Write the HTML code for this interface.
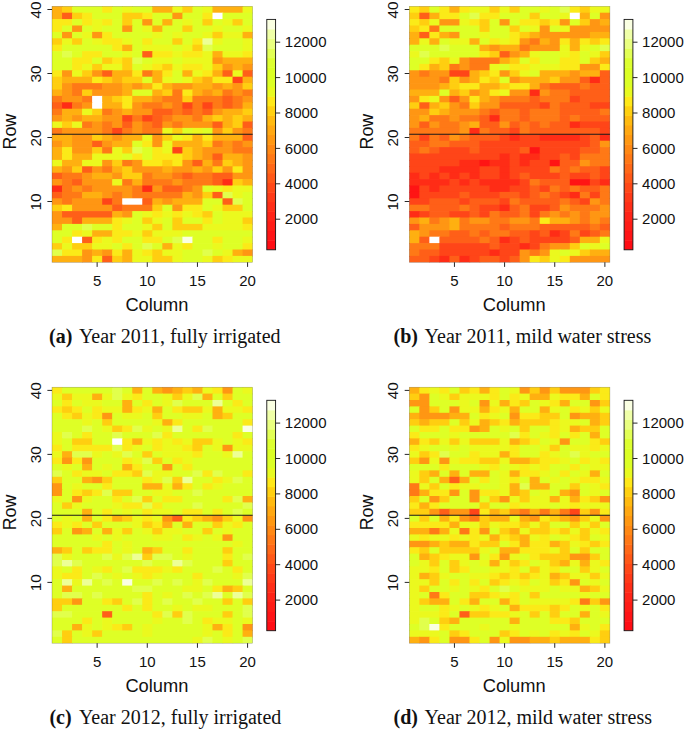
<!DOCTYPE html>
<html><head><meta charset="utf-8"><title>Heat maps</title>
<style>
html,body{margin:0;padding:0;background:#fff;}
svg{display:block;}
.s{font-family:"Liberation Sans",sans-serif;fill:#111;}
.t{font-family:"Liberation Serif",serif;fill:#111;}
</style></head><body>
<svg width="685" height="729" viewBox="0 0 685 729">
<rect x="0" y="0" width="685" height="729" fill="#fff"/>
<g>
<rect x="52" y="6.3" width="10.73" height="7.1" fill="#FFB010"/><rect x="62.03" y="6.3" width="10.73" height="7.1" fill="#FFCE10"/><rect x="72.06" y="6.3" width="30.79" height="7.1" fill="#DEFF26"/><rect x="102.15" y="6.3" width="10.73" height="7.1" fill="#FBEA18"/><rect x="112.18" y="6.3" width="10.73" height="7.1" fill="#DEFF26"/><rect x="122.21" y="6.3" width="10.73" height="7.1" fill="#EBF91E"/><rect x="132.24" y="6.3" width="20.76" height="7.1" fill="#DEFF26"/><rect x="152.3" y="6.3" width="20.76" height="7.1" fill="#FFB010"/><rect x="172.36" y="6.3" width="10.73" height="7.1" fill="#EBF91E"/><rect x="182.39" y="6.3" width="10.73" height="7.1" fill="#FFCE10"/><rect x="192.42" y="6.3" width="10.73" height="7.1" fill="#DEFF26"/><rect x="202.45" y="6.3" width="10.73" height="7.1" fill="#EBF91E"/><rect x="212.48" y="6.3" width="30.79" height="7.1" fill="#FFB010"/><rect x="242.57" y="6.3" width="10.03" height="7.1" fill="#EBF91E"/>
<rect x="52" y="12.7" width="10.73" height="7.1" fill="#FFB010"/><rect x="62.03" y="12.7" width="10.73" height="7.1" fill="#FF5F18"/><rect x="72.06" y="12.7" width="10.73" height="7.1" fill="#FFCE10"/><rect x="82.09" y="12.7" width="10.73" height="7.1" fill="#FBEA18"/><rect x="92.12" y="12.7" width="30.79" height="7.1" fill="#DEFF26"/><rect x="122.21" y="12.7" width="20.76" height="7.1" fill="#FFCE10"/><rect x="142.27" y="12.7" width="10.73" height="7.1" fill="#FBEA18"/><rect x="152.3" y="12.7" width="20.76" height="7.1" fill="#DEFF26"/><rect x="172.36" y="12.7" width="10.73" height="7.1" fill="#FF9613"/><rect x="182.39" y="12.7" width="20.76" height="7.1" fill="#DEFF26"/><rect x="202.45" y="12.7" width="10.73" height="7.1" fill="#FBEA18"/><rect x="212.48" y="12.7" width="10.73" height="7.1" fill="#FFFFFF"/><rect x="222.51" y="12.7" width="30.09" height="7.1" fill="#DEFF26"/>
<rect x="52" y="19.1" width="20.76" height="7.1" fill="#FBEA18"/><rect x="72.06" y="19.1" width="10.73" height="7.1" fill="#DEFF26"/><rect x="82.09" y="19.1" width="10.73" height="7.1" fill="#FBEA18"/><rect x="92.12" y="19.1" width="10.73" height="7.1" fill="#EBF91E"/><rect x="102.15" y="19.1" width="10.73" height="7.1" fill="#FBEA18"/><rect x="112.18" y="19.1" width="10.73" height="7.1" fill="#DEFF26"/><rect x="122.21" y="19.1" width="10.73" height="7.1" fill="#FFCE10"/><rect x="132.24" y="19.1" width="10.73" height="7.1" fill="#DEFF26"/><rect x="142.27" y="19.1" width="10.73" height="7.1" fill="#FF9613"/><rect x="152.3" y="19.1" width="10.73" height="7.1" fill="#DEFF26"/><rect x="162.33" y="19.1" width="10.73" height="7.1" fill="#FFB010"/><rect x="172.36" y="19.1" width="10.73" height="7.1" fill="#DEFF26"/><rect x="182.39" y="19.1" width="10.73" height="7.1" fill="#EBF91E"/><rect x="192.42" y="19.1" width="10.73" height="7.1" fill="#DEFF26"/><rect x="202.45" y="19.1" width="10.73" height="7.1" fill="#FFCE10"/><rect x="212.48" y="19.1" width="10.73" height="7.1" fill="#DEFF26"/><rect x="222.51" y="19.1" width="10.73" height="7.1" fill="#EBF91E"/><rect x="232.54" y="19.1" width="10.73" height="7.1" fill="#FFCE10"/><rect x="242.57" y="19.1" width="10.03" height="7.1" fill="#DEFF26"/>
<rect x="52" y="25.5" width="10.73" height="7.1" fill="#FBEA18"/><rect x="62.03" y="25.5" width="10.73" height="7.1" fill="#DEFF26"/><rect x="72.06" y="25.5" width="10.73" height="7.1" fill="#FF9613"/><rect x="82.09" y="25.5" width="10.73" height="7.1" fill="#DEFF26"/><rect x="92.12" y="25.5" width="10.73" height="7.1" fill="#EBF91E"/><rect x="102.15" y="25.5" width="20.76" height="7.1" fill="#DEFF26"/><rect x="122.21" y="25.5" width="10.73" height="7.1" fill="#FF9613"/><rect x="132.24" y="25.5" width="10.73" height="7.1" fill="#DEFF26"/><rect x="142.27" y="25.5" width="10.73" height="7.1" fill="#EBF91E"/><rect x="152.3" y="25.5" width="10.73" height="7.1" fill="#FFB010"/><rect x="162.33" y="25.5" width="20.76" height="7.1" fill="#DEFF26"/><rect x="182.39" y="25.5" width="10.73" height="7.1" fill="#FFCE10"/><rect x="192.42" y="25.5" width="20.76" height="7.1" fill="#DEFF26"/><rect x="212.48" y="25.5" width="10.73" height="7.1" fill="#EBF91E"/><rect x="222.51" y="25.5" width="20.76" height="7.1" fill="#DEFF26"/><rect x="242.57" y="25.5" width="10.03" height="7.1" fill="#EBF91E"/>
<rect x="52" y="31.9" width="10.73" height="7.1" fill="#DEFF26"/><rect x="62.03" y="31.9" width="10.73" height="7.1" fill="#FF9613"/><rect x="72.06" y="31.9" width="10.73" height="7.1" fill="#DEFF26"/><rect x="82.09" y="31.9" width="10.73" height="7.1" fill="#EBF91E"/><rect x="92.12" y="31.9" width="10.73" height="7.1" fill="#FF9613"/><rect x="102.15" y="31.9" width="10.73" height="7.1" fill="#FBEA18"/><rect x="112.18" y="31.9" width="40.82" height="7.1" fill="#DEFF26"/><rect x="152.3" y="31.9" width="10.73" height="7.1" fill="#EBF91E"/><rect x="162.33" y="31.9" width="10.73" height="7.1" fill="#DEFF26"/><rect x="172.36" y="31.9" width="10.73" height="7.1" fill="#EBF91E"/><rect x="182.39" y="31.9" width="20.76" height="7.1" fill="#DEFF26"/><rect x="202.45" y="31.9" width="10.73" height="7.1" fill="#EBF91E"/><rect x="212.48" y="31.9" width="10.73" height="7.1" fill="#FFCE10"/><rect x="222.51" y="31.9" width="20.76" height="7.1" fill="#EBF91E"/><rect x="242.57" y="31.9" width="10.03" height="7.1" fill="#FFB010"/>
<rect x="52" y="38.3" width="10.73" height="7.1" fill="#FFCE10"/><rect x="62.03" y="38.3" width="10.73" height="7.1" fill="#EBF91E"/><rect x="72.06" y="38.3" width="10.73" height="7.1" fill="#FFCE10"/><rect x="82.09" y="38.3" width="10.73" height="7.1" fill="#DEFF26"/><rect x="92.12" y="38.3" width="10.73" height="7.1" fill="#EBF91E"/><rect x="102.15" y="38.3" width="20.76" height="7.1" fill="#FBEA18"/><rect x="122.21" y="38.3" width="10.73" height="7.1" fill="#EBF91E"/><rect x="132.24" y="38.3" width="10.73" height="7.1" fill="#DEFF26"/><rect x="142.27" y="38.3" width="10.73" height="7.1" fill="#FBEA18"/><rect x="152.3" y="38.3" width="20.76" height="7.1" fill="#DEFF26"/><rect x="172.36" y="38.3" width="10.73" height="7.1" fill="#FFCE10"/><rect x="182.39" y="38.3" width="10.73" height="7.1" fill="#DEFF26"/><rect x="192.42" y="38.3" width="10.73" height="7.1" fill="#FBEA18"/><rect x="202.45" y="38.3" width="10.73" height="7.1" fill="#EDFF96"/><rect x="212.48" y="38.3" width="10.73" height="7.1" fill="#EBF91E"/><rect x="222.51" y="38.3" width="20.76" height="7.1" fill="#DEFF26"/><rect x="242.57" y="38.3" width="10.03" height="7.1" fill="#EBF91E"/>
<rect x="52" y="44.7" width="10.73" height="7.1" fill="#FBEA18"/><rect x="62.03" y="44.7" width="50.85" height="7.1" fill="#DEFF26"/><rect x="112.18" y="44.7" width="10.73" height="7.1" fill="#FBEA18"/><rect x="122.21" y="44.7" width="10.73" height="7.1" fill="#FFB010"/><rect x="132.24" y="44.7" width="10.73" height="7.1" fill="#DEFF26"/><rect x="142.27" y="44.7" width="30.79" height="7.1" fill="#EBF91E"/><rect x="172.36" y="44.7" width="10.73" height="7.1" fill="#DEFF26"/><rect x="182.39" y="44.7" width="10.73" height="7.1" fill="#EBF91E"/><rect x="192.42" y="44.7" width="10.73" height="7.1" fill="#FFCE10"/><rect x="202.45" y="44.7" width="10.73" height="7.1" fill="#E1FF4C"/><rect x="212.48" y="44.7" width="30.79" height="7.1" fill="#DEFF26"/><rect x="242.57" y="44.7" width="10.03" height="7.1" fill="#EBF91E"/>
<rect x="52" y="51.1" width="10.73" height="7.1" fill="#DEFF26"/><rect x="62.03" y="51.1" width="10.73" height="7.1" fill="#E1FF4C"/><rect x="72.06" y="51.1" width="10.73" height="7.1" fill="#DEFF26"/><rect x="82.09" y="51.1" width="20.76" height="7.1" fill="#FBEA18"/><rect x="102.15" y="51.1" width="20.76" height="7.1" fill="#DEFF26"/><rect x="122.21" y="51.1" width="10.73" height="7.1" fill="#EBF91E"/><rect x="132.24" y="51.1" width="10.73" height="7.1" fill="#DEFF26"/><rect x="142.27" y="51.1" width="10.73" height="7.1" fill="#FF5F18"/><rect x="152.3" y="51.1" width="20.76" height="7.1" fill="#FBEA18"/><rect x="172.36" y="51.1" width="10.73" height="7.1" fill="#EBF91E"/><rect x="182.39" y="51.1" width="20.76" height="7.1" fill="#FBEA18"/><rect x="202.45" y="51.1" width="10.73" height="7.1" fill="#EBF91E"/><rect x="212.48" y="51.1" width="10.73" height="7.1" fill="#FFB010"/><rect x="222.51" y="51.1" width="20.76" height="7.1" fill="#EBF91E"/><rect x="242.57" y="51.1" width="10.03" height="7.1" fill="#FBEA18"/>
<rect x="52" y="57.5" width="20.76" height="7.1" fill="#DEFF26"/><rect x="72.06" y="57.5" width="20.76" height="7.1" fill="#FBEA18"/><rect x="92.12" y="57.5" width="10.73" height="7.1" fill="#DEFF26"/><rect x="102.15" y="57.5" width="10.73" height="7.1" fill="#FFCE10"/><rect x="112.18" y="57.5" width="10.73" height="7.1" fill="#FBEA18"/><rect x="122.21" y="57.5" width="10.73" height="7.1" fill="#FFCE10"/><rect x="132.24" y="57.5" width="10.73" height="7.1" fill="#E1FF4C"/><rect x="142.27" y="57.5" width="10.73" height="7.1" fill="#DEFF26"/><rect x="152.3" y="57.5" width="20.76" height="7.1" fill="#EBF91E"/><rect x="172.36" y="57.5" width="10.73" height="7.1" fill="#DEFF26"/><rect x="182.39" y="57.5" width="30.79" height="7.1" fill="#EBF91E"/><rect x="212.48" y="57.5" width="10.73" height="7.1" fill="#FF9613"/><rect x="222.51" y="57.5" width="30.09" height="7.1" fill="#FFB010"/>
<rect x="52" y="63.9" width="20.76" height="7.1" fill="#DEFF26"/><rect x="72.06" y="63.9" width="10.73" height="7.1" fill="#FBEA18"/><rect x="82.09" y="63.9" width="10.73" height="7.1" fill="#EBF91E"/><rect x="92.12" y="63.9" width="10.73" height="7.1" fill="#FFCE10"/><rect x="102.15" y="63.9" width="20.76" height="7.1" fill="#EBF91E"/><rect x="122.21" y="63.9" width="10.73" height="7.1" fill="#FFCE10"/><rect x="132.24" y="63.9" width="10.73" height="7.1" fill="#DEFF26"/><rect x="142.27" y="63.9" width="10.73" height="7.1" fill="#EBF91E"/><rect x="152.3" y="63.9" width="10.73" height="7.1" fill="#FBEA18"/><rect x="162.33" y="63.9" width="10.73" height="7.1" fill="#FFCE10"/><rect x="172.36" y="63.9" width="10.73" height="7.1" fill="#EBF91E"/><rect x="182.39" y="63.9" width="20.76" height="7.1" fill="#FBEA18"/><rect x="202.45" y="63.9" width="10.73" height="7.1" fill="#EBF91E"/><rect x="212.48" y="63.9" width="10.73" height="7.1" fill="#FFCE10"/><rect x="222.51" y="63.9" width="10.73" height="7.1" fill="#FF9613"/><rect x="232.54" y="63.9" width="10.73" height="7.1" fill="#FFB010"/><rect x="242.57" y="63.9" width="10.03" height="7.1" fill="#FF9613"/>
<rect x="52" y="70.3" width="10.73" height="7.1" fill="#FBEA18"/><rect x="62.03" y="70.3" width="10.73" height="7.1" fill="#FF9613"/><rect x="72.06" y="70.3" width="10.73" height="7.1" fill="#EBF91E"/><rect x="82.09" y="70.3" width="10.73" height="7.1" fill="#FFCE10"/><rect x="92.12" y="70.3" width="10.73" height="7.1" fill="#FF9613"/><rect x="102.15" y="70.3" width="10.73" height="7.1" fill="#FF5F18"/><rect x="112.18" y="70.3" width="20.76" height="7.1" fill="#FFB010"/><rect x="132.24" y="70.3" width="10.73" height="7.1" fill="#FBEA18"/><rect x="142.27" y="70.3" width="10.73" height="7.1" fill="#FF7916"/><rect x="152.3" y="70.3" width="10.73" height="7.1" fill="#FFB010"/><rect x="162.33" y="70.3" width="10.73" height="7.1" fill="#FBEA18"/><rect x="172.36" y="70.3" width="10.73" height="7.1" fill="#DEFF26"/><rect x="182.39" y="70.3" width="10.73" height="7.1" fill="#FFB010"/><rect x="192.42" y="70.3" width="10.73" height="7.1" fill="#EBF91E"/><rect x="202.45" y="70.3" width="10.73" height="7.1" fill="#FBEA18"/><rect x="212.48" y="70.3" width="10.73" height="7.1" fill="#FFB010"/><rect x="222.51" y="70.3" width="10.73" height="7.1" fill="#FF5F18"/><rect x="232.54" y="70.3" width="10.73" height="7.1" fill="#EBF91E"/><rect x="242.57" y="70.3" width="10.03" height="7.1" fill="#FF5F18"/>
<rect x="52" y="76.7" width="10.73" height="7.1" fill="#FFCE10"/><rect x="62.03" y="76.7" width="30.79" height="7.1" fill="#FFB010"/><rect x="92.12" y="76.7" width="10.73" height="7.1" fill="#FBEA18"/><rect x="102.15" y="76.7" width="10.73" height="7.1" fill="#FFCE10"/><rect x="112.18" y="76.7" width="10.73" height="7.1" fill="#FFB010"/><rect x="122.21" y="76.7" width="20.76" height="7.1" fill="#FFCE10"/><rect x="142.27" y="76.7" width="10.73" height="7.1" fill="#DEFF26"/><rect x="152.3" y="76.7" width="10.73" height="7.1" fill="#FFB010"/><rect x="162.33" y="76.7" width="10.73" height="7.1" fill="#EBF91E"/><rect x="172.36" y="76.7" width="10.73" height="7.1" fill="#DEFF26"/><rect x="182.39" y="76.7" width="10.73" height="7.1" fill="#EBF91E"/><rect x="192.42" y="76.7" width="10.73" height="7.1" fill="#FFCE10"/><rect x="202.45" y="76.7" width="10.73" height="7.1" fill="#FFB010"/><rect x="212.48" y="76.7" width="20.76" height="7.1" fill="#FBEA18"/><rect x="232.54" y="76.7" width="10.73" height="7.1" fill="#FF4518"/><rect x="242.57" y="76.7" width="10.03" height="7.1" fill="#FFB010"/>
<rect x="52" y="83.1" width="10.73" height="7.1" fill="#FFCE10"/><rect x="62.03" y="83.1" width="10.73" height="7.1" fill="#FF9613"/><rect x="72.06" y="83.1" width="30.79" height="7.1" fill="#FF7916"/><rect x="102.15" y="83.1" width="20.76" height="7.1" fill="#FF9613"/><rect x="122.21" y="83.1" width="10.73" height="7.1" fill="#FFB010"/><rect x="132.24" y="83.1" width="10.73" height="7.1" fill="#FF9613"/><rect x="142.27" y="83.1" width="10.73" height="7.1" fill="#FFB010"/><rect x="152.3" y="83.1" width="10.73" height="7.1" fill="#FBEA18"/><rect x="162.33" y="83.1" width="10.73" height="7.1" fill="#FFB010"/><rect x="172.36" y="83.1" width="20.76" height="7.1" fill="#FF9613"/><rect x="192.42" y="83.1" width="20.76" height="7.1" fill="#FFB010"/><rect x="212.48" y="83.1" width="10.73" height="7.1" fill="#FF9613"/><rect x="222.51" y="83.1" width="10.73" height="7.1" fill="#FFB010"/><rect x="232.54" y="83.1" width="10.73" height="7.1" fill="#FF9613"/><rect x="242.57" y="83.1" width="10.03" height="7.1" fill="#FFCE10"/>
<rect x="52" y="89.5" width="10.73" height="7.1" fill="#FFB010"/><rect x="62.03" y="89.5" width="10.73" height="7.1" fill="#FF9613"/><rect x="72.06" y="89.5" width="10.73" height="7.1" fill="#FF7916"/><rect x="82.09" y="89.5" width="10.73" height="7.1" fill="#FFCE10"/><rect x="92.12" y="89.5" width="30.79" height="7.1" fill="#FF9613"/><rect x="122.21" y="89.5" width="10.73" height="7.1" fill="#FFB010"/><rect x="132.24" y="89.5" width="20.76" height="7.1" fill="#DEFF26"/><rect x="152.3" y="89.5" width="10.73" height="7.1" fill="#FFB010"/><rect x="162.33" y="89.5" width="10.73" height="7.1" fill="#FFCE10"/><rect x="172.36" y="89.5" width="10.73" height="7.1" fill="#FF7916"/><rect x="182.39" y="89.5" width="10.73" height="7.1" fill="#FBEA18"/><rect x="192.42" y="89.5" width="10.73" height="7.1" fill="#FFB010"/><rect x="202.45" y="89.5" width="10.73" height="7.1" fill="#FF9613"/><rect x="212.48" y="89.5" width="10.73" height="7.1" fill="#FFB010"/><rect x="222.51" y="89.5" width="10.73" height="7.1" fill="#FF7916"/><rect x="232.54" y="89.5" width="10.73" height="7.1" fill="#FF9613"/><rect x="242.57" y="89.5" width="10.03" height="7.1" fill="#FF7916"/>
<rect x="52" y="95.9" width="10.73" height="7.1" fill="#FF7916"/><rect x="62.03" y="95.9" width="20.76" height="7.1" fill="#FF9613"/><rect x="82.09" y="95.9" width="10.73" height="7.1" fill="#FF7916"/><rect x="92.12" y="95.9" width="10.73" height="7.1" fill="#FFFFFF"/><rect x="102.15" y="95.9" width="10.73" height="7.1" fill="#FFB010"/><rect x="112.18" y="95.9" width="10.73" height="7.1" fill="#FFCE10"/><rect x="122.21" y="95.9" width="10.73" height="7.1" fill="#FBEA18"/><rect x="132.24" y="95.9" width="20.76" height="7.1" fill="#FFB010"/><rect x="152.3" y="95.9" width="10.73" height="7.1" fill="#FF9613"/><rect x="162.33" y="95.9" width="20.76" height="7.1" fill="#FF7916"/><rect x="182.39" y="95.9" width="10.73" height="7.1" fill="#FFCE10"/><rect x="192.42" y="95.9" width="30.79" height="7.1" fill="#FF7916"/><rect x="222.51" y="95.9" width="10.73" height="7.1" fill="#FF5F18"/><rect x="232.54" y="95.9" width="10.73" height="7.1" fill="#FF7916"/><rect x="242.57" y="95.9" width="10.03" height="7.1" fill="#FF9613"/>
<rect x="52" y="102.3" width="10.73" height="7.1" fill="#FF5F18"/><rect x="62.03" y="102.3" width="10.73" height="7.1" fill="#FF2C16"/><rect x="72.06" y="102.3" width="10.73" height="7.1" fill="#FF7916"/><rect x="82.09" y="102.3" width="10.73" height="7.1" fill="#FF9613"/><rect x="92.12" y="102.3" width="10.73" height="7.1" fill="#FFFFFF"/><rect x="102.15" y="102.3" width="20.76" height="7.1" fill="#FFB010"/><rect x="122.21" y="102.3" width="10.73" height="7.1" fill="#FBEA18"/><rect x="132.24" y="102.3" width="10.73" height="7.1" fill="#FF9613"/><rect x="142.27" y="102.3" width="20.76" height="7.1" fill="#FF7916"/><rect x="162.33" y="102.3" width="10.73" height="7.1" fill="#FF9613"/><rect x="172.36" y="102.3" width="10.73" height="7.1" fill="#FF7916"/><rect x="182.39" y="102.3" width="10.73" height="7.1" fill="#FF4518"/><rect x="192.42" y="102.3" width="10.73" height="7.1" fill="#FF7916"/><rect x="202.45" y="102.3" width="10.73" height="7.1" fill="#FF4518"/><rect x="212.48" y="102.3" width="10.73" height="7.1" fill="#FF7916"/><rect x="222.51" y="102.3" width="10.73" height="7.1" fill="#FF5F18"/><rect x="232.54" y="102.3" width="10.73" height="7.1" fill="#FF7916"/><rect x="242.57" y="102.3" width="10.03" height="7.1" fill="#FFB010"/>
<rect x="52" y="108.7" width="10.73" height="7.1" fill="#FF7916"/><rect x="62.03" y="108.7" width="20.76" height="7.1" fill="#FFB010"/><rect x="82.09" y="108.7" width="10.73" height="7.1" fill="#EBF91E"/><rect x="92.12" y="108.7" width="10.73" height="7.1" fill="#FFCE10"/><rect x="102.15" y="108.7" width="10.73" height="7.1" fill="#FF7916"/><rect x="112.18" y="108.7" width="10.73" height="7.1" fill="#FF9613"/><rect x="122.21" y="108.7" width="10.73" height="7.1" fill="#FFB010"/><rect x="132.24" y="108.7" width="20.76" height="7.1" fill="#FF9613"/><rect x="152.3" y="108.7" width="20.76" height="7.1" fill="#FF5F18"/><rect x="172.36" y="108.7" width="10.73" height="7.1" fill="#FF7916"/><rect x="182.39" y="108.7" width="10.73" height="7.1" fill="#FF5F18"/><rect x="192.42" y="108.7" width="10.73" height="7.1" fill="#FF7916"/><rect x="202.45" y="108.7" width="10.73" height="7.1" fill="#FF5F18"/><rect x="212.48" y="108.7" width="10.73" height="7.1" fill="#FF9613"/><rect x="222.51" y="108.7" width="20.76" height="7.1" fill="#FFB010"/><rect x="242.57" y="108.7" width="10.03" height="7.1" fill="#FFCE10"/>
<rect x="52" y="115.1" width="10.73" height="7.1" fill="#FF9613"/><rect x="62.03" y="115.1" width="10.73" height="7.1" fill="#FFB010"/><rect x="72.06" y="115.1" width="10.73" height="7.1" fill="#FF9613"/><rect x="82.09" y="115.1" width="20.76" height="7.1" fill="#FFB010"/><rect x="102.15" y="115.1" width="20.76" height="7.1" fill="#FF9613"/><rect x="122.21" y="115.1" width="10.73" height="7.1" fill="#FF4518"/><rect x="132.24" y="115.1" width="10.73" height="7.1" fill="#FF7916"/><rect x="142.27" y="115.1" width="10.73" height="7.1" fill="#FF4518"/><rect x="152.3" y="115.1" width="10.73" height="7.1" fill="#FF5F18"/><rect x="162.33" y="115.1" width="10.73" height="7.1" fill="#FF7916"/><rect x="172.36" y="115.1" width="20.76" height="7.1" fill="#FF9613"/><rect x="192.42" y="115.1" width="10.73" height="7.1" fill="#FF7916"/><rect x="202.45" y="115.1" width="10.73" height="7.1" fill="#FFB010"/><rect x="212.48" y="115.1" width="10.73" height="7.1" fill="#FFCE10"/><rect x="222.51" y="115.1" width="10.73" height="7.1" fill="#FFB010"/><rect x="232.54" y="115.1" width="10.73" height="7.1" fill="#FFCE10"/><rect x="242.57" y="115.1" width="10.03" height="7.1" fill="#FFB010"/>
<rect x="52" y="121.5" width="10.73" height="7.1" fill="#EBF91E"/><rect x="62.03" y="121.5" width="10.73" height="7.1" fill="#FFCE10"/><rect x="72.06" y="121.5" width="10.73" height="7.1" fill="#EBF91E"/><rect x="82.09" y="121.5" width="10.73" height="7.1" fill="#FF7916"/><rect x="92.12" y="121.5" width="10.73" height="7.1" fill="#FF9613"/><rect x="102.15" y="121.5" width="10.73" height="7.1" fill="#FF7916"/><rect x="112.18" y="121.5" width="10.73" height="7.1" fill="#FF9613"/><rect x="122.21" y="121.5" width="10.73" height="7.1" fill="#FF5F18"/><rect x="132.24" y="121.5" width="10.73" height="7.1" fill="#FF9613"/><rect x="142.27" y="121.5" width="10.73" height="7.1" fill="#FF7916"/><rect x="152.3" y="121.5" width="10.73" height="7.1" fill="#FF5F18"/><rect x="162.33" y="121.5" width="10.73" height="7.1" fill="#FF9613"/><rect x="172.36" y="121.5" width="10.73" height="7.1" fill="#FF7916"/><rect x="182.39" y="121.5" width="30.79" height="7.1" fill="#FF9613"/><rect x="212.48" y="121.5" width="10.73" height="7.1" fill="#FF5F18"/><rect x="222.51" y="121.5" width="10.73" height="7.1" fill="#FFB010"/><rect x="232.54" y="121.5" width="10.73" height="7.1" fill="#FFCE10"/><rect x="242.57" y="121.5" width="10.03" height="7.1" fill="#FF5F18"/>
<rect x="52" y="127.9" width="10.73" height="7.1" fill="#FF7916"/><rect x="62.03" y="127.9" width="40.82" height="7.1" fill="#FF9613"/><rect x="102.15" y="127.9" width="10.73" height="7.1" fill="#FF7916"/><rect x="112.18" y="127.9" width="10.73" height="7.1" fill="#FF4518"/><rect x="122.21" y="127.9" width="10.73" height="7.1" fill="#FF7916"/><rect x="132.24" y="127.9" width="10.73" height="7.1" fill="#FF9613"/><rect x="142.27" y="127.9" width="20.76" height="7.1" fill="#FF7916"/><rect x="162.33" y="127.9" width="10.73" height="7.1" fill="#EBF91E"/><rect x="172.36" y="127.9" width="10.73" height="7.1" fill="#FFCE10"/><rect x="182.39" y="127.9" width="10.73" height="7.1" fill="#DEFF26"/><rect x="192.42" y="127.9" width="10.73" height="7.1" fill="#EBF91E"/><rect x="202.45" y="127.9" width="10.73" height="7.1" fill="#DEFF26"/><rect x="212.48" y="127.9" width="10.73" height="7.1" fill="#FF9613"/><rect x="222.51" y="127.9" width="10.73" height="7.1" fill="#FFCE10"/><rect x="232.54" y="127.9" width="10.73" height="7.1" fill="#FF9613"/><rect x="242.57" y="127.9" width="10.03" height="7.1" fill="#FF7916"/>
<rect x="52" y="134.3" width="20.76" height="7.1" fill="#FFB010"/><rect x="72.06" y="134.3" width="20.76" height="7.1" fill="#FF9613"/><rect x="92.12" y="134.3" width="10.73" height="7.1" fill="#FFCE10"/><rect x="102.15" y="134.3" width="10.73" height="7.1" fill="#FFB010"/><rect x="112.18" y="134.3" width="10.73" height="7.1" fill="#FF9613"/><rect x="122.21" y="134.3" width="20.76" height="7.1" fill="#FFB010"/><rect x="142.27" y="134.3" width="10.73" height="7.1" fill="#EBF91E"/><rect x="152.3" y="134.3" width="10.73" height="7.1" fill="#FF9613"/><rect x="162.33" y="134.3" width="10.73" height="7.1" fill="#FFCE10"/><rect x="172.36" y="134.3" width="10.73" height="7.1" fill="#EBF91E"/><rect x="182.39" y="134.3" width="10.73" height="7.1" fill="#FBEA18"/><rect x="192.42" y="134.3" width="10.73" height="7.1" fill="#FFB010"/><rect x="202.45" y="134.3" width="10.73" height="7.1" fill="#FBEA18"/><rect x="212.48" y="134.3" width="30.79" height="7.1" fill="#FFB010"/><rect x="242.57" y="134.3" width="10.03" height="7.1" fill="#FF5F18"/>
<rect x="52" y="140.7" width="10.73" height="7.1" fill="#FF9613"/><rect x="62.03" y="140.7" width="10.73" height="7.1" fill="#FFB010"/><rect x="72.06" y="140.7" width="20.76" height="7.1" fill="#FF9613"/><rect x="92.12" y="140.7" width="10.73" height="7.1" fill="#FF5F18"/><rect x="102.15" y="140.7" width="10.73" height="7.1" fill="#FF9613"/><rect x="112.18" y="140.7" width="20.76" height="7.1" fill="#FFB010"/><rect x="132.24" y="140.7" width="10.73" height="7.1" fill="#DEFF26"/><rect x="142.27" y="140.7" width="10.73" height="7.1" fill="#FBEA18"/><rect x="152.3" y="140.7" width="10.73" height="7.1" fill="#FF9613"/><rect x="162.33" y="140.7" width="10.73" height="7.1" fill="#EBF91E"/><rect x="172.36" y="140.7" width="30.79" height="7.1" fill="#FFB010"/><rect x="202.45" y="140.7" width="10.73" height="7.1" fill="#FFCE10"/><rect x="212.48" y="140.7" width="10.73" height="7.1" fill="#FF7916"/><rect x="222.51" y="140.7" width="10.73" height="7.1" fill="#FF9613"/><rect x="232.54" y="140.7" width="10.73" height="7.1" fill="#FF7916"/><rect x="242.57" y="140.7" width="10.03" height="7.1" fill="#FF9613"/>
<rect x="52" y="147.1" width="10.73" height="7.1" fill="#FFB010"/><rect x="62.03" y="147.1" width="10.73" height="7.1" fill="#FBEA18"/><rect x="72.06" y="147.1" width="20.76" height="7.1" fill="#FF9613"/><rect x="92.12" y="147.1" width="10.73" height="7.1" fill="#FFCE10"/><rect x="102.15" y="147.1" width="10.73" height="7.1" fill="#FF7916"/><rect x="112.18" y="147.1" width="10.73" height="7.1" fill="#EBF91E"/><rect x="122.21" y="147.1" width="10.73" height="7.1" fill="#FFCE10"/><rect x="132.24" y="147.1" width="10.73" height="7.1" fill="#E1FF4C"/><rect x="142.27" y="147.1" width="10.73" height="7.1" fill="#DEFF26"/><rect x="152.3" y="147.1" width="10.73" height="7.1" fill="#FBEA18"/><rect x="162.33" y="147.1" width="10.73" height="7.1" fill="#EBF91E"/><rect x="172.36" y="147.1" width="10.73" height="7.1" fill="#FF4518"/><rect x="182.39" y="147.1" width="10.73" height="7.1" fill="#FFCE10"/><rect x="192.42" y="147.1" width="10.73" height="7.1" fill="#FFB010"/><rect x="202.45" y="147.1" width="30.79" height="7.1" fill="#FF9613"/><rect x="232.54" y="147.1" width="20.06" height="7.1" fill="#FF7916"/>
<rect x="52" y="153.5" width="10.73" height="7.1" fill="#FFB010"/><rect x="62.03" y="153.5" width="10.73" height="7.1" fill="#FBEA18"/><rect x="72.06" y="153.5" width="20.76" height="7.1" fill="#FFB010"/><rect x="92.12" y="153.5" width="30.79" height="7.1" fill="#EBF91E"/><rect x="122.21" y="153.5" width="10.73" height="7.1" fill="#DEFF26"/><rect x="132.24" y="153.5" width="10.73" height="7.1" fill="#FBEA18"/><rect x="142.27" y="153.5" width="10.73" height="7.1" fill="#DEFF26"/><rect x="152.3" y="153.5" width="30.79" height="7.1" fill="#FBEA18"/><rect x="182.39" y="153.5" width="10.73" height="7.1" fill="#FFCE10"/><rect x="192.42" y="153.5" width="10.73" height="7.1" fill="#FFB010"/><rect x="202.45" y="153.5" width="10.73" height="7.1" fill="#FF9613"/><rect x="212.48" y="153.5" width="10.73" height="7.1" fill="#FF5F18"/><rect x="222.51" y="153.5" width="20.76" height="7.1" fill="#FFB010"/><rect x="242.57" y="153.5" width="10.03" height="7.1" fill="#FF9613"/>
<rect x="52" y="159.9" width="10.73" height="7.1" fill="#EBF91E"/><rect x="62.03" y="159.9" width="20.76" height="7.1" fill="#FFB010"/><rect x="82.09" y="159.9" width="20.76" height="7.1" fill="#EBF91E"/><rect x="102.15" y="159.9" width="10.73" height="7.1" fill="#FF9613"/><rect x="112.18" y="159.9" width="10.73" height="7.1" fill="#FFCE10"/><rect x="122.21" y="159.9" width="10.73" height="7.1" fill="#FF7916"/><rect x="132.24" y="159.9" width="10.73" height="7.1" fill="#FF9613"/><rect x="142.27" y="159.9" width="20.76" height="7.1" fill="#FBEA18"/><rect x="162.33" y="159.9" width="10.73" height="7.1" fill="#FFCE10"/><rect x="172.36" y="159.9" width="10.73" height="7.1" fill="#FBEA18"/><rect x="182.39" y="159.9" width="10.73" height="7.1" fill="#FF9613"/><rect x="192.42" y="159.9" width="10.73" height="7.1" fill="#FF5F18"/><rect x="202.45" y="159.9" width="10.73" height="7.1" fill="#FFB010"/><rect x="212.48" y="159.9" width="10.73" height="7.1" fill="#FF7916"/><rect x="222.51" y="159.9" width="10.73" height="7.1" fill="#FFCE10"/><rect x="232.54" y="159.9" width="10.73" height="7.1" fill="#FFB010"/><rect x="242.57" y="159.9" width="10.03" height="7.1" fill="#FF9613"/>
<rect x="52" y="166.3" width="10.73" height="7.1" fill="#FFB010"/><rect x="62.03" y="166.3" width="10.73" height="7.1" fill="#FF9613"/><rect x="72.06" y="166.3" width="10.73" height="7.1" fill="#FFCE10"/><rect x="82.09" y="166.3" width="10.73" height="7.1" fill="#FF5F18"/><rect x="92.12" y="166.3" width="10.73" height="7.1" fill="#FF9613"/><rect x="102.15" y="166.3" width="10.73" height="7.1" fill="#FF7916"/><rect x="112.18" y="166.3" width="10.73" height="7.1" fill="#FFB010"/><rect x="122.21" y="166.3" width="10.73" height="7.1" fill="#FFCE10"/><rect x="132.24" y="166.3" width="30.79" height="7.1" fill="#FF9613"/><rect x="162.33" y="166.3" width="10.73" height="7.1" fill="#FFB010"/><rect x="172.36" y="166.3" width="20.76" height="7.1" fill="#FF9613"/><rect x="192.42" y="166.3" width="10.73" height="7.1" fill="#FFB010"/><rect x="202.45" y="166.3" width="10.73" height="7.1" fill="#FF9613"/><rect x="212.48" y="166.3" width="10.73" height="7.1" fill="#FFCE10"/><rect x="222.51" y="166.3" width="10.73" height="7.1" fill="#FF9613"/><rect x="232.54" y="166.3" width="10.73" height="7.1" fill="#FBEA18"/><rect x="242.57" y="166.3" width="10.03" height="7.1" fill="#FF9613"/>
<rect x="52" y="172.7" width="10.73" height="7.1" fill="#FF5F18"/><rect x="62.03" y="172.7" width="20.76" height="7.1" fill="#FF7916"/><rect x="82.09" y="172.7" width="10.73" height="7.1" fill="#FF9613"/><rect x="92.12" y="172.7" width="20.76" height="7.1" fill="#FFB010"/><rect x="112.18" y="172.7" width="10.73" height="7.1" fill="#FF9613"/><rect x="122.21" y="172.7" width="20.76" height="7.1" fill="#FFCE10"/><rect x="142.27" y="172.7" width="10.73" height="7.1" fill="#FF7916"/><rect x="152.3" y="172.7" width="20.76" height="7.1" fill="#FF9613"/><rect x="172.36" y="172.7" width="10.73" height="7.1" fill="#FF7916"/><rect x="182.39" y="172.7" width="10.73" height="7.1" fill="#FF5F18"/><rect x="192.42" y="172.7" width="20.76" height="7.1" fill="#FF7916"/><rect x="212.48" y="172.7" width="20.76" height="7.1" fill="#FF5F18"/><rect x="232.54" y="172.7" width="20.06" height="7.1" fill="#FF9613"/>
<rect x="52" y="179.1" width="10.73" height="7.1" fill="#FF9613"/><rect x="62.03" y="179.1" width="10.73" height="7.1" fill="#FF7916"/><rect x="72.06" y="179.1" width="10.73" height="7.1" fill="#FF5F18"/><rect x="82.09" y="179.1" width="30.79" height="7.1" fill="#FF9613"/><rect x="112.18" y="179.1" width="10.73" height="7.1" fill="#EBF91E"/><rect x="122.21" y="179.1" width="10.73" height="7.1" fill="#FF7916"/><rect x="132.24" y="179.1" width="10.73" height="7.1" fill="#FFB010"/><rect x="142.27" y="179.1" width="30.79" height="7.1" fill="#FF7916"/><rect x="172.36" y="179.1" width="10.73" height="7.1" fill="#FF9613"/><rect x="182.39" y="179.1" width="30.79" height="7.1" fill="#FF7916"/><rect x="212.48" y="179.1" width="10.73" height="7.1" fill="#FF5F18"/><rect x="222.51" y="179.1" width="10.73" height="7.1" fill="#FF2C16"/><rect x="232.54" y="179.1" width="10.73" height="7.1" fill="#FFCE10"/><rect x="242.57" y="179.1" width="10.03" height="7.1" fill="#FFB010"/>
<rect x="52" y="185.5" width="10.73" height="7.1" fill="#FF2C16"/><rect x="62.03" y="185.5" width="10.73" height="7.1" fill="#FF7916"/><rect x="72.06" y="185.5" width="10.73" height="7.1" fill="#FF9613"/><rect x="82.09" y="185.5" width="10.73" height="7.1" fill="#FF7916"/><rect x="92.12" y="185.5" width="40.82" height="7.1" fill="#FF9613"/><rect x="132.24" y="185.5" width="10.73" height="7.1" fill="#FF7916"/><rect x="142.27" y="185.5" width="10.73" height="7.1" fill="#FF2C16"/><rect x="152.3" y="185.5" width="10.73" height="7.1" fill="#FF9613"/><rect x="162.33" y="185.5" width="20.76" height="7.1" fill="#FF5F18"/><rect x="182.39" y="185.5" width="10.73" height="7.1" fill="#FF7916"/><rect x="192.42" y="185.5" width="10.73" height="7.1" fill="#FF9613"/><rect x="202.45" y="185.5" width="10.73" height="7.1" fill="#DEFF26"/><rect x="212.48" y="185.5" width="10.73" height="7.1" fill="#EBF91E"/><rect x="222.51" y="185.5" width="10.73" height="7.1" fill="#FBEA18"/><rect x="232.54" y="185.5" width="20.06" height="7.1" fill="#EBF91E"/>
<rect x="52" y="191.9" width="10.73" height="7.1" fill="#FF5F18"/><rect x="62.03" y="191.9" width="20.76" height="7.1" fill="#FF7916"/><rect x="82.09" y="191.9" width="20.76" height="7.1" fill="#FFB010"/><rect x="102.15" y="191.9" width="10.73" height="7.1" fill="#FF9613"/><rect x="112.18" y="191.9" width="10.73" height="7.1" fill="#FF7916"/><rect x="122.21" y="191.9" width="10.73" height="7.1" fill="#FF9613"/><rect x="132.24" y="191.9" width="50.85" height="7.1" fill="#FF7916"/><rect x="182.39" y="191.9" width="10.73" height="7.1" fill="#FFB010"/><rect x="192.42" y="191.9" width="10.73" height="7.1" fill="#FF9613"/><rect x="202.45" y="191.9" width="10.73" height="7.1" fill="#FFCE10"/><rect x="212.48" y="191.9" width="10.73" height="7.1" fill="#FF5F18"/><rect x="222.51" y="191.9" width="10.73" height="7.1" fill="#E1FF4C"/><rect x="232.54" y="191.9" width="10.73" height="7.1" fill="#EBF91E"/><rect x="242.57" y="191.9" width="10.03" height="7.1" fill="#DEFF26"/>
<rect x="52" y="198.3" width="10.73" height="7.1" fill="#FF9613"/><rect x="62.03" y="198.3" width="10.73" height="7.1" fill="#FF7916"/><rect x="72.06" y="198.3" width="30.79" height="7.1" fill="#FF9613"/><rect x="102.15" y="198.3" width="10.73" height="7.1" fill="#FF4518"/><rect x="112.18" y="198.3" width="10.73" height="7.1" fill="#FF7916"/><rect x="122.21" y="198.3" width="20.76" height="7.1" fill="#FFFFFF"/><rect x="142.27" y="198.3" width="10.73" height="7.1" fill="#FF5F18"/><rect x="152.3" y="198.3" width="10.73" height="7.1" fill="#FFB010"/><rect x="162.33" y="198.3" width="10.73" height="7.1" fill="#FF9613"/><rect x="172.36" y="198.3" width="30.79" height="7.1" fill="#FFB010"/><rect x="202.45" y="198.3" width="20.76" height="7.1" fill="#DEFF26"/><rect x="222.51" y="198.3" width="10.73" height="7.1" fill="#FF5F18"/><rect x="232.54" y="198.3" width="10.73" height="7.1" fill="#E1FF4C"/><rect x="242.57" y="198.3" width="10.03" height="7.1" fill="#DEFF26"/>
<rect x="52" y="204.7" width="10.73" height="7.1" fill="#FFCE10"/><rect x="62.03" y="204.7" width="10.73" height="7.1" fill="#FBEA18"/><rect x="72.06" y="204.7" width="40.82" height="7.1" fill="#FF9613"/><rect x="112.18" y="204.7" width="10.73" height="7.1" fill="#FF5F18"/><rect x="122.21" y="204.7" width="30.79" height="7.1" fill="#FF7916"/><rect x="152.3" y="204.7" width="10.73" height="7.1" fill="#FFCE10"/><rect x="162.33" y="204.7" width="10.73" height="7.1" fill="#DEFF26"/><rect x="172.36" y="204.7" width="10.73" height="7.1" fill="#FF9613"/><rect x="182.39" y="204.7" width="20.76" height="7.1" fill="#FBEA18"/><rect x="202.45" y="204.7" width="10.73" height="7.1" fill="#DEFF26"/><rect x="212.48" y="204.7" width="10.73" height="7.1" fill="#EBF91E"/><rect x="222.51" y="204.7" width="20.76" height="7.1" fill="#FFCE10"/><rect x="242.57" y="204.7" width="10.03" height="7.1" fill="#DEFF26"/>
<rect x="52" y="211.1" width="10.73" height="7.1" fill="#FF9613"/><rect x="62.03" y="211.1" width="50.85" height="7.1" fill="#FF5F18"/><rect x="112.18" y="211.1" width="10.73" height="7.1" fill="#FFB010"/><rect x="122.21" y="211.1" width="10.73" height="7.1" fill="#FF9613"/><rect x="132.24" y="211.1" width="10.73" height="7.1" fill="#DEFF26"/><rect x="142.27" y="211.1" width="10.73" height="7.1" fill="#EBF91E"/><rect x="152.3" y="211.1" width="10.73" height="7.1" fill="#FBEA18"/><rect x="162.33" y="211.1" width="10.73" height="7.1" fill="#EBF91E"/><rect x="172.36" y="211.1" width="10.73" height="7.1" fill="#FBEA18"/><rect x="182.39" y="211.1" width="10.73" height="7.1" fill="#EBF91E"/><rect x="192.42" y="211.1" width="10.73" height="7.1" fill="#FBEA18"/><rect x="202.45" y="211.1" width="10.73" height="7.1" fill="#FFCE10"/><rect x="212.48" y="211.1" width="10.73" height="7.1" fill="#DEFF26"/><rect x="222.51" y="211.1" width="30.09" height="7.1" fill="#EBF91E"/>
<rect x="52" y="217.5" width="20.76" height="7.1" fill="#FF9613"/><rect x="72.06" y="217.5" width="10.73" height="7.1" fill="#FF5F18"/><rect x="82.09" y="217.5" width="30.79" height="7.1" fill="#FFB010"/><rect x="112.18" y="217.5" width="10.73" height="7.1" fill="#FBEA18"/><rect x="122.21" y="217.5" width="10.73" height="7.1" fill="#EBF91E"/><rect x="132.24" y="217.5" width="10.73" height="7.1" fill="#DEFF26"/><rect x="142.27" y="217.5" width="10.73" height="7.1" fill="#FFCE10"/><rect x="152.3" y="217.5" width="10.73" height="7.1" fill="#EBF91E"/><rect x="162.33" y="217.5" width="10.73" height="7.1" fill="#DEFF26"/><rect x="172.36" y="217.5" width="10.73" height="7.1" fill="#FFCE10"/><rect x="182.39" y="217.5" width="20.76" height="7.1" fill="#DEFF26"/><rect x="202.45" y="217.5" width="10.73" height="7.1" fill="#FBEA18"/><rect x="212.48" y="217.5" width="10.73" height="7.1" fill="#DEFF26"/><rect x="222.51" y="217.5" width="20.76" height="7.1" fill="#EBF91E"/><rect x="242.57" y="217.5" width="10.03" height="7.1" fill="#FFCE10"/>
<rect x="52" y="223.9" width="10.73" height="7.1" fill="#FFB010"/><rect x="62.03" y="223.9" width="20.76" height="7.1" fill="#DEFF26"/><rect x="82.09" y="223.9" width="10.73" height="7.1" fill="#E1FF4C"/><rect x="92.12" y="223.9" width="20.76" height="7.1" fill="#DEFF26"/><rect x="112.18" y="223.9" width="10.73" height="7.1" fill="#FBEA18"/><rect x="122.21" y="223.9" width="20.76" height="7.1" fill="#DEFF26"/><rect x="142.27" y="223.9" width="10.73" height="7.1" fill="#EBF91E"/><rect x="152.3" y="223.9" width="10.73" height="7.1" fill="#FFCE10"/><rect x="162.33" y="223.9" width="10.73" height="7.1" fill="#DEFF26"/><rect x="172.36" y="223.9" width="30.79" height="7.1" fill="#FFCE10"/><rect x="202.45" y="223.9" width="40.82" height="7.1" fill="#EBF91E"/><rect x="242.57" y="223.9" width="10.03" height="7.1" fill="#FBEA18"/>
<rect x="52" y="230.3" width="20.76" height="7.1" fill="#DEFF26"/><rect x="72.06" y="230.3" width="10.73" height="7.1" fill="#FBEA18"/><rect x="82.09" y="230.3" width="10.73" height="7.1" fill="#EBF91E"/><rect x="92.12" y="230.3" width="20.76" height="7.1" fill="#FFB010"/><rect x="112.18" y="230.3" width="20.76" height="7.1" fill="#FBEA18"/><rect x="132.24" y="230.3" width="10.73" height="7.1" fill="#EBF91E"/><rect x="142.27" y="230.3" width="10.73" height="7.1" fill="#FFCE10"/><rect x="152.3" y="230.3" width="30.79" height="7.1" fill="#EBF91E"/><rect x="182.39" y="230.3" width="70.21" height="7.1" fill="#DEFF26"/>
<rect x="52" y="236.7" width="10.73" height="7.1" fill="#DEFF26"/><rect x="62.03" y="236.7" width="10.73" height="7.1" fill="#FBEA18"/><rect x="72.06" y="236.7" width="10.73" height="7.1" fill="#FFFFFF"/><rect x="82.09" y="236.7" width="10.73" height="7.1" fill="#FF5F18"/><rect x="92.12" y="236.7" width="10.73" height="7.1" fill="#FBEA18"/><rect x="102.15" y="236.7" width="10.73" height="7.1" fill="#EBF91E"/><rect x="112.18" y="236.7" width="10.73" height="7.1" fill="#FBEA18"/><rect x="122.21" y="236.7" width="20.76" height="7.1" fill="#DEFF26"/><rect x="142.27" y="236.7" width="20.76" height="7.1" fill="#FBEA18"/><rect x="162.33" y="236.7" width="10.73" height="7.1" fill="#DEFF26"/><rect x="172.36" y="236.7" width="10.73" height="7.1" fill="#E1FF4C"/><rect x="182.39" y="236.7" width="10.73" height="7.1" fill="#FAFFE2"/><rect x="192.42" y="236.7" width="20.76" height="7.1" fill="#DEFF26"/><rect x="212.48" y="236.7" width="10.73" height="7.1" fill="#FBEA18"/><rect x="222.51" y="236.7" width="20.76" height="7.1" fill="#DEFF26"/><rect x="242.57" y="236.7" width="10.03" height="7.1" fill="#EBF91E"/>
<rect x="52" y="243.1" width="10.73" height="7.1" fill="#FFCE10"/><rect x="62.03" y="243.1" width="10.73" height="7.1" fill="#EBF91E"/><rect x="72.06" y="243.1" width="20.76" height="7.1" fill="#FFCE10"/><rect x="92.12" y="243.1" width="20.76" height="7.1" fill="#EBF91E"/><rect x="112.18" y="243.1" width="10.73" height="7.1" fill="#DEFF26"/><rect x="122.21" y="243.1" width="10.73" height="7.1" fill="#FBEA18"/><rect x="132.24" y="243.1" width="10.73" height="7.1" fill="#DEFF26"/><rect x="142.27" y="243.1" width="10.73" height="7.1" fill="#E1FF4C"/><rect x="152.3" y="243.1" width="10.73" height="7.1" fill="#DEFF26"/><rect x="162.33" y="243.1" width="10.73" height="7.1" fill="#FFB010"/><rect x="172.36" y="243.1" width="10.73" height="7.1" fill="#EBF91E"/><rect x="182.39" y="243.1" width="10.73" height="7.1" fill="#FBEA18"/><rect x="192.42" y="243.1" width="20.76" height="7.1" fill="#DEFF26"/><rect x="212.48" y="243.1" width="10.73" height="7.1" fill="#EBF91E"/><rect x="222.51" y="243.1" width="20.76" height="7.1" fill="#DEFF26"/><rect x="242.57" y="243.1" width="10.03" height="7.1" fill="#FBEA18"/>
<rect x="52" y="249.5" width="10.73" height="7.1" fill="#E1FF4C"/><rect x="62.03" y="249.5" width="20.76" height="7.1" fill="#FBEA18"/><rect x="82.09" y="249.5" width="10.73" height="7.1" fill="#FF9613"/><rect x="92.12" y="249.5" width="10.73" height="7.1" fill="#FFB010"/><rect x="102.15" y="249.5" width="10.73" height="7.1" fill="#FF9613"/><rect x="112.18" y="249.5" width="10.73" height="7.1" fill="#FBEA18"/><rect x="122.21" y="249.5" width="10.73" height="7.1" fill="#FFB010"/><rect x="132.24" y="249.5" width="10.73" height="7.1" fill="#EBF91E"/><rect x="142.27" y="249.5" width="10.73" height="7.1" fill="#FBEA18"/><rect x="152.3" y="249.5" width="10.73" height="7.1" fill="#FFCE10"/><rect x="162.33" y="249.5" width="20.76" height="7.1" fill="#EBF91E"/><rect x="182.39" y="249.5" width="20.76" height="7.1" fill="#DEFF26"/><rect x="202.45" y="249.5" width="10.73" height="7.1" fill="#E1FF4C"/><rect x="212.48" y="249.5" width="10.73" height="7.1" fill="#DEFF26"/><rect x="222.51" y="249.5" width="10.73" height="7.1" fill="#EBF91E"/><rect x="232.54" y="249.5" width="10.73" height="7.1" fill="#FFB010"/><rect x="242.57" y="249.5" width="10.03" height="7.1" fill="#FF9613"/>
<rect x="52" y="255.9" width="30.79" height="6.4" fill="#FFB010"/><rect x="82.09" y="255.9" width="10.73" height="6.4" fill="#FF9613"/><rect x="92.12" y="255.9" width="10.73" height="6.4" fill="#FBEA18"/><rect x="102.15" y="255.9" width="10.73" height="6.4" fill="#FF5F18"/><rect x="112.18" y="255.9" width="10.73" height="6.4" fill="#FFCE10"/><rect x="122.21" y="255.9" width="10.73" height="6.4" fill="#FFB010"/><rect x="132.24" y="255.9" width="20.76" height="6.4" fill="#EBF91E"/><rect x="152.3" y="255.9" width="20.76" height="6.4" fill="#FFCE10"/><rect x="172.36" y="255.9" width="10.73" height="6.4" fill="#EBF91E"/><rect x="182.39" y="255.9" width="20.76" height="6.4" fill="#DEFF26"/><rect x="202.45" y="255.9" width="10.73" height="6.4" fill="#EBF91E"/><rect x="212.48" y="255.9" width="10.73" height="6.4" fill="#FFCE10"/><rect x="222.51" y="255.9" width="10.73" height="6.4" fill="#FBEA18"/><rect x="232.54" y="255.9" width="20.06" height="6.4" fill="#EBF91E"/>
<rect x="52" y="6.3" width="200.6" height="256" fill="none" stroke="#333" stroke-opacity="0.45" stroke-width="0.5"/>
<line x1="52" y1="134.3" x2="252.6" y2="134.3" stroke="#1a1a1a" stroke-width="1.1"/>
<line x1="97.13" y1="262.3" x2="97.13" y2="266.9" stroke="#111" stroke-width="0.9"/><text class="s" x="97.13" y="285.6" font-size="15" text-anchor="middle">5</text>
<line x1="147.28" y1="262.3" x2="147.28" y2="266.9" stroke="#111" stroke-width="0.9"/><text class="s" x="147.28" y="285.6" font-size="15" text-anchor="middle">10</text>
<line x1="197.44" y1="262.3" x2="197.44" y2="266.9" stroke="#111" stroke-width="0.9"/><text class="s" x="197.44" y="285.6" font-size="15" text-anchor="middle">15</text>
<line x1="247.58" y1="262.3" x2="247.58" y2="266.9" stroke="#111" stroke-width="0.9"/><text class="s" x="247.58" y="285.6" font-size="15" text-anchor="middle">20</text>
<line x1="47.4" y1="201.5" x2="52" y2="201.5" stroke="#111" stroke-width="0.9"/><text class="s" font-size="15.4" text-anchor="middle" transform="translate(40.7,201.9) rotate(-90)">10</text>
<line x1="47.4" y1="137.5" x2="52" y2="137.5" stroke="#111" stroke-width="0.9"/><text class="s" font-size="15.4" text-anchor="middle" transform="translate(40.7,137.9) rotate(-90)">20</text>
<line x1="47.4" y1="73.5" x2="52" y2="73.5" stroke="#111" stroke-width="0.9"/><text class="s" font-size="15.4" text-anchor="middle" transform="translate(40.7,73.9) rotate(-90)">30</text>
<line x1="47.4" y1="9.5" x2="52" y2="9.5" stroke="#111" stroke-width="0.9"/><text class="s" font-size="15.4" text-anchor="middle" transform="translate(40.7,9.9) rotate(-90)">40</text>
<text class="s" x="156.9" y="311" font-size="18.3" text-anchor="middle">Column</text>
<text class="s" font-size="17.8" text-anchor="middle" transform="translate(16,131.6) rotate(-90)">Row</text>
<rect x="266.8" y="240.2" width="8.8" height="9.6" fill="#FF0D14"/><rect x="266.8" y="230.6" width="8.8" height="10.1" fill="#FF1416"/><rect x="266.8" y="221" width="8.8" height="10.1" fill="#FF1C16"/><rect x="266.8" y="211.4" width="8.8" height="10.1" fill="#FF2418"/><rect x="266.8" y="201.8" width="8.8" height="10.1" fill="#FF2E18"/><rect x="266.8" y="192.2" width="8.8" height="10.1" fill="#FF3A18"/><rect x="266.8" y="182.6" width="8.8" height="10.1" fill="#FF4818"/><rect x="266.8" y="173" width="8.8" height="10.1" fill="#FF5818"/><rect x="266.8" y="163.4" width="8.8" height="10.1" fill="#FF6818"/><rect x="266.8" y="153.8" width="8.8" height="10.1" fill="#FF7816"/><rect x="266.8" y="144.2" width="8.8" height="10.1" fill="#FF8814"/><rect x="266.8" y="134.6" width="8.8" height="10.1" fill="#FF9812"/><rect x="266.8" y="125" width="8.8" height="10.1" fill="#FFA812"/><rect x="266.8" y="115.4" width="8.8" height="10.1" fill="#FFBA10"/><rect x="266.8" y="105.8" width="8.8" height="10.1" fill="#FFD010"/><rect x="266.8" y="96.2" width="8.8" height="10.1" fill="#FFE818"/><rect x="266.8" y="86.6" width="8.8" height="10.1" fill="#E8FA20"/><rect x="266.8" y="77" width="8.8" height="10.1" fill="#DCFF25"/><rect x="266.8" y="67.4" width="8.8" height="10.1" fill="#DBFF25"/><rect x="266.8" y="57.8" width="8.8" height="10.1" fill="#DDFF30"/><rect x="266.8" y="48.2" width="8.8" height="10.1" fill="#E2FF55"/><rect x="266.8" y="38.6" width="8.8" height="10.1" fill="#E9FF80"/><rect x="266.8" y="29" width="8.8" height="10.1" fill="#EFFFA8"/><rect x="266.8" y="19.4" width="8.8" height="10.1" fill="#FAFFE2"/>
<rect x="266.8" y="19.4" width="8.8" height="230.4" fill="none" stroke="#151515" stroke-width="0.9"/>
<line x1="275.6" y1="219.2" x2="280.2" y2="219.2" stroke="#111" stroke-width="0.9"/><text class="s" x="284.8" y="224.3" font-size="15">2000</text>
<line x1="275.6" y1="183.8" x2="280.2" y2="183.8" stroke="#111" stroke-width="0.9"/><text class="s" x="284.8" y="188.9" font-size="15">4000</text>
<line x1="275.6" y1="148.4" x2="280.2" y2="148.4" stroke="#111" stroke-width="0.9"/><text class="s" x="284.8" y="153.5" font-size="15">6000</text>
<line x1="275.6" y1="113" x2="280.2" y2="113" stroke="#111" stroke-width="0.9"/><text class="s" x="284.8" y="118.1" font-size="15">8000</text>
<line x1="275.6" y1="77.6" x2="280.2" y2="77.6" stroke="#111" stroke-width="0.9"/><text class="s" x="284.8" y="82.7" font-size="15">10000</text>
<line x1="275.6" y1="42.2" x2="280.2" y2="42.2" stroke="#111" stroke-width="0.9"/><text class="s" x="284.8" y="47.3" font-size="15">12000</text>
<text class="t" x="49" y="342.6" font-size="20"><tspan font-weight="bold">(a)</tspan></text>
<text class="t" x="78.9" y="342.6" font-size="20">Year 2011, fully irrigated</text>
</g>
<g>
<rect x="409.3" y="6.3" width="10.73" height="7.1" fill="#FBEA18"/><rect x="419.33" y="6.3" width="10.73" height="7.1" fill="#FFCE10"/><rect x="429.36" y="6.3" width="10.73" height="7.1" fill="#DEFF26"/><rect x="439.39" y="6.3" width="10.73" height="7.1" fill="#FBEA18"/><rect x="449.42" y="6.3" width="10.73" height="7.1" fill="#FFB010"/><rect x="459.45" y="6.3" width="10.73" height="7.1" fill="#FBEA18"/><rect x="469.48" y="6.3" width="20.76" height="7.1" fill="#EBF91E"/><rect x="489.54" y="6.3" width="10.73" height="7.1" fill="#FFCE10"/><rect x="499.57" y="6.3" width="10.73" height="7.1" fill="#EBF91E"/><rect x="509.6" y="6.3" width="10.73" height="7.1" fill="#FFCE10"/><rect x="519.63" y="6.3" width="20.76" height="7.1" fill="#DEFF26"/><rect x="539.69" y="6.3" width="10.73" height="7.1" fill="#EBF91E"/><rect x="549.72" y="6.3" width="10.73" height="7.1" fill="#DEFF26"/><rect x="559.75" y="6.3" width="10.73" height="7.1" fill="#E1FF4C"/><rect x="569.78" y="6.3" width="10.73" height="7.1" fill="#FBEA18"/><rect x="579.81" y="6.3" width="10.73" height="7.1" fill="#FFCE10"/><rect x="589.84" y="6.3" width="20.06" height="7.1" fill="#EBF91E"/>
<rect x="409.3" y="12.7" width="10.73" height="7.1" fill="#FFCE10"/><rect x="419.33" y="12.7" width="10.73" height="7.1" fill="#FF5F18"/><rect x="429.36" y="12.7" width="10.73" height="7.1" fill="#FFB010"/><rect x="439.39" y="12.7" width="20.76" height="7.1" fill="#FBEA18"/><rect x="459.45" y="12.7" width="10.73" height="7.1" fill="#DEFF26"/><rect x="469.48" y="12.7" width="10.73" height="7.1" fill="#E1FF4C"/><rect x="479.51" y="12.7" width="20.76" height="7.1" fill="#FBEA18"/><rect x="499.57" y="12.7" width="30.79" height="7.1" fill="#DEFF26"/><rect x="529.66" y="12.7" width="10.73" height="7.1" fill="#FFCE10"/><rect x="539.69" y="12.7" width="20.76" height="7.1" fill="#DEFF26"/><rect x="559.75" y="12.7" width="10.73" height="7.1" fill="#EBF91E"/><rect x="569.78" y="12.7" width="10.73" height="7.1" fill="#FFFFFF"/><rect x="579.81" y="12.7" width="10.73" height="7.1" fill="#FFB010"/><rect x="589.84" y="12.7" width="10.73" height="7.1" fill="#DEFF26"/><rect x="599.87" y="12.7" width="10.03" height="7.1" fill="#FF9613"/>
<rect x="409.3" y="19.1" width="10.73" height="7.1" fill="#FBEA18"/><rect x="419.33" y="19.1" width="10.73" height="7.1" fill="#FFCE10"/><rect x="429.36" y="19.1" width="10.73" height="7.1" fill="#EBF91E"/><rect x="439.39" y="19.1" width="20.76" height="7.1" fill="#FF9613"/><rect x="459.45" y="19.1" width="10.73" height="7.1" fill="#EBF91E"/><rect x="469.48" y="19.1" width="10.73" height="7.1" fill="#FBEA18"/><rect x="479.51" y="19.1" width="10.73" height="7.1" fill="#FFCE10"/><rect x="489.54" y="19.1" width="10.73" height="7.1" fill="#DEFF26"/><rect x="499.57" y="19.1" width="10.73" height="7.1" fill="#FF9613"/><rect x="509.6" y="19.1" width="10.73" height="7.1" fill="#DEFF26"/><rect x="519.63" y="19.1" width="20.76" height="7.1" fill="#FBEA18"/><rect x="539.69" y="19.1" width="10.73" height="7.1" fill="#FFCE10"/><rect x="549.72" y="19.1" width="10.73" height="7.1" fill="#FBEA18"/><rect x="559.75" y="19.1" width="10.73" height="7.1" fill="#FF9613"/><rect x="569.78" y="19.1" width="10.73" height="7.1" fill="#DEFF26"/><rect x="579.81" y="19.1" width="10.73" height="7.1" fill="#FFCE10"/><rect x="589.84" y="19.1" width="10.73" height="7.1" fill="#FF9613"/><rect x="599.87" y="19.1" width="10.03" height="7.1" fill="#FFB010"/>
<rect x="409.3" y="25.5" width="10.73" height="7.1" fill="#FFCE10"/><rect x="419.33" y="25.5" width="10.73" height="7.1" fill="#FBEA18"/><rect x="429.36" y="25.5" width="10.73" height="7.1" fill="#FF7916"/><rect x="439.39" y="25.5" width="40.82" height="7.1" fill="#DEFF26"/><rect x="479.51" y="25.5" width="10.73" height="7.1" fill="#FFCE10"/><rect x="489.54" y="25.5" width="20.76" height="7.1" fill="#DEFF26"/><rect x="509.6" y="25.5" width="10.73" height="7.1" fill="#FFCE10"/><rect x="519.63" y="25.5" width="10.73" height="7.1" fill="#DEFF26"/><rect x="529.66" y="25.5" width="10.73" height="7.1" fill="#EBF91E"/><rect x="539.69" y="25.5" width="10.73" height="7.1" fill="#FF9613"/><rect x="549.72" y="25.5" width="10.73" height="7.1" fill="#DEFF26"/><rect x="559.75" y="25.5" width="10.73" height="7.1" fill="#EBF91E"/><rect x="569.78" y="25.5" width="40.12" height="7.1" fill="#FF9613"/>
<rect x="409.3" y="31.9" width="10.73" height="7.1" fill="#FFB010"/><rect x="419.33" y="31.9" width="10.73" height="7.1" fill="#FF5F18"/><rect x="429.36" y="31.9" width="10.73" height="7.1" fill="#FBEA18"/><rect x="439.39" y="31.9" width="10.73" height="7.1" fill="#FFB010"/><rect x="449.42" y="31.9" width="10.73" height="7.1" fill="#FF9613"/><rect x="459.45" y="31.9" width="20.76" height="7.1" fill="#DEFF26"/><rect x="479.51" y="31.9" width="10.73" height="7.1" fill="#EBF91E"/><rect x="489.54" y="31.9" width="20.76" height="7.1" fill="#DEFF26"/><rect x="509.6" y="31.9" width="10.73" height="7.1" fill="#FBEA18"/><rect x="519.63" y="31.9" width="10.73" height="7.1" fill="#FFCE10"/><rect x="529.66" y="31.9" width="10.73" height="7.1" fill="#FFB010"/><rect x="539.69" y="31.9" width="50.85" height="7.1" fill="#FF9613"/><rect x="589.84" y="31.9" width="20.06" height="7.1" fill="#FFB010"/>
<rect x="409.3" y="38.3" width="10.73" height="7.1" fill="#FFB010"/><rect x="419.33" y="38.3" width="10.73" height="7.1" fill="#EBF91E"/><rect x="429.36" y="38.3" width="10.73" height="7.1" fill="#FFB010"/><rect x="439.39" y="38.3" width="10.73" height="7.1" fill="#DEFF26"/><rect x="449.42" y="38.3" width="20.76" height="7.1" fill="#EBF91E"/><rect x="469.48" y="38.3" width="10.73" height="7.1" fill="#FFB010"/><rect x="479.51" y="38.3" width="10.73" height="7.1" fill="#DEFF26"/><rect x="489.54" y="38.3" width="10.73" height="7.1" fill="#FBEA18"/><rect x="499.57" y="38.3" width="10.73" height="7.1" fill="#EBF91E"/><rect x="509.6" y="38.3" width="10.73" height="7.1" fill="#FBEA18"/><rect x="519.63" y="38.3" width="10.73" height="7.1" fill="#FF9613"/><rect x="529.66" y="38.3" width="10.73" height="7.1" fill="#FF7916"/><rect x="539.69" y="38.3" width="10.73" height="7.1" fill="#FFB010"/><rect x="549.72" y="38.3" width="10.73" height="7.1" fill="#FF9613"/><rect x="559.75" y="38.3" width="10.73" height="7.1" fill="#FBEA18"/><rect x="569.78" y="38.3" width="10.73" height="7.1" fill="#FFB010"/><rect x="579.81" y="38.3" width="10.73" height="7.1" fill="#FBEA18"/><rect x="589.84" y="38.3" width="10.73" height="7.1" fill="#FFCE10"/><rect x="599.87" y="38.3" width="10.03" height="7.1" fill="#FBEA18"/>
<rect x="409.3" y="44.7" width="30.79" height="7.1" fill="#DEFF26"/><rect x="439.39" y="44.7" width="10.73" height="7.1" fill="#E1FF4C"/><rect x="449.42" y="44.7" width="30.79" height="7.1" fill="#DEFF26"/><rect x="479.51" y="44.7" width="10.73" height="7.1" fill="#FFB010"/><rect x="489.54" y="44.7" width="10.73" height="7.1" fill="#FF9613"/><rect x="499.57" y="44.7" width="20.76" height="7.1" fill="#FFB010"/><rect x="519.63" y="44.7" width="10.73" height="7.1" fill="#FF7916"/><rect x="529.66" y="44.7" width="30.79" height="7.1" fill="#FF9613"/><rect x="559.75" y="44.7" width="10.73" height="7.1" fill="#EBF91E"/><rect x="569.78" y="44.7" width="10.73" height="7.1" fill="#FFB010"/><rect x="579.81" y="44.7" width="10.73" height="7.1" fill="#EBF91E"/><rect x="589.84" y="44.7" width="10.73" height="7.1" fill="#DEFF26"/><rect x="599.87" y="44.7" width="10.03" height="7.1" fill="#E1FF4C"/>
<rect x="409.3" y="51.1" width="10.73" height="7.1" fill="#EBF91E"/><rect x="419.33" y="51.1" width="10.73" height="7.1" fill="#E1FF4C"/><rect x="429.36" y="51.1" width="50.85" height="7.1" fill="#DEFF26"/><rect x="479.51" y="51.1" width="10.73" height="7.1" fill="#FBEA18"/><rect x="489.54" y="51.1" width="10.73" height="7.1" fill="#FFCE10"/><rect x="499.57" y="51.1" width="10.73" height="7.1" fill="#FF5F18"/><rect x="509.6" y="51.1" width="10.73" height="7.1" fill="#FF9613"/><rect x="519.63" y="51.1" width="10.73" height="7.1" fill="#FFB010"/><rect x="529.66" y="51.1" width="10.73" height="7.1" fill="#EBF91E"/><rect x="539.69" y="51.1" width="20.76" height="7.1" fill="#DEFF26"/><rect x="559.75" y="51.1" width="10.73" height="7.1" fill="#EBF91E"/><rect x="569.78" y="51.1" width="10.73" height="7.1" fill="#FBEA18"/><rect x="579.81" y="51.1" width="10.73" height="7.1" fill="#DEFF26"/><rect x="589.84" y="51.1" width="10.73" height="7.1" fill="#EBF91E"/><rect x="599.87" y="51.1" width="10.03" height="7.1" fill="#FFCE10"/>
<rect x="409.3" y="57.5" width="20.76" height="7.1" fill="#DEFF26"/><rect x="429.36" y="57.5" width="10.73" height="7.1" fill="#FBEA18"/><rect x="439.39" y="57.5" width="10.73" height="7.1" fill="#FFCE10"/><rect x="449.42" y="57.5" width="10.73" height="7.1" fill="#EBF91E"/><rect x="459.45" y="57.5" width="10.73" height="7.1" fill="#FF9613"/><rect x="469.48" y="57.5" width="30.79" height="7.1" fill="#FF7916"/><rect x="499.57" y="57.5" width="10.73" height="7.1" fill="#FFB010"/><rect x="509.6" y="57.5" width="10.73" height="7.1" fill="#FFCE10"/><rect x="519.63" y="57.5" width="10.73" height="7.1" fill="#DEFF26"/><rect x="529.66" y="57.5" width="10.73" height="7.1" fill="#FBEA18"/><rect x="539.69" y="57.5" width="20.76" height="7.1" fill="#DEFF26"/><rect x="559.75" y="57.5" width="20.76" height="7.1" fill="#FBEA18"/><rect x="579.81" y="57.5" width="10.73" height="7.1" fill="#DEFF26"/><rect x="589.84" y="57.5" width="10.73" height="7.1" fill="#FFCE10"/><rect x="599.87" y="57.5" width="10.03" height="7.1" fill="#FFB010"/>
<rect x="409.3" y="63.9" width="10.73" height="7.1" fill="#DEFF26"/><rect x="419.33" y="63.9" width="10.73" height="7.1" fill="#FBEA18"/><rect x="429.36" y="63.9" width="10.73" height="7.1" fill="#FFB010"/><rect x="439.39" y="63.9" width="10.73" height="7.1" fill="#FFCE10"/><rect x="449.42" y="63.9" width="10.73" height="7.1" fill="#FF7916"/><rect x="459.45" y="63.9" width="10.73" height="7.1" fill="#FF9613"/><rect x="469.48" y="63.9" width="20.76" height="7.1" fill="#FF7916"/><rect x="489.54" y="63.9" width="10.73" height="7.1" fill="#EBF91E"/><rect x="499.57" y="63.9" width="10.73" height="7.1" fill="#DEFF26"/><rect x="509.6" y="63.9" width="20.76" height="7.1" fill="#FBEA18"/><rect x="529.66" y="63.9" width="30.79" height="7.1" fill="#EBF91E"/><rect x="559.75" y="63.9" width="20.76" height="7.1" fill="#FBEA18"/><rect x="579.81" y="63.9" width="20.76" height="7.1" fill="#FF9613"/><rect x="599.87" y="63.9" width="10.03" height="7.1" fill="#FBEA18"/>
<rect x="409.3" y="70.3" width="10.73" height="7.1" fill="#FF9613"/><rect x="419.33" y="70.3" width="10.73" height="7.1" fill="#FF7916"/><rect x="429.36" y="70.3" width="20.76" height="7.1" fill="#FF9613"/><rect x="449.42" y="70.3" width="20.76" height="7.1" fill="#FF4518"/><rect x="469.48" y="70.3" width="10.73" height="7.1" fill="#FFB010"/><rect x="479.51" y="70.3" width="10.73" height="7.1" fill="#FFCE10"/><rect x="489.54" y="70.3" width="10.73" height="7.1" fill="#FBEA18"/><rect x="499.57" y="70.3" width="10.73" height="7.1" fill="#FF9613"/><rect x="509.6" y="70.3" width="10.73" height="7.1" fill="#FFCE10"/><rect x="519.63" y="70.3" width="10.73" height="7.1" fill="#EBF91E"/><rect x="529.66" y="70.3" width="10.73" height="7.1" fill="#DEFF26"/><rect x="539.69" y="70.3" width="30.79" height="7.1" fill="#FFB010"/><rect x="569.78" y="70.3" width="10.73" height="7.1" fill="#FF9613"/><rect x="579.81" y="70.3" width="20.76" height="7.1" fill="#FFB010"/><rect x="599.87" y="70.3" width="10.03" height="7.1" fill="#FF5F18"/>
<rect x="409.3" y="76.7" width="30.79" height="7.1" fill="#FF9613"/><rect x="439.39" y="76.7" width="10.73" height="7.1" fill="#FF7916"/><rect x="449.42" y="76.7" width="10.73" height="7.1" fill="#FFCE10"/><rect x="459.45" y="76.7" width="10.73" height="7.1" fill="#FF9613"/><rect x="469.48" y="76.7" width="10.73" height="7.1" fill="#FFB010"/><rect x="479.51" y="76.7" width="10.73" height="7.1" fill="#FBEA18"/><rect x="489.54" y="76.7" width="10.73" height="7.1" fill="#FFCE10"/><rect x="499.57" y="76.7" width="10.73" height="7.1" fill="#DEFF26"/><rect x="509.6" y="76.7" width="10.73" height="7.1" fill="#FF9613"/><rect x="519.63" y="76.7" width="30.79" height="7.1" fill="#FFB010"/><rect x="549.72" y="76.7" width="10.73" height="7.1" fill="#FFCE10"/><rect x="559.75" y="76.7" width="20.76" height="7.1" fill="#FF9613"/><rect x="579.81" y="76.7" width="10.73" height="7.1" fill="#FF5F18"/><rect x="589.84" y="76.7" width="10.73" height="7.1" fill="#FF2C16"/><rect x="599.87" y="76.7" width="10.03" height="7.1" fill="#FF5F18"/>
<rect x="409.3" y="83.1" width="30.79" height="7.1" fill="#FF9613"/><rect x="439.39" y="83.1" width="10.73" height="7.1" fill="#FFB010"/><rect x="449.42" y="83.1" width="10.73" height="7.1" fill="#FFCE10"/><rect x="459.45" y="83.1" width="20.76" height="7.1" fill="#FBEA18"/><rect x="479.51" y="83.1" width="20.76" height="7.1" fill="#FFB010"/><rect x="499.57" y="83.1" width="10.73" height="7.1" fill="#FFCE10"/><rect x="509.6" y="83.1" width="20.76" height="7.1" fill="#FBEA18"/><rect x="529.66" y="83.1" width="10.73" height="7.1" fill="#FFB010"/><rect x="539.69" y="83.1" width="10.73" height="7.1" fill="#FF7916"/><rect x="549.72" y="83.1" width="30.79" height="7.1" fill="#FF5F18"/><rect x="579.81" y="83.1" width="10.73" height="7.1" fill="#FF7916"/><rect x="589.84" y="83.1" width="20.06" height="7.1" fill="#FF5F18"/>
<rect x="409.3" y="89.5" width="30.79" height="7.1" fill="#FFB010"/><rect x="439.39" y="89.5" width="10.73" height="7.1" fill="#DEFF26"/><rect x="449.42" y="89.5" width="10.73" height="7.1" fill="#FFB010"/><rect x="459.45" y="89.5" width="10.73" height="7.1" fill="#FFCE10"/><rect x="469.48" y="89.5" width="10.73" height="7.1" fill="#FF9613"/><rect x="479.51" y="89.5" width="10.73" height="7.1" fill="#FFB010"/><rect x="489.54" y="89.5" width="10.73" height="7.1" fill="#FBEA18"/><rect x="499.57" y="89.5" width="10.73" height="7.1" fill="#EBF91E"/><rect x="509.6" y="89.5" width="20.76" height="7.1" fill="#FF9613"/><rect x="529.66" y="89.5" width="10.73" height="7.1" fill="#FF2C16"/><rect x="539.69" y="89.5" width="10.73" height="7.1" fill="#FF9613"/><rect x="549.72" y="89.5" width="20.76" height="7.1" fill="#FF7916"/><rect x="569.78" y="89.5" width="40.12" height="7.1" fill="#FF5F18"/>
<rect x="409.3" y="95.9" width="10.73" height="7.1" fill="#FF9613"/><rect x="419.33" y="95.9" width="10.73" height="7.1" fill="#FBEA18"/><rect x="429.36" y="95.9" width="10.73" height="7.1" fill="#EBF91E"/><rect x="439.39" y="95.9" width="10.73" height="7.1" fill="#FF9613"/><rect x="449.42" y="95.9" width="10.73" height="7.1" fill="#FF5F18"/><rect x="459.45" y="95.9" width="10.73" height="7.1" fill="#FF9613"/><rect x="469.48" y="95.9" width="10.73" height="7.1" fill="#FBEA18"/><rect x="479.51" y="95.9" width="10.73" height="7.1" fill="#FFB010"/><rect x="489.54" y="95.9" width="10.73" height="7.1" fill="#FF9613"/><rect x="499.57" y="95.9" width="30.79" height="7.1" fill="#FF7916"/><rect x="529.66" y="95.9" width="10.73" height="7.1" fill="#FF5F18"/><rect x="539.69" y="95.9" width="30.79" height="7.1" fill="#FF7916"/><rect x="569.78" y="95.9" width="10.73" height="7.1" fill="#FF4518"/><rect x="579.81" y="95.9" width="30.09" height="7.1" fill="#FF5F18"/>
<rect x="409.3" y="102.3" width="10.73" height="7.1" fill="#FFCE10"/><rect x="419.33" y="102.3" width="10.73" height="7.1" fill="#FF5F18"/><rect x="429.36" y="102.3" width="10.73" height="7.1" fill="#FFB010"/><rect x="439.39" y="102.3" width="10.73" height="7.1" fill="#FFCE10"/><rect x="449.42" y="102.3" width="10.73" height="7.1" fill="#FF9613"/><rect x="459.45" y="102.3" width="10.73" height="7.1" fill="#FF7916"/><rect x="469.48" y="102.3" width="10.73" height="7.1" fill="#FFCE10"/><rect x="479.51" y="102.3" width="20.76" height="7.1" fill="#FF9613"/><rect x="499.57" y="102.3" width="40.82" height="7.1" fill="#FF5F18"/><rect x="539.69" y="102.3" width="10.73" height="7.1" fill="#FF4518"/><rect x="549.72" y="102.3" width="10.73" height="7.1" fill="#FF7916"/><rect x="559.75" y="102.3" width="30.79" height="7.1" fill="#FF5F18"/><rect x="589.84" y="102.3" width="20.06" height="7.1" fill="#FF4518"/>
<rect x="409.3" y="108.7" width="20.76" height="7.1" fill="#FF9613"/><rect x="429.36" y="108.7" width="10.73" height="7.1" fill="#FFCE10"/><rect x="439.39" y="108.7" width="10.73" height="7.1" fill="#FFB010"/><rect x="449.42" y="108.7" width="30.79" height="7.1" fill="#FF9613"/><rect x="479.51" y="108.7" width="10.73" height="7.1" fill="#FF7916"/><rect x="489.54" y="108.7" width="10.73" height="7.1" fill="#FF5F18"/><rect x="499.57" y="108.7" width="20.76" height="7.1" fill="#FF7916"/><rect x="519.63" y="108.7" width="10.73" height="7.1" fill="#FF5F18"/><rect x="529.66" y="108.7" width="30.79" height="7.1" fill="#FF7916"/><rect x="559.75" y="108.7" width="40.82" height="7.1" fill="#FF5F18"/><rect x="599.87" y="108.7" width="10.03" height="7.1" fill="#FF7916"/>
<rect x="409.3" y="115.1" width="10.73" height="7.1" fill="#FF9613"/><rect x="419.33" y="115.1" width="10.73" height="7.1" fill="#FFB010"/><rect x="429.36" y="115.1" width="20.76" height="7.1" fill="#FF7916"/><rect x="449.42" y="115.1" width="10.73" height="7.1" fill="#FF9613"/><rect x="459.45" y="115.1" width="20.76" height="7.1" fill="#FF7916"/><rect x="479.51" y="115.1" width="10.73" height="7.1" fill="#FF5F18"/><rect x="489.54" y="115.1" width="10.73" height="7.1" fill="#FF2C16"/><rect x="499.57" y="115.1" width="20.76" height="7.1" fill="#FF7916"/><rect x="519.63" y="115.1" width="10.73" height="7.1" fill="#FF5F18"/><rect x="529.66" y="115.1" width="30.79" height="7.1" fill="#FF7916"/><rect x="559.75" y="115.1" width="10.73" height="7.1" fill="#FF5F18"/><rect x="569.78" y="115.1" width="10.73" height="7.1" fill="#FF7916"/><rect x="579.81" y="115.1" width="30.09" height="7.1" fill="#FF5F18"/>
<rect x="409.3" y="121.5" width="10.73" height="7.1" fill="#FF9613"/><rect x="419.33" y="121.5" width="10.73" height="7.1" fill="#FF5F18"/><rect x="429.36" y="121.5" width="10.73" height="7.1" fill="#FF9613"/><rect x="439.39" y="121.5" width="20.76" height="7.1" fill="#FF7916"/><rect x="459.45" y="121.5" width="10.73" height="7.1" fill="#FF9613"/><rect x="469.48" y="121.5" width="10.73" height="7.1" fill="#FFB010"/><rect x="479.51" y="121.5" width="20.76" height="7.1" fill="#FF5F18"/><rect x="499.57" y="121.5" width="10.73" height="7.1" fill="#FF9613"/><rect x="509.6" y="121.5" width="10.73" height="7.1" fill="#FF5F18"/><rect x="519.63" y="121.5" width="10.73" height="7.1" fill="#FF7916"/><rect x="529.66" y="121.5" width="10.73" height="7.1" fill="#FF5F18"/><rect x="539.69" y="121.5" width="10.73" height="7.1" fill="#FF7916"/><rect x="549.72" y="121.5" width="20.76" height="7.1" fill="#FF5F18"/><rect x="569.78" y="121.5" width="10.73" height="7.1" fill="#FF2C16"/><rect x="579.81" y="121.5" width="30.09" height="7.1" fill="#FF4518"/>
<rect x="409.3" y="127.9" width="50.85" height="7.1" fill="#FF7916"/><rect x="459.45" y="127.9" width="10.73" height="7.1" fill="#FF9613"/><rect x="469.48" y="127.9" width="10.73" height="7.1" fill="#FF2C16"/><rect x="479.51" y="127.9" width="10.73" height="7.1" fill="#FF7916"/><rect x="489.54" y="127.9" width="20.76" height="7.1" fill="#FF5F18"/><rect x="509.6" y="127.9" width="10.73" height="7.1" fill="#FF4518"/><rect x="519.63" y="127.9" width="10.73" height="7.1" fill="#FF7916"/><rect x="529.66" y="127.9" width="70.91" height="7.1" fill="#FF5F18"/><rect x="599.87" y="127.9" width="10.03" height="7.1" fill="#FF4518"/>
<rect x="409.3" y="134.3" width="10.73" height="7.1" fill="#FF7916"/><rect x="419.33" y="134.3" width="10.73" height="7.1" fill="#FF4518"/><rect x="429.36" y="134.3" width="10.73" height="7.1" fill="#FF7916"/><rect x="439.39" y="134.3" width="10.73" height="7.1" fill="#FF5F18"/><rect x="449.42" y="134.3" width="10.73" height="7.1" fill="#FF9613"/><rect x="459.45" y="134.3" width="10.73" height="7.1" fill="#FF7916"/><rect x="469.48" y="134.3" width="30.79" height="7.1" fill="#FF5F18"/><rect x="499.57" y="134.3" width="10.73" height="7.1" fill="#FF4518"/><rect x="509.6" y="134.3" width="10.73" height="7.1" fill="#FF2C16"/><rect x="519.63" y="134.3" width="20.76" height="7.1" fill="#FF4518"/><rect x="539.69" y="134.3" width="40.82" height="7.1" fill="#FF2C16"/><rect x="579.81" y="134.3" width="10.73" height="7.1" fill="#FF4518"/><rect x="589.84" y="134.3" width="10.73" height="7.1" fill="#FF5F18"/><rect x="599.87" y="134.3" width="10.03" height="7.1" fill="#FF2C16"/>
<rect x="409.3" y="140.7" width="20.76" height="7.1" fill="#FF5F18"/><rect x="429.36" y="140.7" width="20.76" height="7.1" fill="#FF7916"/><rect x="449.42" y="140.7" width="30.79" height="7.1" fill="#FF5F18"/><rect x="479.51" y="140.7" width="111.03" height="7.1" fill="#FF4518"/><rect x="589.84" y="140.7" width="10.73" height="7.1" fill="#FF5F18"/><rect x="599.87" y="140.7" width="10.03" height="7.1" fill="#FF9613"/>
<rect x="409.3" y="147.1" width="10.73" height="7.1" fill="#FF5F18"/><rect x="419.33" y="147.1" width="10.73" height="7.1" fill="#FF7916"/><rect x="429.36" y="147.1" width="10.73" height="7.1" fill="#FF5F18"/><rect x="439.39" y="147.1" width="30.79" height="7.1" fill="#FF4518"/><rect x="469.48" y="147.1" width="10.73" height="7.1" fill="#FF5F18"/><rect x="479.51" y="147.1" width="40.82" height="7.1" fill="#FF4518"/><rect x="519.63" y="147.1" width="10.73" height="7.1" fill="#FF5F18"/><rect x="529.66" y="147.1" width="10.73" height="7.1" fill="#FF1414"/><rect x="539.69" y="147.1" width="40.82" height="7.1" fill="#FF4518"/><rect x="579.81" y="147.1" width="20.76" height="7.1" fill="#FF5F18"/><rect x="599.87" y="147.1" width="10.03" height="7.1" fill="#FF7916"/>
<rect x="409.3" y="153.5" width="90.97" height="7.1" fill="#FF4518"/><rect x="499.57" y="153.5" width="10.73" height="7.1" fill="#FF2C16"/><rect x="509.6" y="153.5" width="10.73" height="7.1" fill="#FF4518"/><rect x="519.63" y="153.5" width="20.76" height="7.1" fill="#FF2C16"/><rect x="539.69" y="153.5" width="20.76" height="7.1" fill="#FF4518"/><rect x="559.75" y="153.5" width="10.73" height="7.1" fill="#FF5F18"/><rect x="569.78" y="153.5" width="10.73" height="7.1" fill="#FF4518"/><rect x="579.81" y="153.5" width="30.09" height="7.1" fill="#FF7916"/>
<rect x="409.3" y="159.9" width="50.85" height="7.1" fill="#FF4518"/><rect x="459.45" y="159.9" width="20.76" height="7.1" fill="#FF2C16"/><rect x="479.51" y="159.9" width="10.73" height="7.1" fill="#FF1414"/><rect x="489.54" y="159.9" width="20.76" height="7.1" fill="#FF2C16"/><rect x="509.6" y="159.9" width="10.73" height="7.1" fill="#FF4518"/><rect x="519.63" y="159.9" width="10.73" height="7.1" fill="#FF2C16"/><rect x="529.66" y="159.9" width="20.76" height="7.1" fill="#FF4518"/><rect x="549.72" y="159.9" width="10.73" height="7.1" fill="#FF1414"/><rect x="559.75" y="159.9" width="20.76" height="7.1" fill="#FF5F18"/><rect x="579.81" y="159.9" width="10.73" height="7.1" fill="#FF9613"/><rect x="589.84" y="159.9" width="20.06" height="7.1" fill="#FF7916"/>
<rect x="409.3" y="166.3" width="30.79" height="7.1" fill="#FF4518"/><rect x="439.39" y="166.3" width="40.82" height="7.1" fill="#FF2C16"/><rect x="479.51" y="166.3" width="20.76" height="7.1" fill="#FF4518"/><rect x="499.57" y="166.3" width="10.73" height="7.1" fill="#FF2C16"/><rect x="509.6" y="166.3" width="40.82" height="7.1" fill="#FF4518"/><rect x="549.72" y="166.3" width="10.73" height="7.1" fill="#FF7916"/><rect x="559.75" y="166.3" width="10.73" height="7.1" fill="#FF5F18"/><rect x="569.78" y="166.3" width="10.73" height="7.1" fill="#FF7916"/><rect x="579.81" y="166.3" width="20.76" height="7.1" fill="#FF5F18"/><rect x="599.87" y="166.3" width="10.03" height="7.1" fill="#FF4518"/>
<rect x="409.3" y="172.7" width="10.73" height="7.1" fill="#FF2C16"/><rect x="419.33" y="172.7" width="10.73" height="7.1" fill="#FF4518"/><rect x="429.36" y="172.7" width="10.73" height="7.1" fill="#FF2C16"/><rect x="439.39" y="172.7" width="10.73" height="7.1" fill="#FF4518"/><rect x="449.42" y="172.7" width="10.73" height="7.1" fill="#FF2C16"/><rect x="459.45" y="172.7" width="10.73" height="7.1" fill="#FF4518"/><rect x="469.48" y="172.7" width="10.73" height="7.1" fill="#FF2C16"/><rect x="479.51" y="172.7" width="20.76" height="7.1" fill="#FF4518"/><rect x="499.57" y="172.7" width="10.73" height="7.1" fill="#FF2C16"/><rect x="509.6" y="172.7" width="10.73" height="7.1" fill="#FF4518"/><rect x="519.63" y="172.7" width="10.73" height="7.1" fill="#FF5F18"/><rect x="529.66" y="172.7" width="30.79" height="7.1" fill="#FF4518"/><rect x="559.75" y="172.7" width="10.73" height="7.1" fill="#FF5F18"/><rect x="569.78" y="172.7" width="20.76" height="7.1" fill="#FF4518"/><rect x="589.84" y="172.7" width="10.73" height="7.1" fill="#FF5F18"/><rect x="599.87" y="172.7" width="10.03" height="7.1" fill="#FF4518"/>
<rect x="409.3" y="179.1" width="40.82" height="7.1" fill="#FF2C16"/><rect x="449.42" y="179.1" width="10.73" height="7.1" fill="#FF4518"/><rect x="459.45" y="179.1" width="10.73" height="7.1" fill="#FF2C16"/><rect x="469.48" y="179.1" width="10.73" height="7.1" fill="#FF4518"/><rect x="479.51" y="179.1" width="40.82" height="7.1" fill="#FF2C16"/><rect x="519.63" y="179.1" width="10.73" height="7.1" fill="#FF4518"/><rect x="529.66" y="179.1" width="10.73" height="7.1" fill="#FF7916"/><rect x="539.69" y="179.1" width="30.79" height="7.1" fill="#FF5F18"/><rect x="569.78" y="179.1" width="20.76" height="7.1" fill="#FF1414"/><rect x="589.84" y="179.1" width="10.73" height="7.1" fill="#FF4518"/><rect x="599.87" y="179.1" width="10.03" height="7.1" fill="#FF2C16"/>
<rect x="409.3" y="185.5" width="10.73" height="7.1" fill="#FF1414"/><rect x="419.33" y="185.5" width="10.73" height="7.1" fill="#FF4518"/><rect x="429.36" y="185.5" width="10.73" height="7.1" fill="#FF2C16"/><rect x="439.39" y="185.5" width="50.85" height="7.1" fill="#FF4518"/><rect x="489.54" y="185.5" width="20.76" height="7.1" fill="#FF2C16"/><rect x="509.6" y="185.5" width="20.76" height="7.1" fill="#FF4518"/><rect x="529.66" y="185.5" width="10.73" height="7.1" fill="#FF5F18"/><rect x="539.69" y="185.5" width="10.73" height="7.1" fill="#FF4518"/><rect x="549.72" y="185.5" width="10.73" height="7.1" fill="#FF7916"/><rect x="559.75" y="185.5" width="10.73" height="7.1" fill="#FF5F18"/><rect x="569.78" y="185.5" width="10.73" height="7.1" fill="#FF7916"/><rect x="579.81" y="185.5" width="20.76" height="7.1" fill="#FF5F18"/><rect x="599.87" y="185.5" width="10.03" height="7.1" fill="#FF7916"/>
<rect x="409.3" y="191.9" width="10.73" height="7.1" fill="#FF1414"/><rect x="419.33" y="191.9" width="40.82" height="7.1" fill="#FF4518"/><rect x="459.45" y="191.9" width="10.73" height="7.1" fill="#FF5F18"/><rect x="469.48" y="191.9" width="30.79" height="7.1" fill="#FF4518"/><rect x="499.57" y="191.9" width="20.76" height="7.1" fill="#FF5F18"/><rect x="519.63" y="191.9" width="10.73" height="7.1" fill="#FF4518"/><rect x="529.66" y="191.9" width="10.73" height="7.1" fill="#FF5F18"/><rect x="539.69" y="191.9" width="10.73" height="7.1" fill="#FF7916"/><rect x="549.72" y="191.9" width="10.73" height="7.1" fill="#FF5F18"/><rect x="559.75" y="191.9" width="10.73" height="7.1" fill="#FF4518"/><rect x="569.78" y="191.9" width="10.73" height="7.1" fill="#FF2C16"/><rect x="579.81" y="191.9" width="10.73" height="7.1" fill="#FF7916"/><rect x="589.84" y="191.9" width="10.73" height="7.1" fill="#FF4518"/><rect x="599.87" y="191.9" width="10.03" height="7.1" fill="#FF7916"/>
<rect x="409.3" y="198.3" width="20.76" height="7.1" fill="#FF4518"/><rect x="429.36" y="198.3" width="30.79" height="7.1" fill="#FF5F18"/><rect x="459.45" y="198.3" width="10.73" height="7.1" fill="#FF4518"/><rect x="469.48" y="198.3" width="30.79" height="7.1" fill="#FF5F18"/><rect x="499.57" y="198.3" width="10.73" height="7.1" fill="#FF4518"/><rect x="509.6" y="198.3" width="10.73" height="7.1" fill="#FF7916"/><rect x="519.63" y="198.3" width="40.82" height="7.1" fill="#FF5F18"/><rect x="559.75" y="198.3" width="10.73" height="7.1" fill="#FF7916"/><rect x="569.78" y="198.3" width="10.73" height="7.1" fill="#FF5F18"/><rect x="579.81" y="198.3" width="10.73" height="7.1" fill="#FF4518"/><rect x="589.84" y="198.3" width="10.73" height="7.1" fill="#FF9613"/><rect x="599.87" y="198.3" width="10.03" height="7.1" fill="#FF7916"/>
<rect x="409.3" y="204.7" width="20.76" height="7.1" fill="#FF7916"/><rect x="429.36" y="204.7" width="30.79" height="7.1" fill="#FF5F18"/><rect x="459.45" y="204.7" width="10.73" height="7.1" fill="#FF7916"/><rect x="469.48" y="204.7" width="10.73" height="7.1" fill="#FF5F18"/><rect x="479.51" y="204.7" width="20.76" height="7.1" fill="#FF4518"/><rect x="499.57" y="204.7" width="10.73" height="7.1" fill="#FF2C16"/><rect x="509.6" y="204.7" width="10.73" height="7.1" fill="#FF5F18"/><rect x="519.63" y="204.7" width="10.73" height="7.1" fill="#FF7916"/><rect x="529.66" y="204.7" width="20.76" height="7.1" fill="#FF4518"/><rect x="549.72" y="204.7" width="10.73" height="7.1" fill="#FF5F18"/><rect x="559.75" y="204.7" width="10.73" height="7.1" fill="#FF9613"/><rect x="569.78" y="204.7" width="30.79" height="7.1" fill="#FF7916"/><rect x="599.87" y="204.7" width="10.03" height="7.1" fill="#FF9613"/>
<rect x="409.3" y="211.1" width="10.73" height="7.1" fill="#FF2C16"/><rect x="419.33" y="211.1" width="10.73" height="7.1" fill="#FF4518"/><rect x="429.36" y="211.1" width="20.76" height="7.1" fill="#FF5F18"/><rect x="449.42" y="211.1" width="20.76" height="7.1" fill="#FF4518"/><rect x="469.48" y="211.1" width="10.73" height="7.1" fill="#FF5F18"/><rect x="479.51" y="211.1" width="10.73" height="7.1" fill="#FF4518"/><rect x="489.54" y="211.1" width="10.73" height="7.1" fill="#FF7916"/><rect x="499.57" y="211.1" width="20.76" height="7.1" fill="#FF5F18"/><rect x="519.63" y="211.1" width="10.73" height="7.1" fill="#FF7916"/><rect x="529.66" y="211.1" width="10.73" height="7.1" fill="#FF4518"/><rect x="539.69" y="211.1" width="10.73" height="7.1" fill="#FF7916"/><rect x="549.72" y="211.1" width="10.73" height="7.1" fill="#FF9613"/><rect x="559.75" y="211.1" width="10.73" height="7.1" fill="#FF7916"/><rect x="569.78" y="211.1" width="10.73" height="7.1" fill="#FF9613"/><rect x="579.81" y="211.1" width="10.73" height="7.1" fill="#FF7916"/><rect x="589.84" y="211.1" width="20.06" height="7.1" fill="#FF9613"/>
<rect x="409.3" y="217.5" width="10.73" height="7.1" fill="#FF9613"/><rect x="419.33" y="217.5" width="10.73" height="7.1" fill="#FFB010"/><rect x="429.36" y="217.5" width="10.73" height="7.1" fill="#FF7916"/><rect x="439.39" y="217.5" width="10.73" height="7.1" fill="#FF9613"/><rect x="449.42" y="217.5" width="10.73" height="7.1" fill="#FFB010"/><rect x="459.45" y="217.5" width="10.73" height="7.1" fill="#FF7916"/><rect x="469.48" y="217.5" width="20.76" height="7.1" fill="#FF9613"/><rect x="489.54" y="217.5" width="20.76" height="7.1" fill="#FF7916"/><rect x="509.6" y="217.5" width="20.76" height="7.1" fill="#FF9613"/><rect x="529.66" y="217.5" width="10.73" height="7.1" fill="#FF7916"/><rect x="539.69" y="217.5" width="10.73" height="7.1" fill="#FBEA18"/><rect x="549.72" y="217.5" width="20.76" height="7.1" fill="#FFB010"/><rect x="569.78" y="217.5" width="10.73" height="7.1" fill="#FF9613"/><rect x="579.81" y="217.5" width="10.73" height="7.1" fill="#FF7916"/><rect x="589.84" y="217.5" width="10.73" height="7.1" fill="#FF9613"/><rect x="599.87" y="217.5" width="10.03" height="7.1" fill="#FF7916"/>
<rect x="409.3" y="223.9" width="10.73" height="7.1" fill="#FF5F18"/><rect x="419.33" y="223.9" width="30.79" height="7.1" fill="#FF9613"/><rect x="449.42" y="223.9" width="10.73" height="7.1" fill="#FFB010"/><rect x="459.45" y="223.9" width="40.82" height="7.1" fill="#FF7916"/><rect x="499.57" y="223.9" width="10.73" height="7.1" fill="#FF5F18"/><rect x="509.6" y="223.9" width="30.79" height="7.1" fill="#FF7916"/><rect x="539.69" y="223.9" width="50.85" height="7.1" fill="#FF5F18"/><rect x="589.84" y="223.9" width="10.73" height="7.1" fill="#FF7916"/><rect x="599.87" y="223.9" width="10.03" height="7.1" fill="#FF5F18"/>
<rect x="409.3" y="230.3" width="10.73" height="7.1" fill="#FFB010"/><rect x="419.33" y="230.3" width="10.73" height="7.1" fill="#FF9613"/><rect x="429.36" y="230.3" width="20.76" height="7.1" fill="#FF7916"/><rect x="449.42" y="230.3" width="20.76" height="7.1" fill="#FF5F18"/><rect x="469.48" y="230.3" width="10.73" height="7.1" fill="#FF7916"/><rect x="479.51" y="230.3" width="10.73" height="7.1" fill="#FF5F18"/><rect x="489.54" y="230.3" width="20.76" height="7.1" fill="#FF7916"/><rect x="509.6" y="230.3" width="20.76" height="7.1" fill="#FF5F18"/><rect x="529.66" y="230.3" width="10.73" height="7.1" fill="#FF4518"/><rect x="539.69" y="230.3" width="10.73" height="7.1" fill="#FF5F18"/><rect x="549.72" y="230.3" width="10.73" height="7.1" fill="#FF2C16"/><rect x="559.75" y="230.3" width="10.73" height="7.1" fill="#FF4518"/><rect x="569.78" y="230.3" width="10.73" height="7.1" fill="#FF7916"/><rect x="579.81" y="230.3" width="10.73" height="7.1" fill="#FF4518"/><rect x="589.84" y="230.3" width="10.73" height="7.1" fill="#FF5F18"/><rect x="599.87" y="230.3" width="10.03" height="7.1" fill="#FF7916"/>
<rect x="409.3" y="236.7" width="10.73" height="7.1" fill="#FFB010"/><rect x="419.33" y="236.7" width="10.73" height="7.1" fill="#FF5F18"/><rect x="429.36" y="236.7" width="10.73" height="7.1" fill="#FFFFFF"/><rect x="439.39" y="236.7" width="40.82" height="7.1" fill="#FF5F18"/><rect x="479.51" y="236.7" width="10.73" height="7.1" fill="#FF7916"/><rect x="489.54" y="236.7" width="10.73" height="7.1" fill="#FF5F18"/><rect x="499.57" y="236.7" width="10.73" height="7.1" fill="#FF2C16"/><rect x="509.6" y="236.7" width="10.73" height="7.1" fill="#FF4518"/><rect x="519.63" y="236.7" width="10.73" height="7.1" fill="#FF5F18"/><rect x="529.66" y="236.7" width="40.82" height="7.1" fill="#FF4518"/><rect x="569.78" y="236.7" width="10.73" height="7.1" fill="#FF5F18"/><rect x="579.81" y="236.7" width="20.76" height="7.1" fill="#FFB010"/><rect x="599.87" y="236.7" width="10.03" height="7.1" fill="#EBF91E"/>
<rect x="409.3" y="243.1" width="30.79" height="7.1" fill="#FF7916"/><rect x="439.39" y="243.1" width="50.85" height="7.1" fill="#FF4518"/><rect x="489.54" y="243.1" width="10.73" height="7.1" fill="#FF5F18"/><rect x="499.57" y="243.1" width="20.76" height="7.1" fill="#FF4518"/><rect x="519.63" y="243.1" width="10.73" height="7.1" fill="#FF2C16"/><rect x="529.66" y="243.1" width="10.73" height="7.1" fill="#FF4518"/><rect x="539.69" y="243.1" width="10.73" height="7.1" fill="#FF7916"/><rect x="549.72" y="243.1" width="20.76" height="7.1" fill="#FF9613"/><rect x="569.78" y="243.1" width="10.73" height="7.1" fill="#FFCE10"/><rect x="579.81" y="243.1" width="10.73" height="7.1" fill="#DEFF26"/><rect x="589.84" y="243.1" width="10.73" height="7.1" fill="#EBF91E"/><rect x="599.87" y="243.1" width="10.03" height="7.1" fill="#DEFF26"/>
<rect x="409.3" y="249.5" width="10.73" height="7.1" fill="#FF7916"/><rect x="419.33" y="249.5" width="20.76" height="7.1" fill="#FF5F18"/><rect x="439.39" y="249.5" width="50.85" height="7.1" fill="#FF4518"/><rect x="489.54" y="249.5" width="10.73" height="7.1" fill="#FF2C16"/><rect x="499.57" y="249.5" width="20.76" height="7.1" fill="#FF4518"/><rect x="519.63" y="249.5" width="10.73" height="7.1" fill="#FF9613"/><rect x="529.66" y="249.5" width="10.73" height="7.1" fill="#FF7916"/><rect x="539.69" y="249.5" width="10.73" height="7.1" fill="#FF9613"/><rect x="549.72" y="249.5" width="10.73" height="7.1" fill="#EBF91E"/><rect x="559.75" y="249.5" width="10.73" height="7.1" fill="#DEFF26"/><rect x="569.78" y="249.5" width="10.73" height="7.1" fill="#EBF91E"/><rect x="579.81" y="249.5" width="10.73" height="7.1" fill="#FFCE10"/><rect x="589.84" y="249.5" width="20.06" height="7.1" fill="#FFB010"/>
<rect x="409.3" y="255.9" width="20.76" height="6.4" fill="#FF5F18"/><rect x="429.36" y="255.9" width="10.73" height="6.4" fill="#FF4518"/><rect x="439.39" y="255.9" width="10.73" height="6.4" fill="#FF2C16"/><rect x="449.42" y="255.9" width="10.73" height="6.4" fill="#FF5F18"/><rect x="459.45" y="255.9" width="10.73" height="6.4" fill="#FF2C16"/><rect x="469.48" y="255.9" width="10.73" height="6.4" fill="#FF4518"/><rect x="479.51" y="255.9" width="20.76" height="6.4" fill="#FF5F18"/><rect x="499.57" y="255.9" width="10.73" height="6.4" fill="#FF4518"/><rect x="509.6" y="255.9" width="10.73" height="6.4" fill="#FF5F18"/><rect x="519.63" y="255.9" width="10.73" height="6.4" fill="#FF9613"/><rect x="529.66" y="255.9" width="10.73" height="6.4" fill="#FBEA18"/><rect x="539.69" y="255.9" width="10.73" height="6.4" fill="#FFCE10"/><rect x="549.72" y="255.9" width="10.73" height="6.4" fill="#EBF91E"/><rect x="559.75" y="255.9" width="10.73" height="6.4" fill="#FBEA18"/><rect x="569.78" y="255.9" width="40.12" height="6.4" fill="#FF9613"/>
<rect x="409.3" y="6.3" width="200.6" height="256" fill="none" stroke="#333" stroke-opacity="0.45" stroke-width="0.5"/>
<line x1="409.3" y1="134.3" x2="609.9" y2="134.3" stroke="#1a1a1a" stroke-width="1.1"/>
<line x1="454.44" y1="262.3" x2="454.44" y2="266.9" stroke="#111" stroke-width="0.9"/><text class="s" x="454.44" y="285.6" font-size="15" text-anchor="middle">5</text>
<line x1="504.59" y1="262.3" x2="504.59" y2="266.9" stroke="#111" stroke-width="0.9"/><text class="s" x="504.59" y="285.6" font-size="15" text-anchor="middle">10</text>
<line x1="554.74" y1="262.3" x2="554.74" y2="266.9" stroke="#111" stroke-width="0.9"/><text class="s" x="554.74" y="285.6" font-size="15" text-anchor="middle">15</text>
<line x1="604.88" y1="262.3" x2="604.88" y2="266.9" stroke="#111" stroke-width="0.9"/><text class="s" x="604.88" y="285.6" font-size="15" text-anchor="middle">20</text>
<line x1="404.7" y1="201.5" x2="409.3" y2="201.5" stroke="#111" stroke-width="0.9"/><text class="s" font-size="15.4" text-anchor="middle" transform="translate(398,201.9) rotate(-90)">10</text>
<line x1="404.7" y1="137.5" x2="409.3" y2="137.5" stroke="#111" stroke-width="0.9"/><text class="s" font-size="15.4" text-anchor="middle" transform="translate(398,137.9) rotate(-90)">20</text>
<line x1="404.7" y1="73.5" x2="409.3" y2="73.5" stroke="#111" stroke-width="0.9"/><text class="s" font-size="15.4" text-anchor="middle" transform="translate(398,73.9) rotate(-90)">30</text>
<line x1="404.7" y1="9.5" x2="409.3" y2="9.5" stroke="#111" stroke-width="0.9"/><text class="s" font-size="15.4" text-anchor="middle" transform="translate(398,9.9) rotate(-90)">40</text>
<text class="s" x="514.2" y="311" font-size="18.3" text-anchor="middle">Column</text>
<text class="s" font-size="17.8" text-anchor="middle" transform="translate(373.3,131.6) rotate(-90)">Row</text>
<rect x="624.1" y="240.2" width="8.8" height="9.6" fill="#FF0D14"/><rect x="624.1" y="230.6" width="8.8" height="10.1" fill="#FF1416"/><rect x="624.1" y="221" width="8.8" height="10.1" fill="#FF1C16"/><rect x="624.1" y="211.4" width="8.8" height="10.1" fill="#FF2418"/><rect x="624.1" y="201.8" width="8.8" height="10.1" fill="#FF2E18"/><rect x="624.1" y="192.2" width="8.8" height="10.1" fill="#FF3A18"/><rect x="624.1" y="182.6" width="8.8" height="10.1" fill="#FF4818"/><rect x="624.1" y="173" width="8.8" height="10.1" fill="#FF5818"/><rect x="624.1" y="163.4" width="8.8" height="10.1" fill="#FF6818"/><rect x="624.1" y="153.8" width="8.8" height="10.1" fill="#FF7816"/><rect x="624.1" y="144.2" width="8.8" height="10.1" fill="#FF8814"/><rect x="624.1" y="134.6" width="8.8" height="10.1" fill="#FF9812"/><rect x="624.1" y="125" width="8.8" height="10.1" fill="#FFA812"/><rect x="624.1" y="115.4" width="8.8" height="10.1" fill="#FFBA10"/><rect x="624.1" y="105.8" width="8.8" height="10.1" fill="#FFD010"/><rect x="624.1" y="96.2" width="8.8" height="10.1" fill="#FFE818"/><rect x="624.1" y="86.6" width="8.8" height="10.1" fill="#E8FA20"/><rect x="624.1" y="77" width="8.8" height="10.1" fill="#DCFF25"/><rect x="624.1" y="67.4" width="8.8" height="10.1" fill="#DBFF25"/><rect x="624.1" y="57.8" width="8.8" height="10.1" fill="#DDFF30"/><rect x="624.1" y="48.2" width="8.8" height="10.1" fill="#E2FF55"/><rect x="624.1" y="38.6" width="8.8" height="10.1" fill="#E9FF80"/><rect x="624.1" y="29" width="8.8" height="10.1" fill="#EFFFA8"/><rect x="624.1" y="19.4" width="8.8" height="10.1" fill="#FAFFE2"/>
<rect x="624.1" y="19.4" width="8.8" height="230.4" fill="none" stroke="#151515" stroke-width="0.9"/>
<line x1="632.9" y1="219.2" x2="637.5" y2="219.2" stroke="#111" stroke-width="0.9"/><text class="s" x="642.1" y="224.3" font-size="15">2000</text>
<line x1="632.9" y1="183.8" x2="637.5" y2="183.8" stroke="#111" stroke-width="0.9"/><text class="s" x="642.1" y="188.9" font-size="15">4000</text>
<line x1="632.9" y1="148.4" x2="637.5" y2="148.4" stroke="#111" stroke-width="0.9"/><text class="s" x="642.1" y="153.5" font-size="15">6000</text>
<line x1="632.9" y1="113" x2="637.5" y2="113" stroke="#111" stroke-width="0.9"/><text class="s" x="642.1" y="118.1" font-size="15">8000</text>
<line x1="632.9" y1="77.6" x2="637.5" y2="77.6" stroke="#111" stroke-width="0.9"/><text class="s" x="642.1" y="82.7" font-size="15">10000</text>
<line x1="632.9" y1="42.2" x2="637.5" y2="42.2" stroke="#111" stroke-width="0.9"/><text class="s" x="642.1" y="47.3" font-size="15">12000</text>
<text class="t" x="393.5" y="342.6" font-size="20"><tspan font-weight="bold">(b)</tspan></text>
<text class="t" x="424.6" y="342.6" font-size="20">Year 2011, mild water stress</text>
</g>
<g>
<rect x="52" y="387.2" width="10.73" height="7.1" fill="#FBEA18"/><rect x="62.03" y="387.2" width="50.85" height="7.1" fill="#DEFF26"/><rect x="112.18" y="387.2" width="10.73" height="7.1" fill="#E1FF4C"/><rect x="122.21" y="387.2" width="10.73" height="7.1" fill="#DEFF26"/><rect x="132.24" y="387.2" width="10.73" height="7.1" fill="#FFB010"/><rect x="142.27" y="387.2" width="10.73" height="7.1" fill="#DEFF26"/><rect x="152.3" y="387.2" width="10.73" height="7.1" fill="#FFB010"/><rect x="162.33" y="387.2" width="10.73" height="7.1" fill="#FF9613"/><rect x="172.36" y="387.2" width="10.73" height="7.1" fill="#FFB010"/><rect x="182.39" y="387.2" width="10.73" height="7.1" fill="#FFCE10"/><rect x="192.42" y="387.2" width="10.73" height="7.1" fill="#FFB010"/><rect x="202.45" y="387.2" width="10.73" height="7.1" fill="#EBF91E"/><rect x="212.48" y="387.2" width="10.73" height="7.1" fill="#FBEA18"/><rect x="222.51" y="387.2" width="10.73" height="7.1" fill="#FF9613"/><rect x="232.54" y="387.2" width="10.73" height="7.1" fill="#DEFF26"/><rect x="242.57" y="387.2" width="10.03" height="7.1" fill="#EBF91E"/>
<rect x="52" y="393.6" width="10.73" height="7.1" fill="#EBF91E"/><rect x="62.03" y="393.6" width="10.73" height="7.1" fill="#FFCE10"/><rect x="72.06" y="393.6" width="20.76" height="7.1" fill="#EBF91E"/><rect x="92.12" y="393.6" width="10.73" height="7.1" fill="#FFB010"/><rect x="102.15" y="393.6" width="10.73" height="7.1" fill="#EBF91E"/><rect x="112.18" y="393.6" width="10.73" height="7.1" fill="#E1FF4C"/><rect x="122.21" y="393.6" width="10.73" height="7.1" fill="#EBF91E"/><rect x="132.24" y="393.6" width="10.73" height="7.1" fill="#FBEA18"/><rect x="142.27" y="393.6" width="20.76" height="7.1" fill="#DEFF26"/><rect x="162.33" y="393.6" width="10.73" height="7.1" fill="#EBF91E"/><rect x="172.36" y="393.6" width="10.73" height="7.1" fill="#FFCE10"/><rect x="182.39" y="393.6" width="10.73" height="7.1" fill="#EBF91E"/><rect x="192.42" y="393.6" width="10.73" height="7.1" fill="#E1FF4C"/><rect x="202.45" y="393.6" width="10.73" height="7.1" fill="#FFB010"/><rect x="212.48" y="393.6" width="10.73" height="7.1" fill="#DEFF26"/><rect x="222.51" y="393.6" width="10.73" height="7.1" fill="#FFCE10"/><rect x="232.54" y="393.6" width="20.06" height="7.1" fill="#DEFF26"/>
<rect x="52" y="400" width="10.73" height="7.1" fill="#DEFF26"/><rect x="62.03" y="400" width="10.73" height="7.1" fill="#FBEA18"/><rect x="72.06" y="400" width="10.73" height="7.1" fill="#DEFF26"/><rect x="82.09" y="400" width="20.76" height="7.1" fill="#EBF91E"/><rect x="102.15" y="400" width="20.76" height="7.1" fill="#DEFF26"/><rect x="122.21" y="400" width="10.73" height="7.1" fill="#FFB010"/><rect x="132.24" y="400" width="10.73" height="7.1" fill="#DEFF26"/><rect x="142.27" y="400" width="10.73" height="7.1" fill="#FBEA18"/><rect x="152.3" y="400" width="10.73" height="7.1" fill="#DEFF26"/><rect x="162.33" y="400" width="10.73" height="7.1" fill="#EBF91E"/><rect x="172.36" y="400" width="10.73" height="7.1" fill="#E1FF4C"/><rect x="182.39" y="400" width="30.79" height="7.1" fill="#DEFF26"/><rect x="212.48" y="400" width="10.73" height="7.1" fill="#EDFF96"/><rect x="222.51" y="400" width="10.73" height="7.1" fill="#DEFF26"/><rect x="232.54" y="400" width="10.73" height="7.1" fill="#FBEA18"/><rect x="242.57" y="400" width="10.03" height="7.1" fill="#DEFF26"/>
<rect x="52" y="406.4" width="10.73" height="7.1" fill="#FBEA18"/><rect x="62.03" y="406.4" width="10.73" height="7.1" fill="#FFCE10"/><rect x="72.06" y="406.4" width="10.73" height="7.1" fill="#FBEA18"/><rect x="82.09" y="406.4" width="10.73" height="7.1" fill="#DEFF26"/><rect x="92.12" y="406.4" width="10.73" height="7.1" fill="#FBEA18"/><rect x="102.15" y="406.4" width="20.76" height="7.1" fill="#EBF91E"/><rect x="122.21" y="406.4" width="10.73" height="7.1" fill="#FFB010"/><rect x="132.24" y="406.4" width="10.73" height="7.1" fill="#FBEA18"/><rect x="142.27" y="406.4" width="10.73" height="7.1" fill="#EBF91E"/><rect x="152.3" y="406.4" width="10.73" height="7.1" fill="#FFB010"/><rect x="162.33" y="406.4" width="10.73" height="7.1" fill="#DEFF26"/><rect x="172.36" y="406.4" width="10.73" height="7.1" fill="#FBEA18"/><rect x="182.39" y="406.4" width="20.76" height="7.1" fill="#FFCE10"/><rect x="202.45" y="406.4" width="10.73" height="7.1" fill="#EBF91E"/><rect x="212.48" y="406.4" width="10.73" height="7.1" fill="#FFB010"/><rect x="222.51" y="406.4" width="20.76" height="7.1" fill="#EBF91E"/><rect x="242.57" y="406.4" width="10.03" height="7.1" fill="#FBEA18"/>
<rect x="52" y="412.8" width="10.73" height="7.1" fill="#DEFF26"/><rect x="62.03" y="412.8" width="10.73" height="7.1" fill="#FBEA18"/><rect x="72.06" y="412.8" width="10.73" height="7.1" fill="#FFCE10"/><rect x="82.09" y="412.8" width="10.73" height="7.1" fill="#EBF91E"/><rect x="92.12" y="412.8" width="10.73" height="7.1" fill="#FBEA18"/><rect x="102.15" y="412.8" width="10.73" height="7.1" fill="#FF9613"/><rect x="112.18" y="412.8" width="10.73" height="7.1" fill="#DEFF26"/><rect x="122.21" y="412.8" width="20.76" height="7.1" fill="#EBF91E"/><rect x="142.27" y="412.8" width="10.73" height="7.1" fill="#DEFF26"/><rect x="152.3" y="412.8" width="10.73" height="7.1" fill="#FFCE10"/><rect x="162.33" y="412.8" width="20.76" height="7.1" fill="#DEFF26"/><rect x="182.39" y="412.8" width="20.76" height="7.1" fill="#EBF91E"/><rect x="202.45" y="412.8" width="10.73" height="7.1" fill="#DEFF26"/><rect x="212.48" y="412.8" width="10.73" height="7.1" fill="#FFB010"/><rect x="222.51" y="412.8" width="10.73" height="7.1" fill="#FFCE10"/><rect x="232.54" y="412.8" width="20.06" height="7.1" fill="#DEFF26"/>
<rect x="52" y="419.2" width="30.79" height="7.1" fill="#DEFF26"/><rect x="82.09" y="419.2" width="10.73" height="7.1" fill="#EBF91E"/><rect x="92.12" y="419.2" width="10.73" height="7.1" fill="#DEFF26"/><rect x="102.15" y="419.2" width="10.73" height="7.1" fill="#FFCE10"/><rect x="112.18" y="419.2" width="40.82" height="7.1" fill="#DEFF26"/><rect x="152.3" y="419.2" width="10.73" height="7.1" fill="#EBF91E"/><rect x="162.33" y="419.2" width="10.73" height="7.1" fill="#FFB010"/><rect x="172.36" y="419.2" width="10.73" height="7.1" fill="#FBEA18"/><rect x="182.39" y="419.2" width="60.88" height="7.1" fill="#DEFF26"/><rect x="242.57" y="419.2" width="10.03" height="7.1" fill="#FBEA18"/>
<rect x="52" y="425.6" width="30.79" height="7.1" fill="#DEFF26"/><rect x="82.09" y="425.6" width="10.73" height="7.1" fill="#E1FF4C"/><rect x="92.12" y="425.6" width="10.73" height="7.1" fill="#DEFF26"/><rect x="102.15" y="425.6" width="10.73" height="7.1" fill="#EBF91E"/><rect x="112.18" y="425.6" width="10.73" height="7.1" fill="#FFCE10"/><rect x="122.21" y="425.6" width="10.73" height="7.1" fill="#FBEA18"/><rect x="132.24" y="425.6" width="10.73" height="7.1" fill="#E1FF4C"/><rect x="142.27" y="425.6" width="10.73" height="7.1" fill="#EBF91E"/><rect x="152.3" y="425.6" width="10.73" height="7.1" fill="#DEFF26"/><rect x="162.33" y="425.6" width="10.73" height="7.1" fill="#EBF91E"/><rect x="172.36" y="425.6" width="10.73" height="7.1" fill="#EDFF96"/><rect x="182.39" y="425.6" width="10.73" height="7.1" fill="#DEFF26"/><rect x="192.42" y="425.6" width="10.73" height="7.1" fill="#FBEA18"/><rect x="202.45" y="425.6" width="10.73" height="7.1" fill="#E1FF4C"/><rect x="212.48" y="425.6" width="30.79" height="7.1" fill="#DEFF26"/><rect x="242.57" y="425.6" width="10.03" height="7.1" fill="#FAFFE2"/>
<rect x="52" y="432" width="10.73" height="7.1" fill="#EBF91E"/><rect x="62.03" y="432" width="10.73" height="7.1" fill="#E1FF4C"/><rect x="72.06" y="432" width="10.73" height="7.1" fill="#DEFF26"/><rect x="82.09" y="432" width="10.73" height="7.1" fill="#FBEA18"/><rect x="92.12" y="432" width="20.76" height="7.1" fill="#DEFF26"/><rect x="112.18" y="432" width="10.73" height="7.1" fill="#E1FF4C"/><rect x="122.21" y="432" width="30.79" height="7.1" fill="#DEFF26"/><rect x="152.3" y="432" width="10.73" height="7.1" fill="#E1FF4C"/><rect x="162.33" y="432" width="10.73" height="7.1" fill="#FBEA18"/><rect x="172.36" y="432" width="60.88" height="7.1" fill="#DEFF26"/><rect x="232.54" y="432" width="10.73" height="7.1" fill="#FBEA18"/><rect x="242.57" y="432" width="10.03" height="7.1" fill="#DEFF26"/>
<rect x="52" y="438.4" width="10.73" height="7.1" fill="#EBF91E"/><rect x="62.03" y="438.4" width="10.73" height="7.1" fill="#DEFF26"/><rect x="72.06" y="438.4" width="20.76" height="7.1" fill="#FFCE10"/><rect x="92.12" y="438.4" width="20.76" height="7.1" fill="#DEFF26"/><rect x="112.18" y="438.4" width="10.73" height="7.1" fill="#FFFFFF"/><rect x="122.21" y="438.4" width="10.73" height="7.1" fill="#FBEA18"/><rect x="132.24" y="438.4" width="10.73" height="7.1" fill="#FFB010"/><rect x="142.27" y="438.4" width="10.73" height="7.1" fill="#EBF91E"/><rect x="152.3" y="438.4" width="10.73" height="7.1" fill="#FBEA18"/><rect x="162.33" y="438.4" width="10.73" height="7.1" fill="#EBF91E"/><rect x="172.36" y="438.4" width="10.73" height="7.1" fill="#FBEA18"/><rect x="182.39" y="438.4" width="10.73" height="7.1" fill="#EBF91E"/><rect x="192.42" y="438.4" width="20.76" height="7.1" fill="#FFCE10"/><rect x="212.48" y="438.4" width="10.73" height="7.1" fill="#EBF91E"/><rect x="222.51" y="438.4" width="10.73" height="7.1" fill="#DEFF26"/><rect x="232.54" y="438.4" width="10.73" height="7.1" fill="#EBF91E"/><rect x="242.57" y="438.4" width="10.03" height="7.1" fill="#FBEA18"/>
<rect x="52" y="444.8" width="10.73" height="7.1" fill="#FBEA18"/><rect x="62.03" y="444.8" width="10.73" height="7.1" fill="#DEFF26"/><rect x="72.06" y="444.8" width="40.82" height="7.1" fill="#FBEA18"/><rect x="112.18" y="444.8" width="10.73" height="7.1" fill="#E1FF4C"/><rect x="122.21" y="444.8" width="10.73" height="7.1" fill="#FBEA18"/><rect x="132.24" y="444.8" width="10.73" height="7.1" fill="#EBF91E"/><rect x="142.27" y="444.8" width="10.73" height="7.1" fill="#DEFF26"/><rect x="152.3" y="444.8" width="10.73" height="7.1" fill="#FBEA18"/><rect x="162.33" y="444.8" width="20.76" height="7.1" fill="#EBF91E"/><rect x="182.39" y="444.8" width="10.73" height="7.1" fill="#FBEA18"/><rect x="192.42" y="444.8" width="10.73" height="7.1" fill="#FFCE10"/><rect x="202.45" y="444.8" width="10.73" height="7.1" fill="#DEFF26"/><rect x="212.48" y="444.8" width="10.73" height="7.1" fill="#EBF91E"/><rect x="222.51" y="444.8" width="10.73" height="7.1" fill="#FF9613"/><rect x="232.54" y="444.8" width="20.06" height="7.1" fill="#EBF91E"/>
<rect x="52" y="451.2" width="10.73" height="7.1" fill="#EBF91E"/><rect x="62.03" y="451.2" width="10.73" height="7.1" fill="#FFB010"/><rect x="72.06" y="451.2" width="20.76" height="7.1" fill="#E1FF4C"/><rect x="92.12" y="451.2" width="10.73" height="7.1" fill="#EBF91E"/><rect x="102.15" y="451.2" width="10.73" height="7.1" fill="#DEFF26"/><rect x="112.18" y="451.2" width="10.73" height="7.1" fill="#EBF91E"/><rect x="122.21" y="451.2" width="10.73" height="7.1" fill="#E1FF4C"/><rect x="132.24" y="451.2" width="10.73" height="7.1" fill="#DEFF26"/><rect x="142.27" y="451.2" width="10.73" height="7.1" fill="#FFCE10"/><rect x="152.3" y="451.2" width="10.73" height="7.1" fill="#DEFF26"/><rect x="162.33" y="451.2" width="30.79" height="7.1" fill="#EBF91E"/><rect x="192.42" y="451.2" width="10.73" height="7.1" fill="#FBEA18"/><rect x="202.45" y="451.2" width="20.76" height="7.1" fill="#DEFF26"/><rect x="222.51" y="451.2" width="10.73" height="7.1" fill="#EBF91E"/><rect x="232.54" y="451.2" width="10.73" height="7.1" fill="#EDFF96"/><rect x="242.57" y="451.2" width="10.03" height="7.1" fill="#DEFF26"/>
<rect x="52" y="457.6" width="10.73" height="7.1" fill="#FBEA18"/><rect x="62.03" y="457.6" width="10.73" height="7.1" fill="#FF9613"/><rect x="72.06" y="457.6" width="10.73" height="7.1" fill="#FBEA18"/><rect x="82.09" y="457.6" width="10.73" height="7.1" fill="#FF9613"/><rect x="92.12" y="457.6" width="30.79" height="7.1" fill="#DEFF26"/><rect x="122.21" y="457.6" width="10.73" height="7.1" fill="#FBEA18"/><rect x="132.24" y="457.6" width="10.73" height="7.1" fill="#EBF91E"/><rect x="142.27" y="457.6" width="10.73" height="7.1" fill="#E1FF4C"/><rect x="152.3" y="457.6" width="10.73" height="7.1" fill="#FFCE10"/><rect x="162.33" y="457.6" width="10.73" height="7.1" fill="#DEFF26"/><rect x="172.36" y="457.6" width="10.73" height="7.1" fill="#FBEA18"/><rect x="182.39" y="457.6" width="10.73" height="7.1" fill="#EBF91E"/><rect x="192.42" y="457.6" width="60.18" height="7.1" fill="#DEFF26"/>
<rect x="52" y="464" width="10.73" height="7.1" fill="#DEFF26"/><rect x="62.03" y="464" width="10.73" height="7.1" fill="#EBF91E"/><rect x="72.06" y="464" width="10.73" height="7.1" fill="#DEFF26"/><rect x="82.09" y="464" width="10.73" height="7.1" fill="#FFB010"/><rect x="92.12" y="464" width="10.73" height="7.1" fill="#DEFF26"/><rect x="102.15" y="464" width="10.73" height="7.1" fill="#EBF91E"/><rect x="112.18" y="464" width="10.73" height="7.1" fill="#DEFF26"/><rect x="122.21" y="464" width="10.73" height="7.1" fill="#FFB010"/><rect x="132.24" y="464" width="10.73" height="7.1" fill="#FBEA18"/><rect x="142.27" y="464" width="20.76" height="7.1" fill="#DEFF26"/><rect x="162.33" y="464" width="10.73" height="7.1" fill="#FF9613"/><rect x="172.36" y="464" width="10.73" height="7.1" fill="#DEFF26"/><rect x="182.39" y="464" width="10.73" height="7.1" fill="#FBEA18"/><rect x="192.42" y="464" width="60.18" height="7.1" fill="#DEFF26"/>
<rect x="52" y="470.4" width="10.73" height="7.1" fill="#E1FF4C"/><rect x="62.03" y="470.4" width="10.73" height="7.1" fill="#DEFF26"/><rect x="72.06" y="470.4" width="10.73" height="7.1" fill="#FBEA18"/><rect x="82.09" y="470.4" width="20.76" height="7.1" fill="#EBF91E"/><rect x="102.15" y="470.4" width="10.73" height="7.1" fill="#DEFF26"/><rect x="112.18" y="470.4" width="20.76" height="7.1" fill="#FBEA18"/><rect x="132.24" y="470.4" width="10.73" height="7.1" fill="#FFCE10"/><rect x="142.27" y="470.4" width="10.73" height="7.1" fill="#E1FF4C"/><rect x="152.3" y="470.4" width="20.76" height="7.1" fill="#EBF91E"/><rect x="172.36" y="470.4" width="20.76" height="7.1" fill="#DEFF26"/><rect x="192.42" y="470.4" width="10.73" height="7.1" fill="#E1FF4C"/><rect x="202.45" y="470.4" width="10.73" height="7.1" fill="#FBEA18"/><rect x="212.48" y="470.4" width="10.73" height="7.1" fill="#E1FF4C"/><rect x="222.51" y="470.4" width="20.76" height="7.1" fill="#DEFF26"/><rect x="242.57" y="470.4" width="10.03" height="7.1" fill="#FBEA18"/>
<rect x="52" y="476.8" width="10.73" height="7.1" fill="#FFCE10"/><rect x="62.03" y="476.8" width="20.76" height="7.1" fill="#DEFF26"/><rect x="82.09" y="476.8" width="10.73" height="7.1" fill="#FFB010"/><rect x="92.12" y="476.8" width="10.73" height="7.1" fill="#FF9613"/><rect x="102.15" y="476.8" width="10.73" height="7.1" fill="#FFCE10"/><rect x="112.18" y="476.8" width="30.79" height="7.1" fill="#DEFF26"/><rect x="142.27" y="476.8" width="10.73" height="7.1" fill="#FBEA18"/><rect x="152.3" y="476.8" width="10.73" height="7.1" fill="#EBF91E"/><rect x="162.33" y="476.8" width="10.73" height="7.1" fill="#E1FF4C"/><rect x="172.36" y="476.8" width="10.73" height="7.1" fill="#FFCE10"/><rect x="182.39" y="476.8" width="10.73" height="7.1" fill="#EDFF96"/><rect x="192.42" y="476.8" width="20.76" height="7.1" fill="#DEFF26"/><rect x="212.48" y="476.8" width="10.73" height="7.1" fill="#FBEA18"/><rect x="222.51" y="476.8" width="10.73" height="7.1" fill="#EBF91E"/><rect x="232.54" y="476.8" width="10.73" height="7.1" fill="#E1FF4C"/><rect x="242.57" y="476.8" width="10.03" height="7.1" fill="#DEFF26"/>
<rect x="52" y="483.2" width="10.73" height="7.1" fill="#FF9613"/><rect x="62.03" y="483.2" width="10.73" height="7.1" fill="#DEFF26"/><rect x="72.06" y="483.2" width="10.73" height="7.1" fill="#EBF91E"/><rect x="82.09" y="483.2" width="20.76" height="7.1" fill="#DEFF26"/><rect x="102.15" y="483.2" width="10.73" height="7.1" fill="#FBEA18"/><rect x="112.18" y="483.2" width="30.79" height="7.1" fill="#DEFF26"/><rect x="142.27" y="483.2" width="20.76" height="7.1" fill="#FFB010"/><rect x="162.33" y="483.2" width="10.73" height="7.1" fill="#EBF91E"/><rect x="172.36" y="483.2" width="10.73" height="7.1" fill="#FFB010"/><rect x="182.39" y="483.2" width="10.73" height="7.1" fill="#FBEA18"/><rect x="192.42" y="483.2" width="10.73" height="7.1" fill="#DEFF26"/><rect x="202.45" y="483.2" width="10.73" height="7.1" fill="#FBEA18"/><rect x="212.48" y="483.2" width="10.73" height="7.1" fill="#EBF91E"/><rect x="222.51" y="483.2" width="30.09" height="7.1" fill="#DEFF26"/>
<rect x="52" y="489.6" width="10.73" height="7.1" fill="#FF9613"/><rect x="62.03" y="489.6" width="10.73" height="7.1" fill="#DEFF26"/><rect x="72.06" y="489.6" width="10.73" height="7.1" fill="#FBEA18"/><rect x="82.09" y="489.6" width="10.73" height="7.1" fill="#FFCE10"/><rect x="92.12" y="489.6" width="10.73" height="7.1" fill="#FBEA18"/><rect x="102.15" y="489.6" width="10.73" height="7.1" fill="#E1FF4C"/><rect x="112.18" y="489.6" width="20.76" height="7.1" fill="#FFCE10"/><rect x="132.24" y="489.6" width="20.76" height="7.1" fill="#DEFF26"/><rect x="152.3" y="489.6" width="20.76" height="7.1" fill="#EBF91E"/><rect x="172.36" y="489.6" width="20.76" height="7.1" fill="#DEFF26"/><rect x="192.42" y="489.6" width="10.73" height="7.1" fill="#E1FF4C"/><rect x="202.45" y="489.6" width="50.15" height="7.1" fill="#DEFF26"/>
<rect x="52" y="496" width="10.73" height="7.1" fill="#EBF91E"/><rect x="62.03" y="496" width="10.73" height="7.1" fill="#DEFF26"/><rect x="72.06" y="496" width="10.73" height="7.1" fill="#FF9613"/><rect x="82.09" y="496" width="10.73" height="7.1" fill="#EBF91E"/><rect x="92.12" y="496" width="20.76" height="7.1" fill="#DEFF26"/><rect x="112.18" y="496" width="10.73" height="7.1" fill="#FBEA18"/><rect x="122.21" y="496" width="10.73" height="7.1" fill="#DEFF26"/><rect x="132.24" y="496" width="10.73" height="7.1" fill="#E1FF4C"/><rect x="142.27" y="496" width="10.73" height="7.1" fill="#FFCE10"/><rect x="152.3" y="496" width="10.73" height="7.1" fill="#DEFF26"/><rect x="162.33" y="496" width="20.76" height="7.1" fill="#FBEA18"/><rect x="182.39" y="496" width="40.82" height="7.1" fill="#DEFF26"/><rect x="222.51" y="496" width="10.73" height="7.1" fill="#FBEA18"/><rect x="232.54" y="496" width="10.73" height="7.1" fill="#E1FF4C"/><rect x="242.57" y="496" width="10.03" height="7.1" fill="#FFB010"/>
<rect x="52" y="502.4" width="10.73" height="7.1" fill="#DEFF26"/><rect x="62.03" y="502.4" width="10.73" height="7.1" fill="#FFCE10"/><rect x="72.06" y="502.4" width="10.73" height="7.1" fill="#EBF91E"/><rect x="82.09" y="502.4" width="30.79" height="7.1" fill="#DEFF26"/><rect x="112.18" y="502.4" width="10.73" height="7.1" fill="#EBF91E"/><rect x="122.21" y="502.4" width="20.76" height="7.1" fill="#FBEA18"/><rect x="142.27" y="502.4" width="10.73" height="7.1" fill="#E1FF4C"/><rect x="152.3" y="502.4" width="10.73" height="7.1" fill="#FBEA18"/><rect x="162.33" y="502.4" width="30.79" height="7.1" fill="#DEFF26"/><rect x="192.42" y="502.4" width="10.73" height="7.1" fill="#E1FF4C"/><rect x="202.45" y="502.4" width="40.82" height="7.1" fill="#DEFF26"/><rect x="242.57" y="502.4" width="10.03" height="7.1" fill="#E1FF4C"/>
<rect x="52" y="508.8" width="30.79" height="7.1" fill="#DEFF26"/><rect x="82.09" y="508.8" width="10.73" height="7.1" fill="#FFB010"/><rect x="92.12" y="508.8" width="10.73" height="7.1" fill="#DEFF26"/><rect x="102.15" y="508.8" width="10.73" height="7.1" fill="#FBEA18"/><rect x="112.18" y="508.8" width="10.73" height="7.1" fill="#DEFF26"/><rect x="122.21" y="508.8" width="10.73" height="7.1" fill="#EBF91E"/><rect x="132.24" y="508.8" width="10.73" height="7.1" fill="#DEFF26"/><rect x="142.27" y="508.8" width="10.73" height="7.1" fill="#FBEA18"/><rect x="152.3" y="508.8" width="20.76" height="7.1" fill="#EBF91E"/><rect x="172.36" y="508.8" width="10.73" height="7.1" fill="#DEFF26"/><rect x="182.39" y="508.8" width="20.76" height="7.1" fill="#FBEA18"/><rect x="202.45" y="508.8" width="10.73" height="7.1" fill="#DEFF26"/><rect x="212.48" y="508.8" width="10.73" height="7.1" fill="#FBEA18"/><rect x="222.51" y="508.8" width="10.73" height="7.1" fill="#DEFF26"/><rect x="232.54" y="508.8" width="10.73" height="7.1" fill="#E1FF4C"/><rect x="242.57" y="508.8" width="10.03" height="7.1" fill="#DEFF26"/>
<rect x="52" y="515.2" width="10.73" height="7.1" fill="#DEFF26"/><rect x="62.03" y="515.2" width="10.73" height="7.1" fill="#EBF91E"/><rect x="72.06" y="515.2" width="10.73" height="7.1" fill="#DEFF26"/><rect x="82.09" y="515.2" width="10.73" height="7.1" fill="#FFB010"/><rect x="92.12" y="515.2" width="10.73" height="7.1" fill="#DEFF26"/><rect x="102.15" y="515.2" width="10.73" height="7.1" fill="#FBEA18"/><rect x="112.18" y="515.2" width="10.73" height="7.1" fill="#FFB010"/><rect x="122.21" y="515.2" width="10.73" height="7.1" fill="#FFCE10"/><rect x="132.24" y="515.2" width="10.73" height="7.1" fill="#EBF91E"/><rect x="142.27" y="515.2" width="10.73" height="7.1" fill="#FBEA18"/><rect x="152.3" y="515.2" width="10.73" height="7.1" fill="#EBF91E"/><rect x="162.33" y="515.2" width="10.73" height="7.1" fill="#FF9613"/><rect x="172.36" y="515.2" width="10.73" height="7.1" fill="#FF5F18"/><rect x="182.39" y="515.2" width="10.73" height="7.1" fill="#FBEA18"/><rect x="192.42" y="515.2" width="10.73" height="7.1" fill="#FFCE10"/><rect x="202.45" y="515.2" width="10.73" height="7.1" fill="#FFB010"/><rect x="212.48" y="515.2" width="10.73" height="7.1" fill="#FF9613"/><rect x="222.51" y="515.2" width="10.73" height="7.1" fill="#FFCE10"/><rect x="232.54" y="515.2" width="10.73" height="7.1" fill="#EBF91E"/><rect x="242.57" y="515.2" width="10.03" height="7.1" fill="#FF9613"/>
<rect x="52" y="521.6" width="10.73" height="7.1" fill="#FBEA18"/><rect x="62.03" y="521.6" width="10.73" height="7.1" fill="#EBF91E"/><rect x="72.06" y="521.6" width="10.73" height="7.1" fill="#FBEA18"/><rect x="82.09" y="521.6" width="10.73" height="7.1" fill="#DEFF26"/><rect x="92.12" y="521.6" width="10.73" height="7.1" fill="#FFCE10"/><rect x="102.15" y="521.6" width="30.79" height="7.1" fill="#DEFF26"/><rect x="132.24" y="521.6" width="10.73" height="7.1" fill="#EBF91E"/><rect x="142.27" y="521.6" width="10.73" height="7.1" fill="#FFCE10"/><rect x="152.3" y="521.6" width="10.73" height="7.1" fill="#FBEA18"/><rect x="162.33" y="521.6" width="10.73" height="7.1" fill="#FFB010"/><rect x="172.36" y="521.6" width="10.73" height="7.1" fill="#DEFF26"/><rect x="182.39" y="521.6" width="10.73" height="7.1" fill="#FFB010"/><rect x="192.42" y="521.6" width="20.76" height="7.1" fill="#DEFF26"/><rect x="212.48" y="521.6" width="10.73" height="7.1" fill="#FFCE10"/><rect x="222.51" y="521.6" width="10.73" height="7.1" fill="#EBF91E"/><rect x="232.54" y="521.6" width="10.73" height="7.1" fill="#FBEA18"/><rect x="242.57" y="521.6" width="10.03" height="7.1" fill="#DEFF26"/>
<rect x="52" y="528" width="10.73" height="7.1" fill="#FFCE10"/><rect x="62.03" y="528" width="10.73" height="7.1" fill="#DEFF26"/><rect x="72.06" y="528" width="10.73" height="7.1" fill="#FF9613"/><rect x="82.09" y="528" width="10.73" height="7.1" fill="#FFB010"/><rect x="92.12" y="528" width="10.73" height="7.1" fill="#DEFF26"/><rect x="102.15" y="528" width="10.73" height="7.1" fill="#FFB010"/><rect x="112.18" y="528" width="10.73" height="7.1" fill="#EBF91E"/><rect x="122.21" y="528" width="10.73" height="7.1" fill="#FFCE10"/><rect x="132.24" y="528" width="10.73" height="7.1" fill="#DEFF26"/><rect x="142.27" y="528" width="10.73" height="7.1" fill="#EBF91E"/><rect x="152.3" y="528" width="10.73" height="7.1" fill="#FFCE10"/><rect x="162.33" y="528" width="20.76" height="7.1" fill="#EBF91E"/><rect x="182.39" y="528" width="20.76" height="7.1" fill="#DEFF26"/><rect x="202.45" y="528" width="10.73" height="7.1" fill="#FFCE10"/><rect x="212.48" y="528" width="10.73" height="7.1" fill="#DEFF26"/><rect x="222.51" y="528" width="10.73" height="7.1" fill="#EBF91E"/><rect x="232.54" y="528" width="20.06" height="7.1" fill="#DEFF26"/>
<rect x="52" y="534.4" width="40.82" height="7.1" fill="#DEFF26"/><rect x="92.12" y="534.4" width="10.73" height="7.1" fill="#EBF91E"/><rect x="102.15" y="534.4" width="10.73" height="7.1" fill="#DEFF26"/><rect x="112.18" y="534.4" width="10.73" height="7.1" fill="#EBF91E"/><rect x="122.21" y="534.4" width="30.79" height="7.1" fill="#DEFF26"/><rect x="152.3" y="534.4" width="20.76" height="7.1" fill="#EBF91E"/><rect x="172.36" y="534.4" width="10.73" height="7.1" fill="#DEFF26"/><rect x="182.39" y="534.4" width="10.73" height="7.1" fill="#FBEA18"/><rect x="192.42" y="534.4" width="10.73" height="7.1" fill="#EBF91E"/><rect x="202.45" y="534.4" width="10.73" height="7.1" fill="#DEFF26"/><rect x="212.48" y="534.4" width="10.73" height="7.1" fill="#EBF91E"/><rect x="222.51" y="534.4" width="10.73" height="7.1" fill="#FF9613"/><rect x="232.54" y="534.4" width="20.06" height="7.1" fill="#DEFF26"/>
<rect x="52" y="540.8" width="50.85" height="7.1" fill="#DEFF26"/><rect x="102.15" y="540.8" width="10.73" height="7.1" fill="#FBEA18"/><rect x="112.18" y="540.8" width="10.73" height="7.1" fill="#DEFF26"/><rect x="122.21" y="540.8" width="10.73" height="7.1" fill="#EBF91E"/><rect x="132.24" y="540.8" width="101" height="7.1" fill="#DEFF26"/><rect x="232.54" y="540.8" width="10.73" height="7.1" fill="#EBF91E"/><rect x="242.57" y="540.8" width="10.03" height="7.1" fill="#DEFF26"/>
<rect x="52" y="547.2" width="10.73" height="7.1" fill="#FFB010"/><rect x="62.03" y="547.2" width="10.73" height="7.1" fill="#FFCE10"/><rect x="72.06" y="547.2" width="10.73" height="7.1" fill="#DEFF26"/><rect x="82.09" y="547.2" width="10.73" height="7.1" fill="#FFCE10"/><rect x="92.12" y="547.2" width="20.76" height="7.1" fill="#FBEA18"/><rect x="112.18" y="547.2" width="10.73" height="7.1" fill="#DEFF26"/><rect x="122.21" y="547.2" width="10.73" height="7.1" fill="#EBF91E"/><rect x="132.24" y="547.2" width="10.73" height="7.1" fill="#DEFF26"/><rect x="142.27" y="547.2" width="10.73" height="7.1" fill="#FFB010"/><rect x="152.3" y="547.2" width="10.73" height="7.1" fill="#FFCE10"/><rect x="162.33" y="547.2" width="20.76" height="7.1" fill="#DEFF26"/><rect x="182.39" y="547.2" width="10.73" height="7.1" fill="#FBEA18"/><rect x="192.42" y="547.2" width="30.79" height="7.1" fill="#DEFF26"/><rect x="222.51" y="547.2" width="10.73" height="7.1" fill="#FFCE10"/><rect x="232.54" y="547.2" width="20.06" height="7.1" fill="#DEFF26"/>
<rect x="52" y="553.6" width="10.73" height="7.1" fill="#E1FF4C"/><rect x="62.03" y="553.6" width="10.73" height="7.1" fill="#EBF91E"/><rect x="72.06" y="553.6" width="30.79" height="7.1" fill="#DEFF26"/><rect x="102.15" y="553.6" width="10.73" height="7.1" fill="#E1FF4C"/><rect x="112.18" y="553.6" width="10.73" height="7.1" fill="#EBF91E"/><rect x="122.21" y="553.6" width="10.73" height="7.1" fill="#E1FF4C"/><rect x="132.24" y="553.6" width="10.73" height="7.1" fill="#EDFF96"/><rect x="142.27" y="553.6" width="10.73" height="7.1" fill="#FFCE10"/><rect x="152.3" y="553.6" width="20.76" height="7.1" fill="#E1FF4C"/><rect x="172.36" y="553.6" width="10.73" height="7.1" fill="#DEFF26"/><rect x="182.39" y="553.6" width="10.73" height="7.1" fill="#EBF91E"/><rect x="192.42" y="553.6" width="30.79" height="7.1" fill="#DEFF26"/><rect x="222.51" y="553.6" width="10.73" height="7.1" fill="#FBEA18"/><rect x="232.54" y="553.6" width="10.73" height="7.1" fill="#DEFF26"/><rect x="242.57" y="553.6" width="10.03" height="7.1" fill="#E1FF4C"/>
<rect x="52" y="560" width="10.73" height="7.1" fill="#E1FF4C"/><rect x="62.03" y="560" width="10.73" height="7.1" fill="#EDFF96"/><rect x="72.06" y="560" width="10.73" height="7.1" fill="#E1FF4C"/><rect x="82.09" y="560" width="60.88" height="7.1" fill="#DEFF26"/><rect x="142.27" y="560" width="10.73" height="7.1" fill="#E1FF4C"/><rect x="152.3" y="560" width="20.76" height="7.1" fill="#DEFF26"/><rect x="172.36" y="560" width="10.73" height="7.1" fill="#EDFF96"/><rect x="182.39" y="560" width="10.73" height="7.1" fill="#E1FF4C"/><rect x="192.42" y="560" width="30.79" height="7.1" fill="#DEFF26"/><rect x="222.51" y="560" width="10.73" height="7.1" fill="#FFCE10"/><rect x="232.54" y="560" width="20.06" height="7.1" fill="#DEFF26"/>
<rect x="52" y="566.4" width="10.73" height="7.1" fill="#EBF91E"/><rect x="62.03" y="566.4" width="10.73" height="7.1" fill="#DEFF26"/><rect x="72.06" y="566.4" width="10.73" height="7.1" fill="#FBEA18"/><rect x="82.09" y="566.4" width="10.73" height="7.1" fill="#DEFF26"/><rect x="92.12" y="566.4" width="10.73" height="7.1" fill="#EBF91E"/><rect x="102.15" y="566.4" width="10.73" height="7.1" fill="#FBEA18"/><rect x="112.18" y="566.4" width="10.73" height="7.1" fill="#DEFF26"/><rect x="122.21" y="566.4" width="10.73" height="7.1" fill="#E1FF4C"/><rect x="132.24" y="566.4" width="30.79" height="7.1" fill="#FBEA18"/><rect x="162.33" y="566.4" width="10.73" height="7.1" fill="#EBF91E"/><rect x="172.36" y="566.4" width="10.73" height="7.1" fill="#FBEA18"/><rect x="182.39" y="566.4" width="30.79" height="7.1" fill="#DEFF26"/><rect x="212.48" y="566.4" width="10.73" height="7.1" fill="#E1FF4C"/><rect x="222.51" y="566.4" width="10.73" height="7.1" fill="#DEFF26"/><rect x="232.54" y="566.4" width="10.73" height="7.1" fill="#FBEA18"/><rect x="242.57" y="566.4" width="10.03" height="7.1" fill="#DEFF26"/>
<rect x="52" y="572.8" width="10.73" height="7.1" fill="#EBF91E"/><rect x="62.03" y="572.8" width="20.76" height="7.1" fill="#FBEA18"/><rect x="82.09" y="572.8" width="10.73" height="7.1" fill="#DEFF26"/><rect x="92.12" y="572.8" width="10.73" height="7.1" fill="#E1FF4C"/><rect x="102.15" y="572.8" width="10.73" height="7.1" fill="#DEFF26"/><rect x="112.18" y="572.8" width="10.73" height="7.1" fill="#EBF91E"/><rect x="122.21" y="572.8" width="10.73" height="7.1" fill="#DEFF26"/><rect x="132.24" y="572.8" width="10.73" height="7.1" fill="#EBF91E"/><rect x="142.27" y="572.8" width="10.73" height="7.1" fill="#FBEA18"/><rect x="152.3" y="572.8" width="10.73" height="7.1" fill="#EBF91E"/><rect x="162.33" y="572.8" width="30.79" height="7.1" fill="#DEFF26"/><rect x="192.42" y="572.8" width="10.73" height="7.1" fill="#FBEA18"/><rect x="202.45" y="572.8" width="30.79" height="7.1" fill="#DEFF26"/><rect x="232.54" y="572.8" width="10.73" height="7.1" fill="#EBF91E"/><rect x="242.57" y="572.8" width="10.03" height="7.1" fill="#E1FF4C"/>
<rect x="52" y="579.2" width="10.73" height="7.1" fill="#DEFF26"/><rect x="62.03" y="579.2" width="10.73" height="7.1" fill="#EDFF96"/><rect x="72.06" y="579.2" width="10.73" height="7.1" fill="#EBF91E"/><rect x="82.09" y="579.2" width="10.73" height="7.1" fill="#EDFF96"/><rect x="92.12" y="579.2" width="10.73" height="7.1" fill="#DEFF26"/><rect x="102.15" y="579.2" width="10.73" height="7.1" fill="#E1FF4C"/><rect x="112.18" y="579.2" width="10.73" height="7.1" fill="#DEFF26"/><rect x="122.21" y="579.2" width="10.73" height="7.1" fill="#FAFFE2"/><rect x="132.24" y="579.2" width="20.76" height="7.1" fill="#DEFF26"/><rect x="152.3" y="579.2" width="10.73" height="7.1" fill="#E1FF4C"/><rect x="162.33" y="579.2" width="10.73" height="7.1" fill="#DEFF26"/><rect x="172.36" y="579.2" width="10.73" height="7.1" fill="#E1FF4C"/><rect x="182.39" y="579.2" width="10.73" height="7.1" fill="#DEFF26"/><rect x="192.42" y="579.2" width="10.73" height="7.1" fill="#EBF91E"/><rect x="202.45" y="579.2" width="10.73" height="7.1" fill="#E1FF4C"/><rect x="212.48" y="579.2" width="30.79" height="7.1" fill="#DEFF26"/><rect x="242.57" y="579.2" width="10.03" height="7.1" fill="#EDFF96"/>
<rect x="52" y="585.6" width="10.73" height="7.1" fill="#DEFF26"/><rect x="62.03" y="585.6" width="10.73" height="7.1" fill="#FFB010"/><rect x="72.06" y="585.6" width="60.88" height="7.1" fill="#DEFF26"/><rect x="132.24" y="585.6" width="20.76" height="7.1" fill="#E1FF4C"/><rect x="152.3" y="585.6" width="30.79" height="7.1" fill="#DEFF26"/><rect x="182.39" y="585.6" width="20.76" height="7.1" fill="#EBF91E"/><rect x="202.45" y="585.6" width="10.73" height="7.1" fill="#DEFF26"/><rect x="212.48" y="585.6" width="10.73" height="7.1" fill="#FBEA18"/><rect x="222.51" y="585.6" width="10.73" height="7.1" fill="#FFB010"/><rect x="232.54" y="585.6" width="10.73" height="7.1" fill="#FFCE10"/><rect x="242.57" y="585.6" width="10.03" height="7.1" fill="#DEFF26"/>
<rect x="52" y="592" width="10.73" height="7.1" fill="#DEFF26"/><rect x="62.03" y="592" width="20.76" height="7.1" fill="#E1FF4C"/><rect x="82.09" y="592" width="10.73" height="7.1" fill="#DEFF26"/><rect x="92.12" y="592" width="10.73" height="7.1" fill="#E1FF4C"/><rect x="102.15" y="592" width="40.82" height="7.1" fill="#DEFF26"/><rect x="142.27" y="592" width="10.73" height="7.1" fill="#FBEA18"/><rect x="152.3" y="592" width="10.73" height="7.1" fill="#DEFF26"/><rect x="162.33" y="592" width="10.73" height="7.1" fill="#EBF91E"/><rect x="172.36" y="592" width="10.73" height="7.1" fill="#DEFF26"/><rect x="182.39" y="592" width="10.73" height="7.1" fill="#E1FF4C"/><rect x="192.42" y="592" width="10.73" height="7.1" fill="#DEFF26"/><rect x="202.45" y="592" width="10.73" height="7.1" fill="#E1FF4C"/><rect x="212.48" y="592" width="10.73" height="7.1" fill="#EDFF96"/><rect x="222.51" y="592" width="10.73" height="7.1" fill="#DEFF26"/><rect x="232.54" y="592" width="10.73" height="7.1" fill="#EDFF96"/><rect x="242.57" y="592" width="10.03" height="7.1" fill="#E1FF4C"/>
<rect x="52" y="598.4" width="20.76" height="7.1" fill="#FFCE10"/><rect x="72.06" y="598.4" width="10.73" height="7.1" fill="#FF9613"/><rect x="82.09" y="598.4" width="20.76" height="7.1" fill="#DEFF26"/><rect x="102.15" y="598.4" width="10.73" height="7.1" fill="#FBEA18"/><rect x="112.18" y="598.4" width="10.73" height="7.1" fill="#FFCE10"/><rect x="122.21" y="598.4" width="10.73" height="7.1" fill="#DEFF26"/><rect x="132.24" y="598.4" width="10.73" height="7.1" fill="#E1FF4C"/><rect x="142.27" y="598.4" width="10.73" height="7.1" fill="#FBEA18"/><rect x="152.3" y="598.4" width="10.73" height="7.1" fill="#DEFF26"/><rect x="162.33" y="598.4" width="10.73" height="7.1" fill="#E1FF4C"/><rect x="172.36" y="598.4" width="20.76" height="7.1" fill="#DEFF26"/><rect x="192.42" y="598.4" width="10.73" height="7.1" fill="#E1FF4C"/><rect x="202.45" y="598.4" width="20.76" height="7.1" fill="#DEFF26"/><rect x="222.51" y="598.4" width="10.73" height="7.1" fill="#FFCE10"/><rect x="232.54" y="598.4" width="10.73" height="7.1" fill="#DEFF26"/><rect x="242.57" y="598.4" width="10.03" height="7.1" fill="#FFCE10"/>
<rect x="52" y="604.8" width="10.73" height="7.1" fill="#FFCE10"/><rect x="62.03" y="604.8" width="60.88" height="7.1" fill="#DEFF26"/><rect x="122.21" y="604.8" width="10.73" height="7.1" fill="#FBEA18"/><rect x="132.24" y="604.8" width="10.73" height="7.1" fill="#DEFF26"/><rect x="142.27" y="604.8" width="10.73" height="7.1" fill="#FBEA18"/><rect x="152.3" y="604.8" width="20.76" height="7.1" fill="#DEFF26"/><rect x="172.36" y="604.8" width="10.73" height="7.1" fill="#EBF91E"/><rect x="182.39" y="604.8" width="10.73" height="7.1" fill="#DEFF26"/><rect x="192.42" y="604.8" width="20.76" height="7.1" fill="#EBF91E"/><rect x="212.48" y="604.8" width="30.79" height="7.1" fill="#DEFF26"/><rect x="242.57" y="604.8" width="10.03" height="7.1" fill="#E1FF4C"/>
<rect x="52" y="611.2" width="20.76" height="7.1" fill="#E1FF4C"/><rect x="72.06" y="611.2" width="30.79" height="7.1" fill="#DEFF26"/><rect x="102.15" y="611.2" width="10.73" height="7.1" fill="#FF5F18"/><rect x="112.18" y="611.2" width="40.82" height="7.1" fill="#DEFF26"/><rect x="152.3" y="611.2" width="10.73" height="7.1" fill="#FBEA18"/><rect x="162.33" y="611.2" width="10.73" height="7.1" fill="#E1FF4C"/><rect x="172.36" y="611.2" width="10.73" height="7.1" fill="#FFCE10"/><rect x="182.39" y="611.2" width="10.73" height="7.1" fill="#E1FF4C"/><rect x="192.42" y="611.2" width="30.79" height="7.1" fill="#DEFF26"/><rect x="222.51" y="611.2" width="10.73" height="7.1" fill="#FFCE10"/><rect x="232.54" y="611.2" width="10.73" height="7.1" fill="#DEFF26"/><rect x="242.57" y="611.2" width="10.03" height="7.1" fill="#E1FF4C"/>
<rect x="52" y="617.6" width="30.79" height="7.1" fill="#DEFF26"/><rect x="82.09" y="617.6" width="10.73" height="7.1" fill="#FBEA18"/><rect x="92.12" y="617.6" width="10.73" height="7.1" fill="#DEFF26"/><rect x="102.15" y="617.6" width="10.73" height="7.1" fill="#EBF91E"/><rect x="112.18" y="617.6" width="40.82" height="7.1" fill="#DEFF26"/><rect x="152.3" y="617.6" width="10.73" height="7.1" fill="#EBF91E"/><rect x="162.33" y="617.6" width="20.76" height="7.1" fill="#DEFF26"/><rect x="182.39" y="617.6" width="10.73" height="7.1" fill="#E1FF4C"/><rect x="192.42" y="617.6" width="10.73" height="7.1" fill="#DEFF26"/><rect x="202.45" y="617.6" width="10.73" height="7.1" fill="#FBEA18"/><rect x="212.48" y="617.6" width="20.76" height="7.1" fill="#EBF91E"/><rect x="232.54" y="617.6" width="10.73" height="7.1" fill="#DEFF26"/><rect x="242.57" y="617.6" width="10.03" height="7.1" fill="#EBF91E"/>
<rect x="52" y="624" width="20.76" height="7.1" fill="#DEFF26"/><rect x="72.06" y="624" width="10.73" height="7.1" fill="#FFB010"/><rect x="82.09" y="624" width="10.73" height="7.1" fill="#EBF91E"/><rect x="92.12" y="624" width="10.73" height="7.1" fill="#DEFF26"/><rect x="102.15" y="624" width="10.73" height="7.1" fill="#EBF91E"/><rect x="112.18" y="624" width="10.73" height="7.1" fill="#FBEA18"/><rect x="122.21" y="624" width="10.73" height="7.1" fill="#FFCE10"/><rect x="132.24" y="624" width="10.73" height="7.1" fill="#DEFF26"/><rect x="142.27" y="624" width="10.73" height="7.1" fill="#EBF91E"/><rect x="152.3" y="624" width="50.85" height="7.1" fill="#DEFF26"/><rect x="202.45" y="624" width="10.73" height="7.1" fill="#EBF91E"/><rect x="212.48" y="624" width="10.73" height="7.1" fill="#FFB010"/><rect x="222.51" y="624" width="10.73" height="7.1" fill="#FBEA18"/><rect x="232.54" y="624" width="10.73" height="7.1" fill="#DEFF26"/><rect x="242.57" y="624" width="10.03" height="7.1" fill="#FF9613"/>
<rect x="52" y="630.4" width="10.73" height="7.1" fill="#E1FF4C"/><rect x="62.03" y="630.4" width="10.73" height="7.1" fill="#FFCE10"/><rect x="72.06" y="630.4" width="10.73" height="7.1" fill="#DEFF26"/><rect x="82.09" y="630.4" width="10.73" height="7.1" fill="#EBF91E"/><rect x="92.12" y="630.4" width="10.73" height="7.1" fill="#FFCE10"/><rect x="102.15" y="630.4" width="40.82" height="7.1" fill="#DEFF26"/><rect x="142.27" y="630.4" width="10.73" height="7.1" fill="#EBF91E"/><rect x="152.3" y="630.4" width="50.85" height="7.1" fill="#DEFF26"/><rect x="202.45" y="630.4" width="10.73" height="7.1" fill="#EBF91E"/><rect x="212.48" y="630.4" width="10.73" height="7.1" fill="#DEFF26"/><rect x="222.51" y="630.4" width="10.73" height="7.1" fill="#FBEA18"/><rect x="232.54" y="630.4" width="10.73" height="7.1" fill="#DEFF26"/><rect x="242.57" y="630.4" width="10.03" height="7.1" fill="#FFB010"/>
<rect x="52" y="636.8" width="10.73" height="6.4" fill="#DEFF26"/><rect x="62.03" y="636.8" width="10.73" height="6.4" fill="#FFCE10"/><rect x="72.06" y="636.8" width="121.06" height="6.4" fill="#DEFF26"/><rect x="192.42" y="636.8" width="10.73" height="6.4" fill="#EBF91E"/><rect x="202.45" y="636.8" width="10.73" height="6.4" fill="#E1FF4C"/><rect x="212.48" y="636.8" width="10.73" height="6.4" fill="#DEFF26"/><rect x="222.51" y="636.8" width="10.73" height="6.4" fill="#EBF91E"/><rect x="232.54" y="636.8" width="10.73" height="6.4" fill="#DEFF26"/><rect x="242.57" y="636.8" width="10.03" height="6.4" fill="#E1FF4C"/>
<rect x="52" y="387.2" width="200.6" height="256" fill="none" stroke="#333" stroke-opacity="0.45" stroke-width="0.5"/>
<line x1="52" y1="515.2" x2="252.6" y2="515.2" stroke="#1a1a1a" stroke-width="1.1"/>
<line x1="97.13" y1="643.2" x2="97.13" y2="647.8" stroke="#111" stroke-width="0.9"/><text class="s" x="97.13" y="666.5" font-size="15" text-anchor="middle">5</text>
<line x1="147.28" y1="643.2" x2="147.28" y2="647.8" stroke="#111" stroke-width="0.9"/><text class="s" x="147.28" y="666.5" font-size="15" text-anchor="middle">10</text>
<line x1="197.44" y1="643.2" x2="197.44" y2="647.8" stroke="#111" stroke-width="0.9"/><text class="s" x="197.44" y="666.5" font-size="15" text-anchor="middle">15</text>
<line x1="247.58" y1="643.2" x2="247.58" y2="647.8" stroke="#111" stroke-width="0.9"/><text class="s" x="247.58" y="666.5" font-size="15" text-anchor="middle">20</text>
<line x1="47.4" y1="582.4" x2="52" y2="582.4" stroke="#111" stroke-width="0.9"/><text class="s" font-size="15.4" text-anchor="middle" transform="translate(40.7,582.8) rotate(-90)">10</text>
<line x1="47.4" y1="518.4" x2="52" y2="518.4" stroke="#111" stroke-width="0.9"/><text class="s" font-size="15.4" text-anchor="middle" transform="translate(40.7,518.8) rotate(-90)">20</text>
<line x1="47.4" y1="454.4" x2="52" y2="454.4" stroke="#111" stroke-width="0.9"/><text class="s" font-size="15.4" text-anchor="middle" transform="translate(40.7,454.8) rotate(-90)">30</text>
<line x1="47.4" y1="390.4" x2="52" y2="390.4" stroke="#111" stroke-width="0.9"/><text class="s" font-size="15.4" text-anchor="middle" transform="translate(40.7,390.8) rotate(-90)">40</text>
<text class="s" x="156.9" y="691.9" font-size="18.3" text-anchor="middle">Column</text>
<text class="s" font-size="17.8" text-anchor="middle" transform="translate(16,512.5) rotate(-90)">Row</text>
<rect x="266.8" y="621.1" width="8.8" height="9.6" fill="#FF0D14"/><rect x="266.8" y="611.5" width="8.8" height="10.1" fill="#FF1416"/><rect x="266.8" y="601.9" width="8.8" height="10.1" fill="#FF1C16"/><rect x="266.8" y="592.3" width="8.8" height="10.1" fill="#FF2418"/><rect x="266.8" y="582.7" width="8.8" height="10.1" fill="#FF2E18"/><rect x="266.8" y="573.1" width="8.8" height="10.1" fill="#FF3A18"/><rect x="266.8" y="563.5" width="8.8" height="10.1" fill="#FF4818"/><rect x="266.8" y="553.9" width="8.8" height="10.1" fill="#FF5818"/><rect x="266.8" y="544.3" width="8.8" height="10.1" fill="#FF6818"/><rect x="266.8" y="534.7" width="8.8" height="10.1" fill="#FF7816"/><rect x="266.8" y="525.1" width="8.8" height="10.1" fill="#FF8814"/><rect x="266.8" y="515.5" width="8.8" height="10.1" fill="#FF9812"/><rect x="266.8" y="505.9" width="8.8" height="10.1" fill="#FFA812"/><rect x="266.8" y="496.3" width="8.8" height="10.1" fill="#FFBA10"/><rect x="266.8" y="486.7" width="8.8" height="10.1" fill="#FFD010"/><rect x="266.8" y="477.1" width="8.8" height="10.1" fill="#FFE818"/><rect x="266.8" y="467.5" width="8.8" height="10.1" fill="#E8FA20"/><rect x="266.8" y="457.9" width="8.8" height="10.1" fill="#DCFF25"/><rect x="266.8" y="448.3" width="8.8" height="10.1" fill="#DBFF25"/><rect x="266.8" y="438.7" width="8.8" height="10.1" fill="#DDFF30"/><rect x="266.8" y="429.1" width="8.8" height="10.1" fill="#E2FF55"/><rect x="266.8" y="419.5" width="8.8" height="10.1" fill="#E9FF80"/><rect x="266.8" y="409.9" width="8.8" height="10.1" fill="#EFFFA8"/><rect x="266.8" y="400.3" width="8.8" height="10.1" fill="#FAFFE2"/>
<rect x="266.8" y="400.3" width="8.8" height="230.4" fill="none" stroke="#151515" stroke-width="0.9"/>
<line x1="275.6" y1="600.1" x2="280.2" y2="600.1" stroke="#111" stroke-width="0.9"/><text class="s" x="284.8" y="605.2" font-size="15">2000</text>
<line x1="275.6" y1="564.7" x2="280.2" y2="564.7" stroke="#111" stroke-width="0.9"/><text class="s" x="284.8" y="569.8" font-size="15">4000</text>
<line x1="275.6" y1="529.3" x2="280.2" y2="529.3" stroke="#111" stroke-width="0.9"/><text class="s" x="284.8" y="534.4" font-size="15">6000</text>
<line x1="275.6" y1="493.9" x2="280.2" y2="493.9" stroke="#111" stroke-width="0.9"/><text class="s" x="284.8" y="499" font-size="15">8000</text>
<line x1="275.6" y1="458.5" x2="280.2" y2="458.5" stroke="#111" stroke-width="0.9"/><text class="s" x="284.8" y="463.6" font-size="15">10000</text>
<line x1="275.6" y1="423.1" x2="280.2" y2="423.1" stroke="#111" stroke-width="0.9"/><text class="s" x="284.8" y="428.2" font-size="15">12000</text>
<text class="t" x="49.4" y="723.5" font-size="20"><tspan font-weight="bold">(c)</tspan></text>
<text class="t" x="78.9" y="723.5" font-size="20">Year 2012, fully irrigated</text>
</g>
<g>
<rect x="409.3" y="387.2" width="10.73" height="7.1" fill="#FFB010"/><rect x="419.33" y="387.2" width="10.73" height="7.1" fill="#FBEA18"/><rect x="429.36" y="387.2" width="10.73" height="7.1" fill="#EBF91E"/><rect x="439.39" y="387.2" width="10.73" height="7.1" fill="#FBEA18"/><rect x="449.42" y="387.2" width="10.73" height="7.1" fill="#DEFF26"/><rect x="459.45" y="387.2" width="10.73" height="7.1" fill="#FFCE10"/><rect x="469.48" y="387.2" width="10.73" height="7.1" fill="#FBEA18"/><rect x="479.51" y="387.2" width="10.73" height="7.1" fill="#FFB010"/><rect x="489.54" y="387.2" width="10.73" height="7.1" fill="#FBEA18"/><rect x="499.57" y="387.2" width="10.73" height="7.1" fill="#DEFF26"/><rect x="509.6" y="387.2" width="10.73" height="7.1" fill="#EBF91E"/><rect x="519.63" y="387.2" width="10.73" height="7.1" fill="#FF9613"/><rect x="529.66" y="387.2" width="10.73" height="7.1" fill="#FFCE10"/><rect x="539.69" y="387.2" width="10.73" height="7.1" fill="#FF9613"/><rect x="549.72" y="387.2" width="10.73" height="7.1" fill="#FFCE10"/><rect x="559.75" y="387.2" width="30.79" height="7.1" fill="#FF9613"/><rect x="589.84" y="387.2" width="10.73" height="7.1" fill="#FFCE10"/><rect x="599.87" y="387.2" width="10.03" height="7.1" fill="#FBEA18"/>
<rect x="409.3" y="393.6" width="10.73" height="7.1" fill="#FFCE10"/><rect x="419.33" y="393.6" width="10.73" height="7.1" fill="#FF9613"/><rect x="429.36" y="393.6" width="10.73" height="7.1" fill="#DEFF26"/><rect x="439.39" y="393.6" width="10.73" height="7.1" fill="#EBF91E"/><rect x="449.42" y="393.6" width="10.73" height="7.1" fill="#FFCE10"/><rect x="459.45" y="393.6" width="30.79" height="7.1" fill="#EBF91E"/><rect x="489.54" y="393.6" width="10.73" height="7.1" fill="#FBEA18"/><rect x="499.57" y="393.6" width="10.73" height="7.1" fill="#DEFF26"/><rect x="509.6" y="393.6" width="10.73" height="7.1" fill="#FBEA18"/><rect x="519.63" y="393.6" width="10.73" height="7.1" fill="#EBF91E"/><rect x="529.66" y="393.6" width="20.76" height="7.1" fill="#FFB010"/><rect x="549.72" y="393.6" width="10.73" height="7.1" fill="#EBF91E"/><rect x="559.75" y="393.6" width="20.76" height="7.1" fill="#FBEA18"/><rect x="579.81" y="393.6" width="10.73" height="7.1" fill="#FFB010"/><rect x="589.84" y="393.6" width="10.73" height="7.1" fill="#DEFF26"/><rect x="599.87" y="393.6" width="10.03" height="7.1" fill="#FBEA18"/>
<rect x="409.3" y="400" width="20.76" height="7.1" fill="#FF9613"/><rect x="429.36" y="400" width="30.79" height="7.1" fill="#DEFF26"/><rect x="459.45" y="400" width="10.73" height="7.1" fill="#EBF91E"/><rect x="469.48" y="400" width="10.73" height="7.1" fill="#DEFF26"/><rect x="479.51" y="400" width="10.73" height="7.1" fill="#FF9613"/><rect x="489.54" y="400" width="10.73" height="7.1" fill="#EBF91E"/><rect x="499.57" y="400" width="10.73" height="7.1" fill="#FFB010"/><rect x="509.6" y="400" width="10.73" height="7.1" fill="#FBEA18"/><rect x="519.63" y="400" width="10.73" height="7.1" fill="#FFCE10"/><rect x="529.66" y="400" width="10.73" height="7.1" fill="#DEFF26"/><rect x="539.69" y="400" width="10.73" height="7.1" fill="#EBF91E"/><rect x="549.72" y="400" width="10.73" height="7.1" fill="#FBEA18"/><rect x="559.75" y="400" width="10.73" height="7.1" fill="#FFB010"/><rect x="569.78" y="400" width="20.76" height="7.1" fill="#DEFF26"/><rect x="589.84" y="400" width="10.73" height="7.1" fill="#FF9613"/><rect x="599.87" y="400" width="10.03" height="7.1" fill="#FFCE10"/>
<rect x="409.3" y="406.4" width="10.73" height="7.1" fill="#DEFF26"/><rect x="419.33" y="406.4" width="10.73" height="7.1" fill="#FF9613"/><rect x="429.36" y="406.4" width="10.73" height="7.1" fill="#FFCE10"/><rect x="439.39" y="406.4" width="10.73" height="7.1" fill="#DEFF26"/><rect x="449.42" y="406.4" width="10.73" height="7.1" fill="#FF9613"/><rect x="459.45" y="406.4" width="20.76" height="7.1" fill="#EBF91E"/><rect x="479.51" y="406.4" width="10.73" height="7.1" fill="#FFB010"/><rect x="489.54" y="406.4" width="10.73" height="7.1" fill="#FBEA18"/><rect x="499.57" y="406.4" width="10.73" height="7.1" fill="#EBF91E"/><rect x="509.6" y="406.4" width="10.73" height="7.1" fill="#FFB010"/><rect x="519.63" y="406.4" width="20.76" height="7.1" fill="#DEFF26"/><rect x="539.69" y="406.4" width="10.73" height="7.1" fill="#FFB010"/><rect x="549.72" y="406.4" width="10.73" height="7.1" fill="#EBF91E"/><rect x="559.75" y="406.4" width="10.73" height="7.1" fill="#DEFF26"/><rect x="569.78" y="406.4" width="10.73" height="7.1" fill="#FBEA18"/><rect x="579.81" y="406.4" width="10.73" height="7.1" fill="#EBF91E"/><rect x="589.84" y="406.4" width="10.73" height="7.1" fill="#FFCE10"/><rect x="599.87" y="406.4" width="10.03" height="7.1" fill="#EBF91E"/>
<rect x="409.3" y="412.8" width="10.73" height="7.1" fill="#FFB010"/><rect x="419.33" y="412.8" width="30.79" height="7.1" fill="#FF9613"/><rect x="449.42" y="412.8" width="20.76" height="7.1" fill="#FFB010"/><rect x="469.48" y="412.8" width="10.73" height="7.1" fill="#DEFF26"/><rect x="479.51" y="412.8" width="10.73" height="7.1" fill="#FBEA18"/><rect x="489.54" y="412.8" width="10.73" height="7.1" fill="#EBF91E"/><rect x="499.57" y="412.8" width="10.73" height="7.1" fill="#DEFF26"/><rect x="509.6" y="412.8" width="10.73" height="7.1" fill="#FF9613"/><rect x="519.63" y="412.8" width="20.76" height="7.1" fill="#FBEA18"/><rect x="539.69" y="412.8" width="20.76" height="7.1" fill="#FFCE10"/><rect x="559.75" y="412.8" width="10.73" height="7.1" fill="#DEFF26"/><rect x="569.78" y="412.8" width="10.73" height="7.1" fill="#FF9613"/><rect x="579.81" y="412.8" width="20.76" height="7.1" fill="#FFB010"/><rect x="599.87" y="412.8" width="10.03" height="7.1" fill="#FFCE10"/>
<rect x="409.3" y="419.2" width="10.73" height="7.1" fill="#FFCE10"/><rect x="419.33" y="419.2" width="10.73" height="7.1" fill="#FFB010"/><rect x="429.36" y="419.2" width="20.76" height="7.1" fill="#FFCE10"/><rect x="449.42" y="419.2" width="10.73" height="7.1" fill="#DEFF26"/><rect x="459.45" y="419.2" width="10.73" height="7.1" fill="#FFCE10"/><rect x="469.48" y="419.2" width="10.73" height="7.1" fill="#EBF91E"/><rect x="479.51" y="419.2" width="10.73" height="7.1" fill="#FFB010"/><rect x="489.54" y="419.2" width="10.73" height="7.1" fill="#FFCE10"/><rect x="499.57" y="419.2" width="10.73" height="7.1" fill="#FBEA18"/><rect x="509.6" y="419.2" width="10.73" height="7.1" fill="#FFB010"/><rect x="519.63" y="419.2" width="30.79" height="7.1" fill="#FFCE10"/><rect x="549.72" y="419.2" width="10.73" height="7.1" fill="#FBEA18"/><rect x="559.75" y="419.2" width="20.76" height="7.1" fill="#EBF91E"/><rect x="579.81" y="419.2" width="10.73" height="7.1" fill="#DEFF26"/><rect x="589.84" y="419.2" width="10.73" height="7.1" fill="#FFB010"/><rect x="599.87" y="419.2" width="10.03" height="7.1" fill="#FFCE10"/>
<rect x="409.3" y="425.6" width="10.73" height="7.1" fill="#DEFF26"/><rect x="419.33" y="425.6" width="20.76" height="7.1" fill="#FBEA18"/><rect x="439.39" y="425.6" width="10.73" height="7.1" fill="#DEFF26"/><rect x="449.42" y="425.6" width="20.76" height="7.1" fill="#FBEA18"/><rect x="469.48" y="425.6" width="10.73" height="7.1" fill="#FF9613"/><rect x="479.51" y="425.6" width="10.73" height="7.1" fill="#FFB010"/><rect x="489.54" y="425.6" width="10.73" height="7.1" fill="#DEFF26"/><rect x="499.57" y="425.6" width="10.73" height="7.1" fill="#EBF91E"/><rect x="509.6" y="425.6" width="10.73" height="7.1" fill="#DEFF26"/><rect x="519.63" y="425.6" width="10.73" height="7.1" fill="#FFCE10"/><rect x="529.66" y="425.6" width="20.76" height="7.1" fill="#DEFF26"/><rect x="549.72" y="425.6" width="10.73" height="7.1" fill="#FBEA18"/><rect x="559.75" y="425.6" width="10.73" height="7.1" fill="#EBF91E"/><rect x="569.78" y="425.6" width="10.73" height="7.1" fill="#FFB010"/><rect x="579.81" y="425.6" width="20.76" height="7.1" fill="#FFCE10"/><rect x="599.87" y="425.6" width="10.03" height="7.1" fill="#DEFF26"/>
<rect x="409.3" y="432" width="10.73" height="7.1" fill="#FBEA18"/><rect x="419.33" y="432" width="30.79" height="7.1" fill="#DEFF26"/><rect x="449.42" y="432" width="10.73" height="7.1" fill="#EBF91E"/><rect x="459.45" y="432" width="50.85" height="7.1" fill="#DEFF26"/><rect x="509.6" y="432" width="10.73" height="7.1" fill="#E1FF4C"/><rect x="519.63" y="432" width="10.73" height="7.1" fill="#FBEA18"/><rect x="529.66" y="432" width="10.73" height="7.1" fill="#DEFF26"/><rect x="539.69" y="432" width="10.73" height="7.1" fill="#EBF91E"/><rect x="549.72" y="432" width="10.73" height="7.1" fill="#FBEA18"/><rect x="559.75" y="432" width="10.73" height="7.1" fill="#DEFF26"/><rect x="569.78" y="432" width="10.73" height="7.1" fill="#FBEA18"/><rect x="579.81" y="432" width="10.73" height="7.1" fill="#DEFF26"/><rect x="589.84" y="432" width="10.73" height="7.1" fill="#FFB010"/><rect x="599.87" y="432" width="10.03" height="7.1" fill="#DEFF26"/>
<rect x="409.3" y="438.4" width="10.73" height="7.1" fill="#FFB010"/><rect x="419.33" y="438.4" width="10.73" height="7.1" fill="#FBEA18"/><rect x="429.36" y="438.4" width="10.73" height="7.1" fill="#FFCE10"/><rect x="439.39" y="438.4" width="10.73" height="7.1" fill="#EBF91E"/><rect x="449.42" y="438.4" width="10.73" height="7.1" fill="#FFCE10"/><rect x="459.45" y="438.4" width="10.73" height="7.1" fill="#EBF91E"/><rect x="469.48" y="438.4" width="30.79" height="7.1" fill="#FFCE10"/><rect x="499.57" y="438.4" width="10.73" height="7.1" fill="#EBF91E"/><rect x="509.6" y="438.4" width="10.73" height="7.1" fill="#FFB010"/><rect x="519.63" y="438.4" width="10.73" height="7.1" fill="#FFCE10"/><rect x="529.66" y="438.4" width="10.73" height="7.1" fill="#FBEA18"/><rect x="539.69" y="438.4" width="10.73" height="7.1" fill="#DEFF26"/><rect x="549.72" y="438.4" width="10.73" height="7.1" fill="#EBF91E"/><rect x="559.75" y="438.4" width="10.73" height="7.1" fill="#FF9613"/><rect x="569.78" y="438.4" width="20.76" height="7.1" fill="#DEFF26"/><rect x="589.84" y="438.4" width="10.73" height="7.1" fill="#FBEA18"/><rect x="599.87" y="438.4" width="10.03" height="7.1" fill="#FFCE10"/>
<rect x="409.3" y="444.8" width="10.73" height="7.1" fill="#FBEA18"/><rect x="419.33" y="444.8" width="10.73" height="7.1" fill="#EBF91E"/><rect x="429.36" y="444.8" width="20.76" height="7.1" fill="#DEFF26"/><rect x="449.42" y="444.8" width="10.73" height="7.1" fill="#EBF91E"/><rect x="459.45" y="444.8" width="10.73" height="7.1" fill="#DEFF26"/><rect x="469.48" y="444.8" width="40.82" height="7.1" fill="#EBF91E"/><rect x="509.6" y="444.8" width="10.73" height="7.1" fill="#FBEA18"/><rect x="519.63" y="444.8" width="20.76" height="7.1" fill="#DEFF26"/><rect x="539.69" y="444.8" width="10.73" height="7.1" fill="#EBF91E"/><rect x="549.72" y="444.8" width="10.73" height="7.1" fill="#FFCE10"/><rect x="559.75" y="444.8" width="10.73" height="7.1" fill="#DEFF26"/><rect x="569.78" y="444.8" width="20.76" height="7.1" fill="#EBF91E"/><rect x="589.84" y="444.8" width="10.73" height="7.1" fill="#FBEA18"/><rect x="599.87" y="444.8" width="10.03" height="7.1" fill="#EBF91E"/>
<rect x="409.3" y="451.2" width="10.73" height="7.1" fill="#EBF91E"/><rect x="419.33" y="451.2" width="10.73" height="7.1" fill="#FFCE10"/><rect x="429.36" y="451.2" width="10.73" height="7.1" fill="#FBEA18"/><rect x="439.39" y="451.2" width="10.73" height="7.1" fill="#E1FF4C"/><rect x="449.42" y="451.2" width="20.76" height="7.1" fill="#DEFF26"/><rect x="469.48" y="451.2" width="10.73" height="7.1" fill="#FBEA18"/><rect x="479.51" y="451.2" width="20.76" height="7.1" fill="#EBF91E"/><rect x="499.57" y="451.2" width="10.73" height="7.1" fill="#FFB010"/><rect x="509.6" y="451.2" width="10.73" height="7.1" fill="#FBEA18"/><rect x="519.63" y="451.2" width="20.76" height="7.1" fill="#DEFF26"/><rect x="539.69" y="451.2" width="10.73" height="7.1" fill="#FBEA18"/><rect x="549.72" y="451.2" width="10.73" height="7.1" fill="#EBF91E"/><rect x="559.75" y="451.2" width="10.73" height="7.1" fill="#DEFF26"/><rect x="569.78" y="451.2" width="10.73" height="7.1" fill="#E1FF4C"/><rect x="579.81" y="451.2" width="10.73" height="7.1" fill="#EBF91E"/><rect x="589.84" y="451.2" width="20.06" height="7.1" fill="#DEFF26"/>
<rect x="409.3" y="457.6" width="10.73" height="7.1" fill="#FFCE10"/><rect x="419.33" y="457.6" width="10.73" height="7.1" fill="#FF9613"/><rect x="429.36" y="457.6" width="10.73" height="7.1" fill="#EBF91E"/><rect x="439.39" y="457.6" width="10.73" height="7.1" fill="#FF9613"/><rect x="449.42" y="457.6" width="10.73" height="7.1" fill="#EBF91E"/><rect x="459.45" y="457.6" width="20.76" height="7.1" fill="#FBEA18"/><rect x="479.51" y="457.6" width="20.76" height="7.1" fill="#FFCE10"/><rect x="499.57" y="457.6" width="10.73" height="7.1" fill="#EBF91E"/><rect x="509.6" y="457.6" width="20.76" height="7.1" fill="#FFB010"/><rect x="529.66" y="457.6" width="10.73" height="7.1" fill="#FFCE10"/><rect x="539.69" y="457.6" width="20.76" height="7.1" fill="#FBEA18"/><rect x="559.75" y="457.6" width="10.73" height="7.1" fill="#EBF91E"/><rect x="569.78" y="457.6" width="10.73" height="7.1" fill="#DEFF26"/><rect x="579.81" y="457.6" width="10.73" height="7.1" fill="#FBEA18"/><rect x="589.84" y="457.6" width="10.73" height="7.1" fill="#EBF91E"/><rect x="599.87" y="457.6" width="10.03" height="7.1" fill="#FBEA18"/>
<rect x="409.3" y="464" width="30.79" height="7.1" fill="#DEFF26"/><rect x="439.39" y="464" width="10.73" height="7.1" fill="#FBEA18"/><rect x="449.42" y="464" width="30.79" height="7.1" fill="#DEFF26"/><rect x="479.51" y="464" width="10.73" height="7.1" fill="#EBF91E"/><rect x="489.54" y="464" width="10.73" height="7.1" fill="#FBEA18"/><rect x="499.57" y="464" width="10.73" height="7.1" fill="#DEFF26"/><rect x="509.6" y="464" width="10.73" height="7.1" fill="#EBF91E"/><rect x="519.63" y="464" width="10.73" height="7.1" fill="#FBEA18"/><rect x="529.66" y="464" width="10.73" height="7.1" fill="#EBF91E"/><rect x="539.69" y="464" width="10.73" height="7.1" fill="#FBEA18"/><rect x="549.72" y="464" width="20.76" height="7.1" fill="#DEFF26"/><rect x="569.78" y="464" width="10.73" height="7.1" fill="#FBEA18"/><rect x="579.81" y="464" width="10.73" height="7.1" fill="#DEFF26"/><rect x="589.84" y="464" width="20.06" height="7.1" fill="#EBF91E"/>
<rect x="409.3" y="470.4" width="10.73" height="7.1" fill="#EBF91E"/><rect x="419.33" y="470.4" width="10.73" height="7.1" fill="#FFCE10"/><rect x="429.36" y="470.4" width="10.73" height="7.1" fill="#FFB010"/><rect x="439.39" y="470.4" width="10.73" height="7.1" fill="#DEFF26"/><rect x="449.42" y="470.4" width="10.73" height="7.1" fill="#FFB010"/><rect x="459.45" y="470.4" width="10.73" height="7.1" fill="#DEFF26"/><rect x="469.48" y="470.4" width="20.76" height="7.1" fill="#FFB010"/><rect x="489.54" y="470.4" width="10.73" height="7.1" fill="#DEFF26"/><rect x="499.57" y="470.4" width="10.73" height="7.1" fill="#EBF91E"/><rect x="509.6" y="470.4" width="10.73" height="7.1" fill="#FFB010"/><rect x="519.63" y="470.4" width="20.76" height="7.1" fill="#FBEA18"/><rect x="539.69" y="470.4" width="10.73" height="7.1" fill="#EBF91E"/><rect x="549.72" y="470.4" width="10.73" height="7.1" fill="#DEFF26"/><rect x="559.75" y="470.4" width="10.73" height="7.1" fill="#FBEA18"/><rect x="569.78" y="470.4" width="10.73" height="7.1" fill="#DEFF26"/><rect x="579.81" y="470.4" width="10.73" height="7.1" fill="#EBF91E"/><rect x="589.84" y="470.4" width="10.73" height="7.1" fill="#FFB010"/><rect x="599.87" y="470.4" width="10.03" height="7.1" fill="#DEFF26"/>
<rect x="409.3" y="476.8" width="10.73" height="7.1" fill="#EBF91E"/><rect x="419.33" y="476.8" width="10.73" height="7.1" fill="#FFCE10"/><rect x="429.36" y="476.8" width="10.73" height="7.1" fill="#DEFF26"/><rect x="439.39" y="476.8" width="10.73" height="7.1" fill="#FFB010"/><rect x="449.42" y="476.8" width="10.73" height="7.1" fill="#FF5F18"/><rect x="459.45" y="476.8" width="10.73" height="7.1" fill="#FFB010"/><rect x="469.48" y="476.8" width="10.73" height="7.1" fill="#DEFF26"/><rect x="479.51" y="476.8" width="10.73" height="7.1" fill="#FBEA18"/><rect x="489.54" y="476.8" width="10.73" height="7.1" fill="#DEFF26"/><rect x="499.57" y="476.8" width="10.73" height="7.1" fill="#EBF91E"/><rect x="509.6" y="476.8" width="10.73" height="7.1" fill="#FBEA18"/><rect x="519.63" y="476.8" width="10.73" height="7.1" fill="#DEFF26"/><rect x="529.66" y="476.8" width="10.73" height="7.1" fill="#FFB010"/><rect x="539.69" y="476.8" width="10.73" height="7.1" fill="#DEFF26"/><rect x="549.72" y="476.8" width="10.73" height="7.1" fill="#EBF91E"/><rect x="559.75" y="476.8" width="10.73" height="7.1" fill="#DEFF26"/><rect x="569.78" y="476.8" width="10.73" height="7.1" fill="#EBF91E"/><rect x="579.81" y="476.8" width="20.76" height="7.1" fill="#FBEA18"/><rect x="599.87" y="476.8" width="10.03" height="7.1" fill="#EBF91E"/>
<rect x="409.3" y="483.2" width="10.73" height="7.1" fill="#FF7916"/><rect x="419.33" y="483.2" width="10.73" height="7.1" fill="#EBF91E"/><rect x="429.36" y="483.2" width="10.73" height="7.1" fill="#FFCE10"/><rect x="439.39" y="483.2" width="10.73" height="7.1" fill="#DEFF26"/><rect x="449.42" y="483.2" width="10.73" height="7.1" fill="#FBEA18"/><rect x="459.45" y="483.2" width="20.76" height="7.1" fill="#EBF91E"/><rect x="479.51" y="483.2" width="20.76" height="7.1" fill="#DEFF26"/><rect x="499.57" y="483.2" width="10.73" height="7.1" fill="#EBF91E"/><rect x="509.6" y="483.2" width="10.73" height="7.1" fill="#FFB010"/><rect x="519.63" y="483.2" width="10.73" height="7.1" fill="#E1FF4C"/><rect x="529.66" y="483.2" width="20.76" height="7.1" fill="#FFB010"/><rect x="549.72" y="483.2" width="20.76" height="7.1" fill="#DEFF26"/><rect x="569.78" y="483.2" width="10.73" height="7.1" fill="#FFCE10"/><rect x="579.81" y="483.2" width="10.73" height="7.1" fill="#DEFF26"/><rect x="589.84" y="483.2" width="10.73" height="7.1" fill="#EBF91E"/><rect x="599.87" y="483.2" width="10.03" height="7.1" fill="#FBEA18"/>
<rect x="409.3" y="489.6" width="10.73" height="7.1" fill="#FF7916"/><rect x="419.33" y="489.6" width="10.73" height="7.1" fill="#FFB010"/><rect x="429.36" y="489.6" width="20.76" height="7.1" fill="#FBEA18"/><rect x="449.42" y="489.6" width="10.73" height="7.1" fill="#FF9613"/><rect x="459.45" y="489.6" width="10.73" height="7.1" fill="#DEFF26"/><rect x="469.48" y="489.6" width="10.73" height="7.1" fill="#FF9613"/><rect x="479.51" y="489.6" width="20.76" height="7.1" fill="#FBEA18"/><rect x="499.57" y="489.6" width="10.73" height="7.1" fill="#EBF91E"/><rect x="509.6" y="489.6" width="10.73" height="7.1" fill="#FFB010"/><rect x="519.63" y="489.6" width="10.73" height="7.1" fill="#FFCE10"/><rect x="529.66" y="489.6" width="10.73" height="7.1" fill="#DEFF26"/><rect x="539.69" y="489.6" width="10.73" height="7.1" fill="#EBF91E"/><rect x="549.72" y="489.6" width="10.73" height="7.1" fill="#DEFF26"/><rect x="559.75" y="489.6" width="10.73" height="7.1" fill="#FFB010"/><rect x="569.78" y="489.6" width="10.73" height="7.1" fill="#FF9613"/><rect x="579.81" y="489.6" width="10.73" height="7.1" fill="#DEFF26"/><rect x="589.84" y="489.6" width="10.73" height="7.1" fill="#EBF91E"/><rect x="599.87" y="489.6" width="10.03" height="7.1" fill="#DEFF26"/>
<rect x="409.3" y="496" width="10.73" height="7.1" fill="#FFCE10"/><rect x="419.33" y="496" width="10.73" height="7.1" fill="#DEFF26"/><rect x="429.36" y="496" width="10.73" height="7.1" fill="#FF9613"/><rect x="439.39" y="496" width="10.73" height="7.1" fill="#FFCE10"/><rect x="449.42" y="496" width="20.76" height="7.1" fill="#DEFF26"/><rect x="469.48" y="496" width="10.73" height="7.1" fill="#FF9613"/><rect x="479.51" y="496" width="10.73" height="7.1" fill="#DEFF26"/><rect x="489.54" y="496" width="10.73" height="7.1" fill="#FFCE10"/><rect x="499.57" y="496" width="10.73" height="7.1" fill="#FF9613"/><rect x="509.6" y="496" width="10.73" height="7.1" fill="#EBF91E"/><rect x="519.63" y="496" width="10.73" height="7.1" fill="#FFCE10"/><rect x="529.66" y="496" width="20.76" height="7.1" fill="#EBF91E"/><rect x="549.72" y="496" width="10.73" height="7.1" fill="#FFB010"/><rect x="559.75" y="496" width="10.73" height="7.1" fill="#EBF91E"/><rect x="569.78" y="496" width="10.73" height="7.1" fill="#FFB010"/><rect x="579.81" y="496" width="10.73" height="7.1" fill="#FBEA18"/><rect x="589.84" y="496" width="10.73" height="7.1" fill="#FFCE10"/><rect x="599.87" y="496" width="10.03" height="7.1" fill="#FF9613"/>
<rect x="409.3" y="502.4" width="10.73" height="7.1" fill="#FBEA18"/><rect x="419.33" y="502.4" width="10.73" height="7.1" fill="#FFB010"/><rect x="429.36" y="502.4" width="10.73" height="7.1" fill="#FBEA18"/><rect x="439.39" y="502.4" width="40.82" height="7.1" fill="#DEFF26"/><rect x="479.51" y="502.4" width="10.73" height="7.1" fill="#FFCE10"/><rect x="489.54" y="502.4" width="20.76" height="7.1" fill="#DEFF26"/><rect x="509.6" y="502.4" width="10.73" height="7.1" fill="#FBEA18"/><rect x="519.63" y="502.4" width="30.79" height="7.1" fill="#EBF91E"/><rect x="549.72" y="502.4" width="10.73" height="7.1" fill="#DEFF26"/><rect x="559.75" y="502.4" width="10.73" height="7.1" fill="#EBF91E"/><rect x="569.78" y="502.4" width="10.73" height="7.1" fill="#FBEA18"/><rect x="579.81" y="502.4" width="30.09" height="7.1" fill="#EBF91E"/>
<rect x="409.3" y="508.8" width="20.76" height="7.1" fill="#FFCE10"/><rect x="429.36" y="508.8" width="10.73" height="7.1" fill="#FF9613"/><rect x="439.39" y="508.8" width="10.73" height="7.1" fill="#FF5F18"/><rect x="449.42" y="508.8" width="20.76" height="7.1" fill="#FF9613"/><rect x="469.48" y="508.8" width="10.73" height="7.1" fill="#FF4518"/><rect x="479.51" y="508.8" width="10.73" height="7.1" fill="#FBEA18"/><rect x="489.54" y="508.8" width="10.73" height="7.1" fill="#FFB010"/><rect x="499.57" y="508.8" width="10.73" height="7.1" fill="#FFCE10"/><rect x="509.6" y="508.8" width="10.73" height="7.1" fill="#FF9613"/><rect x="519.63" y="508.8" width="10.73" height="7.1" fill="#FF7916"/><rect x="529.66" y="508.8" width="10.73" height="7.1" fill="#FFB010"/><rect x="539.69" y="508.8" width="10.73" height="7.1" fill="#FF7916"/><rect x="549.72" y="508.8" width="10.73" height="7.1" fill="#FFB010"/><rect x="559.75" y="508.8" width="10.73" height="7.1" fill="#FF7916"/><rect x="569.78" y="508.8" width="10.73" height="7.1" fill="#FF4518"/><rect x="579.81" y="508.8" width="10.73" height="7.1" fill="#FFCE10"/><rect x="589.84" y="508.8" width="10.73" height="7.1" fill="#FF9613"/><rect x="599.87" y="508.8" width="10.03" height="7.1" fill="#FBEA18"/>
<rect x="409.3" y="515.2" width="10.73" height="7.1" fill="#DEFF26"/><rect x="419.33" y="515.2" width="10.73" height="7.1" fill="#FFCE10"/><rect x="429.36" y="515.2" width="10.73" height="7.1" fill="#DEFF26"/><rect x="439.39" y="515.2" width="10.73" height="7.1" fill="#FFB010"/><rect x="449.42" y="515.2" width="10.73" height="7.1" fill="#FBEA18"/><rect x="459.45" y="515.2" width="10.73" height="7.1" fill="#FF9613"/><rect x="469.48" y="515.2" width="10.73" height="7.1" fill="#FF7916"/><rect x="479.51" y="515.2" width="10.73" height="7.1" fill="#FFCE10"/><rect x="489.54" y="515.2" width="20.76" height="7.1" fill="#FFB010"/><rect x="509.6" y="515.2" width="10.73" height="7.1" fill="#EBF91E"/><rect x="519.63" y="515.2" width="10.73" height="7.1" fill="#FFB010"/><rect x="529.66" y="515.2" width="10.73" height="7.1" fill="#FF9613"/><rect x="539.69" y="515.2" width="10.73" height="7.1" fill="#FBEA18"/><rect x="549.72" y="515.2" width="10.73" height="7.1" fill="#FFCE10"/><rect x="559.75" y="515.2" width="10.73" height="7.1" fill="#FFB010"/><rect x="569.78" y="515.2" width="10.73" height="7.1" fill="#FF9613"/><rect x="579.81" y="515.2" width="10.73" height="7.1" fill="#FFCE10"/><rect x="589.84" y="515.2" width="10.73" height="7.1" fill="#EBF91E"/><rect x="599.87" y="515.2" width="10.03" height="7.1" fill="#FF9613"/>
<rect x="409.3" y="521.6" width="40.82" height="7.1" fill="#FBEA18"/><rect x="449.42" y="521.6" width="10.73" height="7.1" fill="#FFB010"/><rect x="459.45" y="521.6" width="20.76" height="7.1" fill="#EBF91E"/><rect x="479.51" y="521.6" width="10.73" height="7.1" fill="#FFCE10"/><rect x="489.54" y="521.6" width="10.73" height="7.1" fill="#EBF91E"/><rect x="499.57" y="521.6" width="20.76" height="7.1" fill="#FBEA18"/><rect x="519.63" y="521.6" width="10.73" height="7.1" fill="#FFCE10"/><rect x="529.66" y="521.6" width="10.73" height="7.1" fill="#EBF91E"/><rect x="539.69" y="521.6" width="10.73" height="7.1" fill="#FFCE10"/><rect x="549.72" y="521.6" width="20.76" height="7.1" fill="#DEFF26"/><rect x="569.78" y="521.6" width="10.73" height="7.1" fill="#FFCE10"/><rect x="579.81" y="521.6" width="10.73" height="7.1" fill="#EBF91E"/><rect x="589.84" y="521.6" width="10.73" height="7.1" fill="#FFCE10"/><rect x="599.87" y="521.6" width="10.03" height="7.1" fill="#DEFF26"/>
<rect x="409.3" y="528" width="20.76" height="7.1" fill="#FFB010"/><rect x="429.36" y="528" width="10.73" height="7.1" fill="#FF7916"/><rect x="439.39" y="528" width="10.73" height="7.1" fill="#FFB010"/><rect x="449.42" y="528" width="10.73" height="7.1" fill="#EBF91E"/><rect x="459.45" y="528" width="10.73" height="7.1" fill="#FF7916"/><rect x="469.48" y="528" width="10.73" height="7.1" fill="#FBEA18"/><rect x="479.51" y="528" width="10.73" height="7.1" fill="#FF9613"/><rect x="489.54" y="528" width="10.73" height="7.1" fill="#DEFF26"/><rect x="499.57" y="528" width="10.73" height="7.1" fill="#FFCE10"/><rect x="509.6" y="528" width="10.73" height="7.1" fill="#FFB010"/><rect x="519.63" y="528" width="10.73" height="7.1" fill="#EBF91E"/><rect x="529.66" y="528" width="20.76" height="7.1" fill="#FFCE10"/><rect x="549.72" y="528" width="10.73" height="7.1" fill="#FBEA18"/><rect x="559.75" y="528" width="10.73" height="7.1" fill="#FFCE10"/><rect x="569.78" y="528" width="10.73" height="7.1" fill="#EBF91E"/><rect x="579.81" y="528" width="10.73" height="7.1" fill="#FFCE10"/><rect x="589.84" y="528" width="10.73" height="7.1" fill="#EBF91E"/><rect x="599.87" y="528" width="10.03" height="7.1" fill="#FBEA18"/>
<rect x="409.3" y="534.4" width="10.73" height="7.1" fill="#EBF91E"/><rect x="419.33" y="534.4" width="10.73" height="7.1" fill="#FBEA18"/><rect x="429.36" y="534.4" width="20.76" height="7.1" fill="#EBF91E"/><rect x="449.42" y="534.4" width="10.73" height="7.1" fill="#FBEA18"/><rect x="459.45" y="534.4" width="10.73" height="7.1" fill="#EBF91E"/><rect x="469.48" y="534.4" width="10.73" height="7.1" fill="#FBEA18"/><rect x="479.51" y="534.4" width="10.73" height="7.1" fill="#EBF91E"/><rect x="489.54" y="534.4" width="10.73" height="7.1" fill="#FFB010"/><rect x="499.57" y="534.4" width="10.73" height="7.1" fill="#FBEA18"/><rect x="509.6" y="534.4" width="10.73" height="7.1" fill="#FFCE10"/><rect x="519.63" y="534.4" width="10.73" height="7.1" fill="#FFB010"/><rect x="529.66" y="534.4" width="10.73" height="7.1" fill="#EBF91E"/><rect x="539.69" y="534.4" width="10.73" height="7.1" fill="#FBEA18"/><rect x="549.72" y="534.4" width="10.73" height="7.1" fill="#DEFF26"/><rect x="559.75" y="534.4" width="10.73" height="7.1" fill="#EBF91E"/><rect x="569.78" y="534.4" width="10.73" height="7.1" fill="#FBEA18"/><rect x="579.81" y="534.4" width="10.73" height="7.1" fill="#FFCE10"/><rect x="589.84" y="534.4" width="10.73" height="7.1" fill="#DEFF26"/><rect x="599.87" y="534.4" width="10.03" height="7.1" fill="#EBF91E"/>
<rect x="409.3" y="540.8" width="20.76" height="7.1" fill="#FF9613"/><rect x="429.36" y="540.8" width="10.73" height="7.1" fill="#FFB010"/><rect x="439.39" y="540.8" width="10.73" height="7.1" fill="#FFCE10"/><rect x="449.42" y="540.8" width="20.76" height="7.1" fill="#FFB010"/><rect x="469.48" y="540.8" width="10.73" height="7.1" fill="#FBEA18"/><rect x="479.51" y="540.8" width="20.76" height="7.1" fill="#FFCE10"/><rect x="499.57" y="540.8" width="10.73" height="7.1" fill="#DEFF26"/><rect x="509.6" y="540.8" width="10.73" height="7.1" fill="#FBEA18"/><rect x="519.63" y="540.8" width="10.73" height="7.1" fill="#FFB010"/><rect x="529.66" y="540.8" width="20.76" height="7.1" fill="#FBEA18"/><rect x="549.72" y="540.8" width="10.73" height="7.1" fill="#FFB010"/><rect x="559.75" y="540.8" width="10.73" height="7.1" fill="#FFCE10"/><rect x="569.78" y="540.8" width="10.73" height="7.1" fill="#EBF91E"/><rect x="579.81" y="540.8" width="10.73" height="7.1" fill="#FBEA18"/><rect x="589.84" y="540.8" width="10.73" height="7.1" fill="#FFCE10"/><rect x="599.87" y="540.8" width="10.03" height="7.1" fill="#FBEA18"/>
<rect x="409.3" y="547.2" width="10.73" height="7.1" fill="#FBEA18"/><rect x="419.33" y="547.2" width="10.73" height="7.1" fill="#FFCE10"/><rect x="429.36" y="547.2" width="10.73" height="7.1" fill="#DEFF26"/><rect x="439.39" y="547.2" width="40.82" height="7.1" fill="#FFCE10"/><rect x="479.51" y="547.2" width="10.73" height="7.1" fill="#EBF91E"/><rect x="489.54" y="547.2" width="10.73" height="7.1" fill="#DEFF26"/><rect x="499.57" y="547.2" width="20.76" height="7.1" fill="#FFB010"/><rect x="519.63" y="547.2" width="30.79" height="7.1" fill="#FBEA18"/><rect x="549.72" y="547.2" width="10.73" height="7.1" fill="#EBF91E"/><rect x="559.75" y="547.2" width="10.73" height="7.1" fill="#FFCE10"/><rect x="569.78" y="547.2" width="10.73" height="7.1" fill="#DEFF26"/><rect x="579.81" y="547.2" width="10.73" height="7.1" fill="#FFCE10"/><rect x="589.84" y="547.2" width="20.06" height="7.1" fill="#DEFF26"/>
<rect x="409.3" y="553.6" width="10.73" height="7.1" fill="#DEFF26"/><rect x="419.33" y="553.6" width="10.73" height="7.1" fill="#FFB010"/><rect x="429.36" y="553.6" width="10.73" height="7.1" fill="#FFCE10"/><rect x="439.39" y="553.6" width="10.73" height="7.1" fill="#FBEA18"/><rect x="449.42" y="553.6" width="20.76" height="7.1" fill="#EBF91E"/><rect x="469.48" y="553.6" width="10.73" height="7.1" fill="#FF9613"/><rect x="479.51" y="553.6" width="10.73" height="7.1" fill="#DEFF26"/><rect x="489.54" y="553.6" width="10.73" height="7.1" fill="#FBEA18"/><rect x="499.57" y="553.6" width="10.73" height="7.1" fill="#FF9613"/><rect x="509.6" y="553.6" width="10.73" height="7.1" fill="#EBF91E"/><rect x="519.63" y="553.6" width="10.73" height="7.1" fill="#DEFF26"/><rect x="529.66" y="553.6" width="10.73" height="7.1" fill="#FBEA18"/><rect x="539.69" y="553.6" width="30.79" height="7.1" fill="#FFCE10"/><rect x="569.78" y="553.6" width="20.76" height="7.1" fill="#FF9613"/><rect x="589.84" y="553.6" width="10.73" height="7.1" fill="#FFCE10"/><rect x="599.87" y="553.6" width="10.03" height="7.1" fill="#DEFF26"/>
<rect x="409.3" y="560" width="10.73" height="7.1" fill="#DEFF26"/><rect x="419.33" y="560" width="10.73" height="7.1" fill="#EBF91E"/><rect x="429.36" y="560" width="10.73" height="7.1" fill="#FFCE10"/><rect x="439.39" y="560" width="10.73" height="7.1" fill="#DEFF26"/><rect x="449.42" y="560" width="10.73" height="7.1" fill="#FFCE10"/><rect x="459.45" y="560" width="10.73" height="7.1" fill="#EBF91E"/><rect x="469.48" y="560" width="10.73" height="7.1" fill="#DEFF26"/><rect x="479.51" y="560" width="10.73" height="7.1" fill="#EBF91E"/><rect x="489.54" y="560" width="10.73" height="7.1" fill="#FFB010"/><rect x="499.57" y="560" width="10.73" height="7.1" fill="#EBF91E"/><rect x="509.6" y="560" width="10.73" height="7.1" fill="#FFCE10"/><rect x="519.63" y="560" width="10.73" height="7.1" fill="#FBEA18"/><rect x="529.66" y="560" width="10.73" height="7.1" fill="#DEFF26"/><rect x="539.69" y="560" width="10.73" height="7.1" fill="#EBF91E"/><rect x="549.72" y="560" width="10.73" height="7.1" fill="#FFCE10"/><rect x="559.75" y="560" width="10.73" height="7.1" fill="#FFB010"/><rect x="569.78" y="560" width="10.73" height="7.1" fill="#EBF91E"/><rect x="579.81" y="560" width="10.73" height="7.1" fill="#FFB010"/><rect x="589.84" y="560" width="10.73" height="7.1" fill="#EBF91E"/><rect x="599.87" y="560" width="10.03" height="7.1" fill="#FBEA18"/>
<rect x="409.3" y="566.4" width="20.76" height="7.1" fill="#EBF91E"/><rect x="429.36" y="566.4" width="10.73" height="7.1" fill="#FBEA18"/><rect x="439.39" y="566.4" width="10.73" height="7.1" fill="#DEFF26"/><rect x="449.42" y="566.4" width="10.73" height="7.1" fill="#FFCE10"/><rect x="459.45" y="566.4" width="10.73" height="7.1" fill="#FBEA18"/><rect x="469.48" y="566.4" width="20.76" height="7.1" fill="#DEFF26"/><rect x="489.54" y="566.4" width="20.76" height="7.1" fill="#EBF91E"/><rect x="509.6" y="566.4" width="10.73" height="7.1" fill="#FBEA18"/><rect x="519.63" y="566.4" width="10.73" height="7.1" fill="#DEFF26"/><rect x="529.66" y="566.4" width="10.73" height="7.1" fill="#FFCE10"/><rect x="539.69" y="566.4" width="10.73" height="7.1" fill="#EBF91E"/><rect x="549.72" y="566.4" width="10.73" height="7.1" fill="#FBEA18"/><rect x="559.75" y="566.4" width="20.76" height="7.1" fill="#DEFF26"/><rect x="579.81" y="566.4" width="10.73" height="7.1" fill="#FFCE10"/><rect x="589.84" y="566.4" width="10.73" height="7.1" fill="#EBF91E"/><rect x="599.87" y="566.4" width="10.03" height="7.1" fill="#DEFF26"/>
<rect x="409.3" y="572.8" width="10.73" height="7.1" fill="#EBF91E"/><rect x="419.33" y="572.8" width="10.73" height="7.1" fill="#FFB010"/><rect x="429.36" y="572.8" width="10.73" height="7.1" fill="#FFCE10"/><rect x="439.39" y="572.8" width="10.73" height="7.1" fill="#EBF91E"/><rect x="449.42" y="572.8" width="20.76" height="7.1" fill="#DEFF26"/><rect x="469.48" y="572.8" width="20.76" height="7.1" fill="#EBF91E"/><rect x="489.54" y="572.8" width="10.73" height="7.1" fill="#FBEA18"/><rect x="499.57" y="572.8" width="10.73" height="7.1" fill="#FFCE10"/><rect x="509.6" y="572.8" width="10.73" height="7.1" fill="#FBEA18"/><rect x="519.63" y="572.8" width="10.73" height="7.1" fill="#FFCE10"/><rect x="529.66" y="572.8" width="10.73" height="7.1" fill="#FBEA18"/><rect x="539.69" y="572.8" width="10.73" height="7.1" fill="#EBF91E"/><rect x="549.72" y="572.8" width="10.73" height="7.1" fill="#FFB010"/><rect x="559.75" y="572.8" width="10.73" height="7.1" fill="#FFCE10"/><rect x="569.78" y="572.8" width="20.76" height="7.1" fill="#EBF91E"/><rect x="589.84" y="572.8" width="10.73" height="7.1" fill="#FFCE10"/><rect x="599.87" y="572.8" width="10.03" height="7.1" fill="#EBF91E"/>
<rect x="409.3" y="579.2" width="20.76" height="7.1" fill="#EBF91E"/><rect x="429.36" y="579.2" width="10.73" height="7.1" fill="#FFCE10"/><rect x="439.39" y="579.2" width="10.73" height="7.1" fill="#DEFF26"/><rect x="449.42" y="579.2" width="10.73" height="7.1" fill="#FBEA18"/><rect x="459.45" y="579.2" width="10.73" height="7.1" fill="#DEFF26"/><rect x="469.48" y="579.2" width="10.73" height="7.1" fill="#FBEA18"/><rect x="479.51" y="579.2" width="10.73" height="7.1" fill="#DEFF26"/><rect x="489.54" y="579.2" width="10.73" height="7.1" fill="#FFCE10"/><rect x="499.57" y="579.2" width="10.73" height="7.1" fill="#FBEA18"/><rect x="509.6" y="579.2" width="10.73" height="7.1" fill="#EBF91E"/><rect x="519.63" y="579.2" width="10.73" height="7.1" fill="#FBEA18"/><rect x="529.66" y="579.2" width="10.73" height="7.1" fill="#DEFF26"/><rect x="539.69" y="579.2" width="10.73" height="7.1" fill="#EBF91E"/><rect x="549.72" y="579.2" width="10.73" height="7.1" fill="#FFCE10"/><rect x="559.75" y="579.2" width="10.73" height="7.1" fill="#FBEA18"/><rect x="569.78" y="579.2" width="10.73" height="7.1" fill="#FF9613"/><rect x="579.81" y="579.2" width="10.73" height="7.1" fill="#DEFF26"/><rect x="589.84" y="579.2" width="10.73" height="7.1" fill="#EBF91E"/><rect x="599.87" y="579.2" width="10.03" height="7.1" fill="#DEFF26"/>
<rect x="409.3" y="585.6" width="10.73" height="7.1" fill="#EBF91E"/><rect x="419.33" y="585.6" width="10.73" height="7.1" fill="#FFCE10"/><rect x="429.36" y="585.6" width="20.76" height="7.1" fill="#DEFF26"/><rect x="449.42" y="585.6" width="10.73" height="7.1" fill="#EBF91E"/><rect x="459.45" y="585.6" width="10.73" height="7.1" fill="#DEFF26"/><rect x="469.48" y="585.6" width="10.73" height="7.1" fill="#EBF91E"/><rect x="479.51" y="585.6" width="10.73" height="7.1" fill="#FBEA18"/><rect x="489.54" y="585.6" width="10.73" height="7.1" fill="#DEFF26"/><rect x="499.57" y="585.6" width="10.73" height="7.1" fill="#E1FF4C"/><rect x="509.6" y="585.6" width="10.73" height="7.1" fill="#DEFF26"/><rect x="519.63" y="585.6" width="30.79" height="7.1" fill="#EBF91E"/><rect x="549.72" y="585.6" width="10.73" height="7.1" fill="#DEFF26"/><rect x="559.75" y="585.6" width="20.76" height="7.1" fill="#EBF91E"/><rect x="579.81" y="585.6" width="10.73" height="7.1" fill="#FFB010"/><rect x="589.84" y="585.6" width="10.73" height="7.1" fill="#FFCE10"/><rect x="599.87" y="585.6" width="10.03" height="7.1" fill="#EBF91E"/>
<rect x="409.3" y="592" width="10.73" height="7.1" fill="#EBF91E"/><rect x="419.33" y="592" width="10.73" height="7.1" fill="#DEFF26"/><rect x="429.36" y="592" width="10.73" height="7.1" fill="#FF7916"/><rect x="439.39" y="592" width="10.73" height="7.1" fill="#FBEA18"/><rect x="449.42" y="592" width="20.76" height="7.1" fill="#DEFF26"/><rect x="469.48" y="592" width="20.76" height="7.1" fill="#FFCE10"/><rect x="489.54" y="592" width="10.73" height="7.1" fill="#FBEA18"/><rect x="499.57" y="592" width="10.73" height="7.1" fill="#EBF91E"/><rect x="509.6" y="592" width="10.73" height="7.1" fill="#FBEA18"/><rect x="519.63" y="592" width="10.73" height="7.1" fill="#DEFF26"/><rect x="529.66" y="592" width="10.73" height="7.1" fill="#FFCE10"/><rect x="539.69" y="592" width="40.82" height="7.1" fill="#DEFF26"/><rect x="579.81" y="592" width="10.73" height="7.1" fill="#EBF91E"/><rect x="589.84" y="592" width="20.06" height="7.1" fill="#DEFF26"/>
<rect x="409.3" y="598.4" width="10.73" height="7.1" fill="#EBF91E"/><rect x="419.33" y="598.4" width="10.73" height="7.1" fill="#FFCE10"/><rect x="429.36" y="598.4" width="20.76" height="7.1" fill="#FFB010"/><rect x="449.42" y="598.4" width="10.73" height="7.1" fill="#DEFF26"/><rect x="459.45" y="598.4" width="10.73" height="7.1" fill="#FBEA18"/><rect x="469.48" y="598.4" width="10.73" height="7.1" fill="#FFB010"/><rect x="479.51" y="598.4" width="20.76" height="7.1" fill="#DEFF26"/><rect x="499.57" y="598.4" width="10.73" height="7.1" fill="#FFB010"/><rect x="509.6" y="598.4" width="10.73" height="7.1" fill="#FBEA18"/><rect x="519.63" y="598.4" width="10.73" height="7.1" fill="#DEFF26"/><rect x="529.66" y="598.4" width="40.82" height="7.1" fill="#EBF91E"/><rect x="569.78" y="598.4" width="10.73" height="7.1" fill="#FBEA18"/><rect x="579.81" y="598.4" width="10.73" height="7.1" fill="#FF7916"/><rect x="589.84" y="598.4" width="10.73" height="7.1" fill="#FFCE10"/><rect x="599.87" y="598.4" width="10.03" height="7.1" fill="#FF9613"/>
<rect x="409.3" y="604.8" width="10.73" height="7.1" fill="#EBF91E"/><rect x="419.33" y="604.8" width="20.76" height="7.1" fill="#DEFF26"/><rect x="439.39" y="604.8" width="10.73" height="7.1" fill="#FBEA18"/><rect x="449.42" y="604.8" width="10.73" height="7.1" fill="#EBF91E"/><rect x="459.45" y="604.8" width="10.73" height="7.1" fill="#DEFF26"/><rect x="469.48" y="604.8" width="10.73" height="7.1" fill="#EBF91E"/><rect x="479.51" y="604.8" width="10.73" height="7.1" fill="#FBEA18"/><rect x="489.54" y="604.8" width="10.73" height="7.1" fill="#EBF91E"/><rect x="499.57" y="604.8" width="10.73" height="7.1" fill="#DEFF26"/><rect x="509.6" y="604.8" width="10.73" height="7.1" fill="#FFB010"/><rect x="519.63" y="604.8" width="30.79" height="7.1" fill="#FBEA18"/><rect x="549.72" y="604.8" width="10.73" height="7.1" fill="#FFCE10"/><rect x="559.75" y="604.8" width="10.73" height="7.1" fill="#FBEA18"/><rect x="569.78" y="604.8" width="10.73" height="7.1" fill="#DEFF26"/><rect x="579.81" y="604.8" width="10.73" height="7.1" fill="#EBF91E"/><rect x="589.84" y="604.8" width="10.73" height="7.1" fill="#DEFF26"/><rect x="599.87" y="604.8" width="10.03" height="7.1" fill="#FBEA18"/>
<rect x="409.3" y="611.2" width="30.79" height="7.1" fill="#EBF91E"/><rect x="439.39" y="611.2" width="10.73" height="7.1" fill="#FBEA18"/><rect x="449.42" y="611.2" width="10.73" height="7.1" fill="#DEFF26"/><rect x="459.45" y="611.2" width="10.73" height="7.1" fill="#FF5F18"/><rect x="469.48" y="611.2" width="20.76" height="7.1" fill="#FFCE10"/><rect x="489.54" y="611.2" width="20.76" height="7.1" fill="#FBEA18"/><rect x="509.6" y="611.2" width="10.73" height="7.1" fill="#EBF91E"/><rect x="519.63" y="611.2" width="10.73" height="7.1" fill="#DEFF26"/><rect x="529.66" y="611.2" width="10.73" height="7.1" fill="#FFCE10"/><rect x="539.69" y="611.2" width="10.73" height="7.1" fill="#DEFF26"/><rect x="549.72" y="611.2" width="10.73" height="7.1" fill="#FFCE10"/><rect x="559.75" y="611.2" width="20.76" height="7.1" fill="#DEFF26"/><rect x="579.81" y="611.2" width="10.73" height="7.1" fill="#FFB010"/><rect x="589.84" y="611.2" width="10.73" height="7.1" fill="#DEFF26"/><rect x="599.87" y="611.2" width="10.03" height="7.1" fill="#EBF91E"/>
<rect x="409.3" y="617.6" width="10.73" height="7.1" fill="#EBF91E"/><rect x="419.33" y="617.6" width="10.73" height="7.1" fill="#E1FF4C"/><rect x="429.36" y="617.6" width="10.73" height="7.1" fill="#DEFF26"/><rect x="439.39" y="617.6" width="10.73" height="7.1" fill="#FFCE10"/><rect x="449.42" y="617.6" width="10.73" height="7.1" fill="#FFB010"/><rect x="459.45" y="617.6" width="50.85" height="7.1" fill="#DEFF26"/><rect x="509.6" y="617.6" width="10.73" height="7.1" fill="#FFB010"/><rect x="519.63" y="617.6" width="30.79" height="7.1" fill="#DEFF26"/><rect x="549.72" y="617.6" width="20.76" height="7.1" fill="#FBEA18"/><rect x="569.78" y="617.6" width="10.73" height="7.1" fill="#FFCE10"/><rect x="579.81" y="617.6" width="30.09" height="7.1" fill="#DEFF26"/>
<rect x="409.3" y="624" width="10.73" height="7.1" fill="#DEFF26"/><rect x="419.33" y="624" width="10.73" height="7.1" fill="#E1FF4C"/><rect x="429.36" y="624" width="10.73" height="7.1" fill="#FAFFE2"/><rect x="439.39" y="624" width="10.73" height="7.1" fill="#FBEA18"/><rect x="449.42" y="624" width="30.79" height="7.1" fill="#DEFF26"/><rect x="479.51" y="624" width="10.73" height="7.1" fill="#EBF91E"/><rect x="489.54" y="624" width="20.76" height="7.1" fill="#DEFF26"/><rect x="509.6" y="624" width="10.73" height="7.1" fill="#EBF91E"/><rect x="519.63" y="624" width="50.85" height="7.1" fill="#DEFF26"/><rect x="569.78" y="624" width="10.73" height="7.1" fill="#FFB010"/><rect x="579.81" y="624" width="10.73" height="7.1" fill="#EBF91E"/><rect x="589.84" y="624" width="10.73" height="7.1" fill="#DEFF26"/><rect x="599.87" y="624" width="10.03" height="7.1" fill="#FBEA18"/>
<rect x="409.3" y="630.4" width="30.79" height="7.1" fill="#EBF91E"/><rect x="439.39" y="630.4" width="10.73" height="7.1" fill="#DEFF26"/><rect x="449.42" y="630.4" width="10.73" height="7.1" fill="#FFCE10"/><rect x="459.45" y="630.4" width="10.73" height="7.1" fill="#FBEA18"/><rect x="469.48" y="630.4" width="30.79" height="7.1" fill="#DEFF26"/><rect x="499.57" y="630.4" width="10.73" height="7.1" fill="#FFCE10"/><rect x="509.6" y="630.4" width="10.73" height="7.1" fill="#FBEA18"/><rect x="519.63" y="630.4" width="10.73" height="7.1" fill="#DEFF26"/><rect x="529.66" y="630.4" width="10.73" height="7.1" fill="#EBF91E"/><rect x="539.69" y="630.4" width="10.73" height="7.1" fill="#DEFF26"/><rect x="549.72" y="630.4" width="10.73" height="7.1" fill="#FBEA18"/><rect x="559.75" y="630.4" width="10.73" height="7.1" fill="#EBF91E"/><rect x="569.78" y="630.4" width="10.73" height="7.1" fill="#FBEA18"/><rect x="579.81" y="630.4" width="10.73" height="7.1" fill="#DEFF26"/><rect x="589.84" y="630.4" width="10.73" height="7.1" fill="#EBF91E"/><rect x="599.87" y="630.4" width="10.03" height="7.1" fill="#FFCE10"/>
<rect x="409.3" y="636.8" width="10.73" height="6.4" fill="#FFB010"/><rect x="419.33" y="636.8" width="10.73" height="6.4" fill="#FF9613"/><rect x="429.36" y="636.8" width="10.73" height="6.4" fill="#FBEA18"/><rect x="439.39" y="636.8" width="10.73" height="6.4" fill="#DEFF26"/><rect x="449.42" y="636.8" width="20.76" height="6.4" fill="#FF9613"/><rect x="469.48" y="636.8" width="10.73" height="6.4" fill="#FBEA18"/><rect x="479.51" y="636.8" width="10.73" height="6.4" fill="#DEFF26"/><rect x="489.54" y="636.8" width="10.73" height="6.4" fill="#FF9613"/><rect x="499.57" y="636.8" width="10.73" height="6.4" fill="#EBF91E"/><rect x="509.6" y="636.8" width="20.76" height="6.4" fill="#FF9613"/><rect x="529.66" y="636.8" width="20.76" height="6.4" fill="#FFB010"/><rect x="549.72" y="636.8" width="10.73" height="6.4" fill="#FFCE10"/><rect x="559.75" y="636.8" width="30.79" height="6.4" fill="#FFB010"/><rect x="589.84" y="636.8" width="10.73" height="6.4" fill="#FBEA18"/><rect x="599.87" y="636.8" width="10.03" height="6.4" fill="#FFCE10"/>
<rect x="409.3" y="387.2" width="200.6" height="256" fill="none" stroke="#333" stroke-opacity="0.45" stroke-width="0.5"/>
<line x1="409.3" y1="515.2" x2="609.9" y2="515.2" stroke="#1a1a1a" stroke-width="1.1"/>
<line x1="454.44" y1="643.2" x2="454.44" y2="647.8" stroke="#111" stroke-width="0.9"/><text class="s" x="454.44" y="666.5" font-size="15" text-anchor="middle">5</text>
<line x1="504.59" y1="643.2" x2="504.59" y2="647.8" stroke="#111" stroke-width="0.9"/><text class="s" x="504.59" y="666.5" font-size="15" text-anchor="middle">10</text>
<line x1="554.74" y1="643.2" x2="554.74" y2="647.8" stroke="#111" stroke-width="0.9"/><text class="s" x="554.74" y="666.5" font-size="15" text-anchor="middle">15</text>
<line x1="604.88" y1="643.2" x2="604.88" y2="647.8" stroke="#111" stroke-width="0.9"/><text class="s" x="604.88" y="666.5" font-size="15" text-anchor="middle">20</text>
<line x1="404.7" y1="582.4" x2="409.3" y2="582.4" stroke="#111" stroke-width="0.9"/><text class="s" font-size="15.4" text-anchor="middle" transform="translate(398,582.8) rotate(-90)">10</text>
<line x1="404.7" y1="518.4" x2="409.3" y2="518.4" stroke="#111" stroke-width="0.9"/><text class="s" font-size="15.4" text-anchor="middle" transform="translate(398,518.8) rotate(-90)">20</text>
<line x1="404.7" y1="454.4" x2="409.3" y2="454.4" stroke="#111" stroke-width="0.9"/><text class="s" font-size="15.4" text-anchor="middle" transform="translate(398,454.8) rotate(-90)">30</text>
<line x1="404.7" y1="390.4" x2="409.3" y2="390.4" stroke="#111" stroke-width="0.9"/><text class="s" font-size="15.4" text-anchor="middle" transform="translate(398,390.8) rotate(-90)">40</text>
<text class="s" x="514.2" y="691.9" font-size="18.3" text-anchor="middle">Column</text>
<text class="s" font-size="17.8" text-anchor="middle" transform="translate(373.3,512.5) rotate(-90)">Row</text>
<rect x="624.1" y="621.1" width="8.8" height="9.6" fill="#FF0D14"/><rect x="624.1" y="611.5" width="8.8" height="10.1" fill="#FF1416"/><rect x="624.1" y="601.9" width="8.8" height="10.1" fill="#FF1C16"/><rect x="624.1" y="592.3" width="8.8" height="10.1" fill="#FF2418"/><rect x="624.1" y="582.7" width="8.8" height="10.1" fill="#FF2E18"/><rect x="624.1" y="573.1" width="8.8" height="10.1" fill="#FF3A18"/><rect x="624.1" y="563.5" width="8.8" height="10.1" fill="#FF4818"/><rect x="624.1" y="553.9" width="8.8" height="10.1" fill="#FF5818"/><rect x="624.1" y="544.3" width="8.8" height="10.1" fill="#FF6818"/><rect x="624.1" y="534.7" width="8.8" height="10.1" fill="#FF7816"/><rect x="624.1" y="525.1" width="8.8" height="10.1" fill="#FF8814"/><rect x="624.1" y="515.5" width="8.8" height="10.1" fill="#FF9812"/><rect x="624.1" y="505.9" width="8.8" height="10.1" fill="#FFA812"/><rect x="624.1" y="496.3" width="8.8" height="10.1" fill="#FFBA10"/><rect x="624.1" y="486.7" width="8.8" height="10.1" fill="#FFD010"/><rect x="624.1" y="477.1" width="8.8" height="10.1" fill="#FFE818"/><rect x="624.1" y="467.5" width="8.8" height="10.1" fill="#E8FA20"/><rect x="624.1" y="457.9" width="8.8" height="10.1" fill="#DCFF25"/><rect x="624.1" y="448.3" width="8.8" height="10.1" fill="#DBFF25"/><rect x="624.1" y="438.7" width="8.8" height="10.1" fill="#DDFF30"/><rect x="624.1" y="429.1" width="8.8" height="10.1" fill="#E2FF55"/><rect x="624.1" y="419.5" width="8.8" height="10.1" fill="#E9FF80"/><rect x="624.1" y="409.9" width="8.8" height="10.1" fill="#EFFFA8"/><rect x="624.1" y="400.3" width="8.8" height="10.1" fill="#FAFFE2"/>
<rect x="624.1" y="400.3" width="8.8" height="230.4" fill="none" stroke="#151515" stroke-width="0.9"/>
<line x1="632.9" y1="600.1" x2="637.5" y2="600.1" stroke="#111" stroke-width="0.9"/><text class="s" x="642.1" y="605.2" font-size="15">2000</text>
<line x1="632.9" y1="564.7" x2="637.5" y2="564.7" stroke="#111" stroke-width="0.9"/><text class="s" x="642.1" y="569.8" font-size="15">4000</text>
<line x1="632.9" y1="529.3" x2="637.5" y2="529.3" stroke="#111" stroke-width="0.9"/><text class="s" x="642.1" y="534.4" font-size="15">6000</text>
<line x1="632.9" y1="493.9" x2="637.5" y2="493.9" stroke="#111" stroke-width="0.9"/><text class="s" x="642.1" y="499" font-size="15">8000</text>
<line x1="632.9" y1="458.5" x2="637.5" y2="458.5" stroke="#111" stroke-width="0.9"/><text class="s" x="642.1" y="463.6" font-size="15">10000</text>
<line x1="632.9" y1="423.1" x2="637.5" y2="423.1" stroke="#111" stroke-width="0.9"/><text class="s" x="642.1" y="428.2" font-size="15">12000</text>
<text class="t" x="393.5" y="723.5" font-size="20"><tspan font-weight="bold">(d)</tspan></text>
<text class="t" x="424.6" y="723.5" font-size="20">Year 2012, mild water stress</text>
</g>
</svg>
</body></html>
